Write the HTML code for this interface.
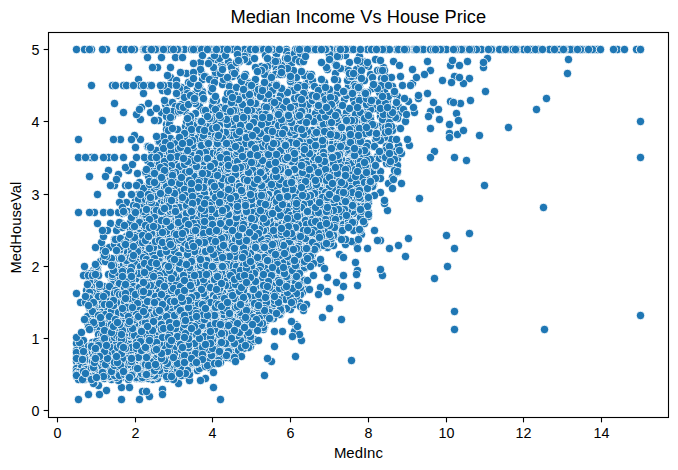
<!DOCTYPE html>
<html><head><meta charset="utf-8"><title>Median Income Vs House Price</title>
<style>
html,body{margin:0;padding:0;background:#fff;}
body{width:678px;height:470px;overflow:hidden;font-family:"Liberation Sans",sans-serif;}
svg{display:block;}
text{font-family:"Liberation Sans",sans-serif;fill:#000;}
.tk text{font-size:14.3px;}
</style></head><body>
<svg width="678" height="470" viewBox="0 0 678 470">
<rect width="678" height="470" fill="#fff"/>
<g class="pts" fill="#1f77b4" stroke="#fff" stroke-width="0.8" transform="translate(0.5 0.5)">
<circle cx="361" cy="95" r="4.17"/><circle cx="282" cy="309" r="4.17"/><circle cx="336" cy="122" r="4.17"/><circle cx="449" cy="124" r="4.17"/><circle cx="591" cy="49" r="4.17"/><circle cx="366" cy="133" r="4.17"/><circle cx="287" cy="56" r="4.17"/><circle cx="213" cy="121" r="4.17"/><circle cx="231" cy="358" r="4.17"/><circle cx="372" cy="49" r="4.17"/><circle cx="158" cy="141" r="4.17"/><circle cx="231" cy="354" r="4.17"/><circle cx="239" cy="109" r="4.17"/><circle cx="345" cy="55" r="4.17"/><circle cx="309" cy="84" r="4.17"/><circle cx="76" cy="369" r="4.17"/><circle cx="370" cy="74" r="4.17"/><circle cx="280" cy="314" r="4.17"/><circle cx="102" cy="376" r="4.17"/><circle cx="324" cy="82" r="4.17"/><circle cx="381" cy="78" r="4.17"/><circle cx="268" cy="75" r="4.17"/><circle cx="335" cy="73" r="4.17"/><circle cx="103" cy="252" r="4.17"/><circle cx="301" cy="138" r="4.17"/><circle cx="314" cy="49" r="4.17"/><circle cx="571" cy="49" r="4.17"/><circle cx="91" cy="157" r="4.17"/><circle cx="408" cy="238" r="4.17"/><circle cx="339" cy="221" r="4.17"/><circle cx="384" cy="91" r="4.17"/><circle cx="215" cy="363" r="4.17"/><circle cx="104" cy="378" r="4.17"/><circle cx="78" cy="366" r="4.17"/><circle cx="250" cy="346" r="4.17"/><circle cx="430" cy="128" r="4.17"/><circle cx="338" cy="177" r="4.17"/><circle cx="456" cy="49" r="4.17"/><circle cx="249" cy="49" r="4.17"/><circle cx="221" cy="65" r="4.17"/><circle cx="402" cy="85" r="4.17"/><circle cx="193" cy="120" r="4.17"/><circle cx="149" cy="85" r="4.17"/><circle cx="394" cy="128" r="4.17"/><circle cx="397" cy="96" r="4.17"/><circle cx="200" cy="62" r="4.17"/><circle cx="97" cy="270" r="4.17"/><circle cx="322" cy="89" r="4.17"/><circle cx="387" cy="210" r="4.17"/><circle cx="267" cy="67" r="4.17"/><circle cx="113" cy="264" r="4.17"/><circle cx="387" cy="104" r="4.17"/><circle cx="272" cy="306" r="4.17"/><circle cx="249" cy="82" r="4.17"/><circle cx="357" cy="123" r="4.17"/><circle cx="384" cy="203" r="4.17"/><circle cx="255" cy="85" r="4.17"/><circle cx="76" cy="357" r="4.17"/><circle cx="228" cy="357" r="4.17"/><circle cx="328" cy="129" r="4.17"/><circle cx="359" cy="119" r="4.17"/><circle cx="386" cy="77" r="4.17"/><circle cx="469" cy="233" r="4.17"/><circle cx="308" cy="100" r="4.17"/><circle cx="274" cy="65" r="4.17"/><circle cx="294" cy="291" r="4.17"/><circle cx="165" cy="104" r="4.17"/><circle cx="331" cy="144" r="4.17"/><circle cx="76" cy="343" r="4.17"/><circle cx="157" cy="67" r="4.17"/><circle cx="373" cy="146" r="4.17"/><circle cx="192" cy="94" r="4.17"/><circle cx="180" cy="131" r="4.17"/><circle cx="255" cy="108" r="4.17"/><circle cx="421" cy="49" r="4.17"/><circle cx="170" cy="138" r="4.17"/><circle cx="418" cy="98" r="4.17"/><circle cx="334" cy="236" r="4.17"/><circle cx="121" cy="238" r="4.17"/><circle cx="199" cy="106" r="4.17"/><circle cx="161" cy="57" r="4.17"/><circle cx="392" cy="86" r="4.17"/><circle cx="303" cy="49" r="4.17"/><circle cx="485" cy="91" r="4.17"/><circle cx="191" cy="364" r="4.17"/><circle cx="380" cy="116" r="4.17"/><circle cx="231" cy="49" r="4.17"/><circle cx="162" cy="184" r="4.17"/><circle cx="326" cy="135" r="4.17"/><circle cx="247" cy="56" r="4.17"/><circle cx="374" cy="230" r="4.17"/><circle cx="214" cy="77" r="4.17"/><circle cx="423" cy="49" r="4.17"/><circle cx="357" cy="270" r="4.17"/><circle cx="302" cy="279" r="4.17"/><circle cx="123" cy="85" r="4.17"/><circle cx="78" cy="399" r="4.17"/><circle cx="562" cy="49" r="4.17"/><circle cx="152" cy="49" r="4.17"/><circle cx="150" cy="180" r="4.17"/><circle cx="235" cy="69" r="4.17"/><circle cx="368" cy="66" r="4.17"/><circle cx="348" cy="86" r="4.17"/><circle cx="257" cy="49" r="4.17"/><circle cx="393" cy="111" r="4.17"/><circle cx="339" cy="138" r="4.17"/><circle cx="209" cy="126" r="4.17"/><circle cx="383" cy="67" r="4.17"/><circle cx="230" cy="111" r="4.17"/><circle cx="359" cy="90" r="4.17"/><circle cx="151" cy="85" r="4.17"/><circle cx="368" cy="212" r="4.17"/><circle cx="172" cy="116" r="4.17"/><circle cx="363" cy="142" r="4.17"/><circle cx="617" cy="49" r="4.17"/><circle cx="108" cy="157" r="4.17"/><circle cx="216" cy="145" r="4.17"/><circle cx="230" cy="348" r="4.17"/><circle cx="318" cy="129" r="4.17"/><circle cx="389" cy="132" r="4.17"/><circle cx="340" cy="223" r="4.17"/><circle cx="248" cy="83" r="4.17"/><circle cx="492" cy="49" r="4.17"/><circle cx="376" cy="140" r="4.17"/><circle cx="141" cy="378" r="4.17"/><circle cx="103" cy="248" r="4.17"/><circle cx="118" cy="257" r="4.17"/><circle cx="379" cy="110" r="4.17"/><circle cx="266" cy="114" r="4.17"/><circle cx="359" cy="65" r="4.17"/><circle cx="332" cy="204" r="4.17"/><circle cx="108" cy="170" r="4.17"/><circle cx="228" cy="61" r="4.17"/><circle cx="123" cy="157" r="4.17"/><circle cx="345" cy="244" r="4.17"/><circle cx="321" cy="94" r="4.17"/><circle cx="175" cy="57" r="4.17"/><circle cx="220" cy="107" r="4.17"/><circle cx="594" cy="49" r="4.17"/><circle cx="302" cy="49" r="4.17"/><circle cx="175" cy="168" r="4.17"/><circle cx="125" cy="185" r="4.17"/><circle cx="118" cy="174" r="4.17"/><circle cx="409" cy="145" r="4.17"/><circle cx="401" cy="183" r="4.17"/><circle cx="294" cy="331" r="4.17"/><circle cx="339" cy="53" r="4.17"/><circle cx="386" cy="163" r="4.17"/><circle cx="286" cy="49" r="4.17"/><circle cx="348" cy="153" r="4.17"/><circle cx="439" cy="119" r="4.17"/><circle cx="388" cy="183" r="4.17"/><circle cx="94" cy="279" r="4.17"/><circle cx="98" cy="311" r="4.17"/><circle cx="378" cy="170" r="4.17"/><circle cx="167" cy="102" r="4.17"/><circle cx="183" cy="89" r="4.17"/><circle cx="201" cy="121" r="4.17"/><circle cx="104" cy="307" r="4.17"/><circle cx="295" cy="49" r="4.17"/><circle cx="368" cy="109" r="4.17"/><circle cx="365" cy="92" r="4.17"/><circle cx="358" cy="114" r="4.17"/><circle cx="169" cy="85" r="4.17"/><circle cx="377" cy="156" r="4.17"/><circle cx="100" cy="261" r="4.17"/><circle cx="199" cy="123" r="4.17"/><circle cx="500" cy="49" r="4.17"/><circle cx="400" cy="76" r="4.17"/><circle cx="268" cy="65" r="4.17"/><circle cx="94" cy="212" r="4.17"/><circle cx="285" cy="58" r="4.17"/><circle cx="340" cy="297" r="4.17"/><circle cx="167" cy="49" r="4.17"/><circle cx="398" cy="106" r="4.17"/><circle cx="285" cy="126" r="4.17"/><circle cx="186" cy="370" r="4.17"/><circle cx="275" cy="310" r="4.17"/><circle cx="394" cy="151" r="4.17"/><circle cx="91" cy="286" r="4.17"/><circle cx="367" cy="107" r="4.17"/><circle cx="277" cy="119" r="4.17"/><circle cx="372" cy="88" r="4.17"/><circle cx="111" cy="279" r="4.17"/><circle cx="142" cy="378" r="4.17"/><circle cx="268" cy="301" r="4.17"/><circle cx="336" cy="282" r="4.17"/><circle cx="197" cy="96" r="4.17"/><circle cx="233" cy="68" r="4.17"/><circle cx="388" cy="119" r="4.17"/><circle cx="105" cy="176" r="4.17"/><circle cx="106" cy="49" r="4.17"/><circle cx="165" cy="152" r="4.17"/><circle cx="303" cy="310" r="4.17"/><circle cx="337" cy="135" r="4.17"/><circle cx="220" cy="49" r="4.17"/><circle cx="365" cy="151" r="4.17"/><circle cx="304" cy="127" r="4.17"/><circle cx="91" cy="345" r="4.17"/><circle cx="196" cy="137" r="4.17"/><circle cx="338" cy="233" r="4.17"/><circle cx="382" cy="275" r="4.17"/><circle cx="375" cy="139" r="4.17"/><circle cx="137" cy="227" r="4.17"/><circle cx="320" cy="103" r="4.17"/><circle cx="384" cy="49" r="4.17"/><circle cx="375" cy="59" r="4.17"/><circle cx="89" cy="308" r="4.17"/><circle cx="187" cy="370" r="4.17"/><circle cx="315" cy="121" r="4.17"/><circle cx="226" cy="348" r="4.17"/><circle cx="386" cy="143" r="4.17"/><circle cx="243" cy="88" r="4.17"/><circle cx="178" cy="112" r="4.17"/><circle cx="220" cy="351" r="4.17"/><circle cx="81" cy="378" r="4.17"/><circle cx="403" cy="49" r="4.17"/><circle cx="216" cy="59" r="4.17"/><circle cx="101" cy="375" r="4.17"/><circle cx="215" cy="127" r="4.17"/><circle cx="202" cy="79" r="4.17"/><circle cx="361" cy="234" r="4.17"/><circle cx="393" cy="61" r="4.17"/><circle cx="536" cy="109" r="4.17"/><circle cx="353" cy="85" r="4.17"/><circle cx="142" cy="224" r="4.17"/><circle cx="260" cy="49" r="4.17"/><circle cx="553" cy="49" r="4.17"/><circle cx="352" cy="94" r="4.17"/><circle cx="236" cy="49" r="4.17"/><circle cx="116" cy="230" r="4.17"/><circle cx="275" cy="66" r="4.17"/><circle cx="102" cy="312" r="4.17"/><circle cx="392" cy="150" r="4.17"/><circle cx="170" cy="77" r="4.17"/><circle cx="300" cy="62" r="4.17"/><circle cx="331" cy="136" r="4.17"/><circle cx="85" cy="273" r="4.17"/><circle cx="298" cy="152" r="4.17"/><circle cx="271" cy="95" r="4.17"/><circle cx="145" cy="172" r="4.17"/><circle cx="98" cy="275" r="4.17"/><circle cx="76" cy="375" r="4.17"/><circle cx="358" cy="147" r="4.17"/><circle cx="317" cy="148" r="4.17"/><circle cx="238" cy="349" r="4.17"/><circle cx="76" cy="361" r="4.17"/><circle cx="147" cy="160" r="4.17"/><circle cx="202" cy="91" r="4.17"/><circle cx="380" cy="269" r="4.17"/><circle cx="370" cy="171" r="4.17"/><circle cx="314" cy="104" r="4.17"/><circle cx="392" cy="177" r="4.17"/><circle cx="363" cy="61" r="4.17"/><circle cx="587" cy="49" r="4.17"/><circle cx="163" cy="374" r="4.17"/><circle cx="203" cy="99" r="4.17"/><circle cx="189" cy="372" r="4.17"/><circle cx="388" cy="111" r="4.17"/><circle cx="162" cy="139" r="4.17"/><circle cx="344" cy="222" r="4.17"/><circle cx="142" cy="391" r="4.17"/><circle cx="265" cy="73" r="4.17"/><circle cx="126" cy="202" r="4.17"/><circle cx="159" cy="141" r="4.17"/><circle cx="333" cy="205" r="4.17"/><circle cx="373" cy="185" r="4.17"/><circle cx="356" cy="69" r="4.17"/><circle cx="309" cy="251" r="4.17"/><circle cx="186" cy="73" r="4.17"/><circle cx="113" cy="378" r="4.17"/><circle cx="356" cy="122" r="4.17"/><circle cx="247" cy="100" r="4.17"/><circle cx="321" cy="133" r="4.17"/><circle cx="356" cy="243" r="4.17"/><circle cx="468" cy="49" r="4.17"/><circle cx="353" cy="99" r="4.17"/><circle cx="275" cy="149" r="4.17"/><circle cx="207" cy="360" r="4.17"/><circle cx="397" cy="158" r="4.17"/><circle cx="301" cy="268" r="4.17"/><circle cx="354" cy="136" r="4.17"/><circle cx="312" cy="49" r="4.17"/><circle cx="264" cy="327" r="4.17"/><circle cx="281" cy="65" r="4.17"/><circle cx="244" cy="340" r="4.17"/><circle cx="449" cy="133" r="4.17"/><circle cx="381" cy="125" r="4.17"/><circle cx="596" cy="49" r="4.17"/><circle cx="181" cy="87" r="4.17"/><circle cx="257" cy="92" r="4.17"/><circle cx="164" cy="144" r="4.17"/><circle cx="327" cy="198" r="4.17"/><circle cx="272" cy="84" r="4.17"/><circle cx="282" cy="89" r="4.17"/><circle cx="387" cy="100" r="4.17"/><circle cx="162" cy="389" r="4.17"/><circle cx="130" cy="229" r="4.17"/><circle cx="304" cy="268" r="4.17"/><circle cx="326" cy="95" r="4.17"/><circle cx="310" cy="49" r="4.17"/><circle cx="98" cy="385" r="4.17"/><circle cx="108" cy="377" r="4.17"/><circle cx="306" cy="83" r="4.17"/><circle cx="280" cy="312" r="4.17"/><circle cx="290" cy="289" r="4.17"/><circle cx="298" cy="264" r="4.17"/><circle cx="349" cy="62" r="4.17"/><circle cx="198" cy="49" r="4.17"/><circle cx="112" cy="280" r="4.17"/><circle cx="349" cy="134" r="4.17"/><circle cx="366" cy="212" r="4.17"/><circle cx="345" cy="227" r="4.17"/><circle cx="98" cy="304" r="4.17"/><circle cx="528" cy="49" r="4.17"/><circle cx="322" cy="200" r="4.17"/><circle cx="219" cy="127" r="4.17"/><circle cx="593" cy="49" r="4.17"/><circle cx="158" cy="49" r="4.17"/><circle cx="326" cy="116" r="4.17"/><circle cx="110" cy="223" r="4.17"/><circle cx="288" cy="73" r="4.17"/><circle cx="340" cy="155" r="4.17"/><circle cx="240" cy="78" r="4.17"/><circle cx="223" cy="123" r="4.17"/><circle cx="398" cy="114" r="4.17"/><circle cx="152" cy="198" r="4.17"/><circle cx="151" cy="150" r="4.17"/><circle cx="335" cy="229" r="4.17"/><circle cx="378" cy="85" r="4.17"/><circle cx="341" cy="177" r="4.17"/><circle cx="328" cy="53" r="4.17"/><circle cx="346" cy="204" r="4.17"/><circle cx="308" cy="81" r="4.17"/><circle cx="94" cy="305" r="4.17"/><circle cx="582" cy="49" r="4.17"/><circle cx="438" cy="49" r="4.17"/><circle cx="278" cy="122" r="4.17"/><circle cx="188" cy="82" r="4.17"/><circle cx="216" cy="150" r="4.17"/><circle cx="320" cy="101" r="4.17"/><circle cx="188" cy="372" r="4.17"/><circle cx="343" cy="152" r="4.17"/><circle cx="253" cy="341" r="4.17"/><circle cx="387" cy="145" r="4.17"/><circle cx="372" cy="186" r="4.17"/><circle cx="360" cy="230" r="4.17"/><circle cx="128" cy="170" r="4.17"/><circle cx="193" cy="127" r="4.17"/><circle cx="170" cy="67" r="4.17"/><circle cx="82" cy="379" r="4.17"/><circle cx="317" cy="134" r="4.17"/><circle cx="419" cy="198" r="4.17"/><circle cx="221" cy="345" r="4.17"/><circle cx="597" cy="49" r="4.17"/><circle cx="387" cy="116" r="4.17"/><circle cx="152" cy="67" r="4.17"/><circle cx="190" cy="117" r="4.17"/><circle cx="355" cy="125" r="4.17"/><circle cx="503" cy="49" r="4.17"/><circle cx="81" cy="358" r="4.17"/><circle cx="318" cy="247" r="4.17"/><circle cx="191" cy="133" r="4.17"/><circle cx="319" cy="129" r="4.17"/><circle cx="232" cy="344" r="4.17"/><circle cx="347" cy="49" r="4.17"/><circle cx="185" cy="126" r="4.17"/><circle cx="102" cy="49" r="4.17"/><circle cx="172" cy="188" r="4.17"/><circle cx="211" cy="90" r="4.17"/><circle cx="288" cy="138" r="4.17"/><circle cx="121" cy="377" r="4.17"/><circle cx="178" cy="95" r="4.17"/><circle cx="226" cy="356" r="4.17"/><circle cx="430" cy="70" r="4.17"/><circle cx="157" cy="164" r="4.17"/><circle cx="529" cy="49" r="4.17"/><circle cx="121" cy="223" r="4.17"/><circle cx="76" cy="49" r="4.17"/><circle cx="271" cy="361" r="4.17"/><circle cx="430" cy="49" r="4.17"/><circle cx="393" cy="154" r="4.17"/><circle cx="184" cy="49" r="4.17"/><circle cx="327" cy="247" r="4.17"/><circle cx="380" cy="171" r="4.17"/><circle cx="88" cy="365" r="4.17"/><circle cx="312" cy="254" r="4.17"/><circle cx="359" cy="140" r="4.17"/><circle cx="143" cy="202" r="4.17"/><circle cx="101" cy="242" r="4.17"/><circle cx="94" cy="382" r="4.17"/><circle cx="157" cy="157" r="4.17"/><circle cx="162" cy="90" r="4.17"/><circle cx="216" cy="107" r="4.17"/><circle cx="76" cy="375" r="4.17"/><circle cx="248" cy="121" r="4.17"/><circle cx="145" cy="186" r="4.17"/><circle cx="624" cy="49" r="4.17"/><circle cx="125" cy="167" r="4.17"/><circle cx="262" cy="107" r="4.17"/><circle cx="224" cy="49" r="4.17"/><circle cx="140" cy="139" r="4.17"/><circle cx="307" cy="110" r="4.17"/><circle cx="195" cy="113" r="4.17"/><circle cx="517" cy="49" r="4.17"/><circle cx="232" cy="71" r="4.17"/><circle cx="300" cy="132" r="4.17"/><circle cx="283" cy="95" r="4.17"/><circle cx="311" cy="260" r="4.17"/><circle cx="318" cy="247" r="4.17"/><circle cx="108" cy="274" r="4.17"/><circle cx="230" cy="65" r="4.17"/><circle cx="403" cy="109" r="4.17"/><circle cx="143" cy="231" r="4.17"/><circle cx="276" cy="69" r="4.17"/><circle cx="408" cy="101" r="4.17"/><circle cx="589" cy="49" r="4.17"/><circle cx="341" cy="116" r="4.17"/><circle cx="380" cy="240" r="4.17"/><circle cx="404" cy="98" r="4.17"/><circle cx="336" cy="235" r="4.17"/><circle cx="205" cy="115" r="4.17"/><circle cx="331" cy="220" r="4.17"/><circle cx="119" cy="258" r="4.17"/><circle cx="367" cy="92" r="4.17"/><circle cx="391" cy="164" r="4.17"/><circle cx="397" cy="165" r="4.17"/><circle cx="306" cy="242" r="4.17"/><circle cx="339" cy="216" r="4.17"/><circle cx="164" cy="158" r="4.17"/><circle cx="144" cy="229" r="4.17"/><circle cx="142" cy="222" r="4.17"/><circle cx="248" cy="113" r="4.17"/><circle cx="88" cy="304" r="4.17"/><circle cx="556" cy="49" r="4.17"/><circle cx="304" cy="91" r="4.17"/><circle cx="266" cy="81" r="4.17"/><circle cx="374" cy="159" r="4.17"/><circle cx="146" cy="49" r="4.17"/><circle cx="401" cy="153" r="4.17"/><circle cx="196" cy="49" r="4.17"/><circle cx="76" cy="376" r="4.17"/><circle cx="386" cy="146" r="4.17"/><circle cx="294" cy="80" r="4.17"/><circle cx="137" cy="185" r="4.17"/><circle cx="288" cy="60" r="4.17"/><circle cx="382" cy="119" r="4.17"/><circle cx="262" cy="325" r="4.17"/><circle cx="186" cy="89" r="4.17"/><circle cx="572" cy="49" r="4.17"/><circle cx="507" cy="49" r="4.17"/><circle cx="228" cy="84" r="4.17"/><circle cx="205" cy="149" r="4.17"/><circle cx="308" cy="243" r="4.17"/><circle cx="185" cy="111" r="4.17"/><circle cx="200" cy="366" r="4.17"/><circle cx="442" cy="49" r="4.17"/><circle cx="79" cy="362" r="4.17"/><circle cx="390" cy="156" r="4.17"/><circle cx="117" cy="267" r="4.17"/><circle cx="299" cy="275" r="4.17"/><circle cx="91" cy="360" r="4.17"/><circle cx="248" cy="61" r="4.17"/><circle cx="150" cy="112" r="4.17"/><circle cx="199" cy="86" r="4.17"/><circle cx="473" cy="49" r="4.17"/><circle cx="146" cy="229" r="4.17"/><circle cx="204" cy="153" r="4.17"/><circle cx="97" cy="267" r="4.17"/><circle cx="299" cy="140" r="4.17"/><circle cx="139" cy="182" r="4.17"/><circle cx="308" cy="243" r="4.17"/><circle cx="329" cy="244" r="4.17"/><circle cx="106" cy="292" r="4.17"/><circle cx="122" cy="227" r="4.17"/><circle cx="351" cy="49" r="4.17"/><circle cx="315" cy="113" r="4.17"/><circle cx="171" cy="145" r="4.17"/><circle cx="320" cy="245" r="4.17"/><circle cx="568" cy="49" r="4.17"/><circle cx="393" cy="179" r="4.17"/><circle cx="320" cy="263" r="4.17"/><circle cx="261" cy="66" r="4.17"/><circle cx="269" cy="99" r="4.17"/><circle cx="322" cy="127" r="4.17"/><circle cx="346" cy="112" r="4.17"/><circle cx="136" cy="233" r="4.17"/><circle cx="351" cy="117" r="4.17"/><circle cx="190" cy="95" r="4.17"/><circle cx="386" cy="49" r="4.17"/><circle cx="277" cy="72" r="4.17"/><circle cx="140" cy="234" r="4.17"/><circle cx="269" cy="125" r="4.17"/><circle cx="103" cy="236" r="4.17"/><circle cx="175" cy="141" r="4.17"/><circle cx="367" cy="154" r="4.17"/><circle cx="276" cy="54" r="4.17"/><circle cx="343" cy="286" r="4.17"/><circle cx="162" cy="146" r="4.17"/><circle cx="320" cy="154" r="4.17"/><circle cx="334" cy="236" r="4.17"/><circle cx="254" cy="49" r="4.17"/><circle cx="262" cy="49" r="4.17"/><circle cx="137" cy="173" r="4.17"/><circle cx="78" cy="157" r="4.17"/><circle cx="137" cy="232" r="4.17"/><circle cx="154" cy="49" r="4.17"/><circle cx="208" cy="49" r="4.17"/><circle cx="329" cy="308" r="4.17"/><circle cx="253" cy="90" r="4.17"/><circle cx="339" cy="254" r="4.17"/><circle cx="544" cy="329" r="4.17"/><circle cx="128" cy="185" r="4.17"/><circle cx="346" cy="220" r="4.17"/><circle cx="98" cy="331" r="4.17"/><circle cx="331" cy="119" r="4.17"/><circle cx="91" cy="49" r="4.17"/><circle cx="357" cy="149" r="4.17"/><circle cx="134" cy="49" r="4.17"/><circle cx="114" cy="185" r="4.17"/><circle cx="320" cy="128" r="4.17"/><circle cx="298" cy="111" r="4.17"/><circle cx="339" cy="120" r="4.17"/><circle cx="138" cy="79" r="4.17"/><circle cx="105" cy="306" r="4.17"/><circle cx="223" cy="49" r="4.17"/><circle cx="250" cy="342" r="4.17"/><circle cx="337" cy="104" r="4.17"/><circle cx="90" cy="349" r="4.17"/><circle cx="152" cy="379" r="4.17"/><circle cx="197" cy="370" r="4.17"/><circle cx="397" cy="118" r="4.17"/><circle cx="164" cy="375" r="4.17"/><circle cx="97" cy="328" r="4.17"/><circle cx="356" cy="205" r="4.17"/><circle cx="320" cy="49" r="4.17"/><circle cx="96" cy="293" r="4.17"/><circle cx="321" cy="96" r="4.17"/><circle cx="211" cy="109" r="4.17"/><circle cx="341" cy="206" r="4.17"/><circle cx="363" cy="170" r="4.17"/><circle cx="190" cy="83" r="4.17"/><circle cx="172" cy="102" r="4.17"/><circle cx="313" cy="103" r="4.17"/><circle cx="377" cy="100" r="4.17"/><circle cx="317" cy="107" r="4.17"/><circle cx="358" cy="107" r="4.17"/><circle cx="148" cy="378" r="4.17"/><circle cx="508" cy="127" r="4.17"/><circle cx="232" cy="342" r="4.17"/><circle cx="220" cy="348" r="4.17"/><circle cx="319" cy="88" r="4.17"/><circle cx="380" cy="192" r="4.17"/><circle cx="93" cy="270" r="4.17"/><circle cx="273" cy="302" r="4.17"/><circle cx="189" cy="115" r="4.17"/><circle cx="101" cy="375" r="4.17"/><circle cx="104" cy="312" r="4.17"/><circle cx="295" cy="104" r="4.17"/><circle cx="294" cy="146" r="4.17"/><circle cx="360" cy="60" r="4.17"/><circle cx="161" cy="189" r="4.17"/><circle cx="173" cy="378" r="4.17"/><circle cx="306" cy="49" r="4.17"/><circle cx="148" cy="176" r="4.17"/><circle cx="186" cy="121" r="4.17"/><circle cx="412" cy="83" r="4.17"/><circle cx="276" cy="84" r="4.17"/><circle cx="335" cy="94" r="4.17"/><circle cx="434" cy="151" r="4.17"/><circle cx="264" cy="375" r="4.17"/><circle cx="320" cy="287" r="4.17"/><circle cx="197" cy="49" r="4.17"/><circle cx="157" cy="49" r="4.17"/><circle cx="304" cy="128" r="4.17"/><circle cx="126" cy="249" r="4.17"/><circle cx="163" cy="136" r="4.17"/><circle cx="98" cy="339" r="4.17"/><circle cx="299" cy="85" r="4.17"/><circle cx="364" cy="80" r="4.17"/><circle cx="153" cy="204" r="4.17"/><circle cx="83" cy="275" r="4.17"/><circle cx="315" cy="249" r="4.17"/><circle cx="111" cy="285" r="4.17"/><circle cx="364" cy="223" r="4.17"/><circle cx="533" cy="49" r="4.17"/><circle cx="341" cy="230" r="4.17"/><circle cx="185" cy="152" r="4.17"/><circle cx="254" cy="85" r="4.17"/><circle cx="243" cy="59" r="4.17"/><circle cx="174" cy="143" r="4.17"/><circle cx="153" cy="155" r="4.17"/><circle cx="192" cy="49" r="4.17"/><circle cx="164" cy="148" r="4.17"/><circle cx="263" cy="329" r="4.17"/><circle cx="413" cy="49" r="4.17"/><circle cx="219" cy="122" r="4.17"/><circle cx="392" cy="109" r="4.17"/><circle cx="103" cy="258" r="4.17"/><circle cx="295" cy="356" r="4.17"/><circle cx="242" cy="95" r="4.17"/><circle cx="236" cy="51" r="4.17"/><circle cx="334" cy="133" r="4.17"/><circle cx="299" cy="128" r="4.17"/><circle cx="195" cy="103" r="4.17"/><circle cx="166" cy="124" r="4.17"/><circle cx="111" cy="379" r="4.17"/><circle cx="140" cy="85" r="4.17"/><circle cx="307" cy="74" r="4.17"/><circle cx="76" cy="352" r="4.17"/><circle cx="333" cy="94" r="4.17"/><circle cx="367" cy="166" r="4.17"/><circle cx="389" cy="155" r="4.17"/><circle cx="212" cy="101" r="4.17"/><circle cx="336" cy="49" r="4.17"/><circle cx="368" cy="216" r="4.17"/><circle cx="355" cy="199" r="4.17"/><circle cx="161" cy="201" r="4.17"/><circle cx="202" cy="94" r="4.17"/><circle cx="354" cy="222" r="4.17"/><circle cx="194" cy="364" r="4.17"/><circle cx="109" cy="247" r="4.17"/><circle cx="460" cy="49" r="4.17"/><circle cx="442" cy="80" r="4.17"/><circle cx="254" cy="58" r="4.17"/><circle cx="475" cy="49" r="4.17"/><circle cx="201" cy="72" r="4.17"/><circle cx="235" cy="94" r="4.17"/><circle cx="418" cy="95" r="4.17"/><circle cx="277" cy="87" r="4.17"/><circle cx="228" cy="115" r="4.17"/><circle cx="306" cy="247" r="4.17"/><circle cx="264" cy="74" r="4.17"/><circle cx="291" cy="88" r="4.17"/><circle cx="205" cy="378" r="4.17"/><circle cx="311" cy="74" r="4.17"/><circle cx="348" cy="161" r="4.17"/><circle cx="394" cy="114" r="4.17"/><circle cx="290" cy="90" r="4.17"/><circle cx="158" cy="120" r="4.17"/><circle cx="300" cy="183" r="4.17"/><circle cx="103" cy="286" r="4.17"/><circle cx="265" cy="128" r="4.17"/><circle cx="327" cy="69" r="4.17"/><circle cx="483" cy="67" r="4.17"/><circle cx="97" cy="194" r="4.17"/><circle cx="346" cy="69" r="4.17"/><circle cx="337" cy="192" r="4.17"/><circle cx="225" cy="343" r="4.17"/><circle cx="288" cy="130" r="4.17"/><circle cx="275" cy="129" r="4.17"/><circle cx="304" cy="267" r="4.17"/><circle cx="338" cy="226" r="4.17"/><circle cx="264" cy="67" r="4.17"/><circle cx="546" cy="98" r="4.17"/><circle cx="347" cy="80" r="4.17"/><circle cx="86" cy="290" r="4.17"/><circle cx="396" cy="49" r="4.17"/><circle cx="236" cy="121" r="4.17"/><circle cx="345" cy="180" r="4.17"/><circle cx="119" cy="252" r="4.17"/><circle cx="84" cy="266" r="4.17"/><circle cx="222" cy="84" r="4.17"/><circle cx="141" cy="107" r="4.17"/><circle cx="304" cy="86" r="4.17"/><circle cx="150" cy="376" r="4.17"/><circle cx="320" cy="182" r="4.17"/><circle cx="490" cy="49" r="4.17"/><circle cx="98" cy="338" r="4.17"/><circle cx="399" cy="65" r="4.17"/><circle cx="346" cy="126" r="4.17"/><circle cx="293" cy="109" r="4.17"/><circle cx="434" cy="278" r="4.17"/><circle cx="271" cy="121" r="4.17"/><circle cx="276" cy="101" r="4.17"/><circle cx="121" cy="399" r="4.17"/><circle cx="131" cy="376" r="4.17"/><circle cx="161" cy="112" r="4.17"/><circle cx="350" cy="225" r="4.17"/><circle cx="89" cy="287" r="4.17"/><circle cx="365" cy="125" r="4.17"/><circle cx="389" cy="122" r="4.17"/><circle cx="375" cy="49" r="4.17"/><circle cx="246" cy="92" r="4.17"/><circle cx="283" cy="309" r="4.17"/><circle cx="112" cy="265" r="4.17"/><circle cx="200" cy="69" r="4.17"/><circle cx="156" cy="150" r="4.17"/><circle cx="427" cy="93" r="4.17"/><circle cx="441" cy="49" r="4.17"/><circle cx="301" cy="253" r="4.17"/><circle cx="336" cy="107" r="4.17"/><circle cx="228" cy="113" r="4.17"/><circle cx="212" cy="106" r="4.17"/><circle cx="353" cy="49" r="4.17"/><circle cx="346" cy="152" r="4.17"/><circle cx="366" cy="195" r="4.17"/><circle cx="216" cy="166" r="4.17"/><circle cx="84" cy="49" r="4.17"/><circle cx="272" cy="49" r="4.17"/><circle cx="176" cy="80" r="4.17"/><circle cx="238" cy="62" r="4.17"/><circle cx="114" cy="103" r="4.17"/><circle cx="102" cy="295" r="4.17"/><circle cx="298" cy="98" r="4.17"/><circle cx="170" cy="172" r="4.17"/><circle cx="261" cy="49" r="4.17"/><circle cx="354" cy="194" r="4.17"/><circle cx="361" cy="188" r="4.17"/><circle cx="272" cy="149" r="4.17"/><circle cx="335" cy="100" r="4.17"/><circle cx="537" cy="49" r="4.17"/><circle cx="272" cy="116" r="4.17"/><circle cx="166" cy="116" r="4.17"/><circle cx="206" cy="147" r="4.17"/><circle cx="357" cy="285" r="4.17"/><circle cx="139" cy="399" r="4.17"/><circle cx="278" cy="311" r="4.17"/><circle cx="344" cy="141" r="4.17"/><circle cx="323" cy="187" r="4.17"/><circle cx="449" cy="137" r="4.17"/><circle cx="76" cy="350" r="4.17"/><circle cx="330" cy="94" r="4.17"/><circle cx="298" cy="259" r="4.17"/><circle cx="273" cy="313" r="4.17"/><circle cx="102" cy="120" r="4.17"/><circle cx="281" cy="297" r="4.17"/><circle cx="350" cy="127" r="4.17"/><circle cx="330" cy="217" r="4.17"/><circle cx="147" cy="186" r="4.17"/><circle cx="138" cy="232" r="4.17"/><circle cx="316" cy="118" r="4.17"/><circle cx="304" cy="126" r="4.17"/><circle cx="335" cy="121" r="4.17"/><circle cx="340" cy="154" r="4.17"/><circle cx="87" cy="316" r="4.17"/><circle cx="282" cy="74" r="4.17"/><circle cx="187" cy="163" r="4.17"/><circle cx="487" cy="58" r="4.17"/><circle cx="391" cy="139" r="4.17"/><circle cx="329" cy="134" r="4.17"/><circle cx="310" cy="95" r="4.17"/><circle cx="389" cy="163" r="4.17"/><circle cx="95" cy="270" r="4.17"/><circle cx="337" cy="152" r="4.17"/><circle cx="316" cy="49" r="4.17"/><circle cx="328" cy="163" r="4.17"/><circle cx="139" cy="233" r="4.17"/><circle cx="397" cy="172" r="4.17"/><circle cx="112" cy="85" r="4.17"/><circle cx="283" cy="136" r="4.17"/><circle cx="166" cy="367" r="4.17"/><circle cx="297" cy="147" r="4.17"/><circle cx="205" cy="76" r="4.17"/><circle cx="414" cy="112" r="4.17"/><circle cx="385" cy="150" r="4.17"/><circle cx="354" cy="108" r="4.17"/><circle cx="640" cy="157" r="4.17"/><circle cx="234" cy="344" r="4.17"/><circle cx="242" cy="104" r="4.17"/><circle cx="166" cy="186" r="4.17"/><circle cx="208" cy="357" r="4.17"/><circle cx="215" cy="72" r="4.17"/><circle cx="331" cy="130" r="4.17"/><circle cx="367" cy="49" r="4.17"/><circle cx="293" cy="182" r="4.17"/><circle cx="221" cy="168" r="4.17"/><circle cx="334" cy="218" r="4.17"/><circle cx="339" cy="154" r="4.17"/><circle cx="332" cy="106" r="4.17"/><circle cx="463" cy="49" r="4.17"/><circle cx="312" cy="130" r="4.17"/><circle cx="215" cy="49" r="4.17"/><circle cx="382" cy="99" r="4.17"/><circle cx="80" cy="302" r="4.17"/><circle cx="147" cy="57" r="4.17"/><circle cx="484" cy="185" r="4.17"/><circle cx="213" cy="387" r="4.17"/><circle cx="318" cy="294" r="4.17"/><circle cx="211" cy="160" r="4.17"/><circle cx="209" cy="151" r="4.17"/><circle cx="308" cy="133" r="4.17"/><circle cx="395" cy="117" r="4.17"/><circle cx="163" cy="158" r="4.17"/><circle cx="76" cy="352" r="4.17"/><circle cx="245" cy="74" r="4.17"/><circle cx="375" cy="162" r="4.17"/><circle cx="282" cy="223" r="4.17"/><circle cx="202" cy="49" r="4.17"/><circle cx="341" cy="126" r="4.17"/><circle cx="348" cy="93" r="4.17"/><circle cx="250" cy="334" r="4.17"/><circle cx="184" cy="366" r="4.17"/><circle cx="483" cy="62" r="4.17"/><circle cx="636" cy="49" r="4.17"/><circle cx="303" cy="248" r="4.17"/><circle cx="284" cy="295" r="4.17"/><circle cx="374" cy="195" r="4.17"/><circle cx="246" cy="130" r="4.17"/><circle cx="337" cy="143" r="4.17"/>
<circle cx="159" cy="155" r="4.17"/><circle cx="167" cy="378" r="4.17"/><circle cx="470" cy="100" r="4.17"/><circle cx="301" cy="293" r="4.17"/><circle cx="346" cy="163" r="4.17"/><circle cx="344" cy="99" r="4.17"/><circle cx="135" cy="235" r="4.17"/><circle cx="92" cy="328" r="4.17"/><circle cx="353" cy="165" r="4.17"/><circle cx="76" cy="374" r="4.17"/><circle cx="210" cy="60" r="4.17"/><circle cx="128" cy="67" r="4.17"/><circle cx="113" cy="279" r="4.17"/><circle cx="358" cy="185" r="4.17"/><circle cx="384" cy="70" r="4.17"/><circle cx="342" cy="135" r="4.17"/><circle cx="226" cy="49" r="4.17"/><circle cx="175" cy="106" r="4.17"/><circle cx="322" cy="124" r="4.17"/><circle cx="359" cy="86" r="4.17"/><circle cx="389" cy="248" r="4.17"/><circle cx="353" cy="213" r="4.17"/><circle cx="108" cy="377" r="4.17"/><circle cx="407" cy="49" r="4.17"/><circle cx="348" cy="135" r="4.17"/><circle cx="195" cy="49" r="4.17"/><circle cx="326" cy="240" r="4.17"/><circle cx="357" cy="130" r="4.17"/><circle cx="125" cy="246" r="4.17"/><circle cx="192" cy="168" r="4.17"/><circle cx="116" cy="240" r="4.17"/><circle cx="204" cy="76" r="4.17"/><circle cx="89" cy="49" r="4.17"/><circle cx="592" cy="49" r="4.17"/><circle cx="205" cy="49" r="4.17"/><circle cx="193" cy="123" r="4.17"/><circle cx="255" cy="67" r="4.17"/><circle cx="367" cy="98" r="4.17"/><circle cx="232" cy="317" r="4.17"/><circle cx="321" cy="141" r="4.17"/><circle cx="381" cy="84" r="4.17"/><circle cx="339" cy="125" r="4.17"/><circle cx="136" cy="378" r="4.17"/><circle cx="379" cy="158" r="4.17"/><circle cx="303" cy="288" r="4.17"/><circle cx="96" cy="266" r="4.17"/><circle cx="163" cy="374" r="4.17"/><circle cx="319" cy="201" r="4.17"/><circle cx="220" cy="113" r="4.17"/><circle cx="232" cy="312" r="4.17"/><circle cx="126" cy="85" r="4.17"/><circle cx="140" cy="207" r="4.17"/><circle cx="241" cy="336" r="4.17"/><circle cx="301" cy="340" r="4.17"/><circle cx="367" cy="143" r="4.17"/><circle cx="94" cy="298" r="4.17"/><circle cx="306" cy="205" r="4.17"/><circle cx="347" cy="201" r="4.17"/><circle cx="151" cy="200" r="4.17"/><circle cx="219" cy="58" r="4.17"/><circle cx="129" cy="377" r="4.17"/><circle cx="332" cy="55" r="4.17"/><circle cx="238" cy="119" r="4.17"/><circle cx="381" cy="85" r="4.17"/><circle cx="286" cy="51" r="4.17"/><circle cx="159" cy="163" r="4.17"/><circle cx="285" cy="113" r="4.17"/><circle cx="293" cy="232" r="4.17"/><circle cx="383" cy="128" r="4.17"/><circle cx="214" cy="139" r="4.17"/><circle cx="555" cy="49" r="4.17"/><circle cx="350" cy="224" r="4.17"/><circle cx="304" cy="228" r="4.17"/><circle cx="233" cy="49" r="4.17"/><circle cx="372" cy="171" r="4.17"/><circle cx="104" cy="376" r="4.17"/><circle cx="121" cy="387" r="4.17"/><circle cx="254" cy="339" r="4.17"/><circle cx="248" cy="85" r="4.17"/><circle cx="414" cy="49" r="4.17"/><circle cx="169" cy="179" r="4.17"/><circle cx="306" cy="141" r="4.17"/><circle cx="159" cy="175" r="4.17"/><circle cx="320" cy="259" r="4.17"/><circle cx="88" cy="283" r="4.17"/><circle cx="193" cy="72" r="4.17"/><circle cx="430" cy="111" r="4.17"/><circle cx="398" cy="49" r="4.17"/><circle cx="374" cy="108" r="4.17"/><circle cx="361" cy="137" r="4.17"/><circle cx="229" cy="118" r="4.17"/><circle cx="221" cy="162" r="4.17"/><circle cx="178" cy="153" r="4.17"/><circle cx="258" cy="340" r="4.17"/><circle cx="481" cy="49" r="4.17"/><circle cx="360" cy="217" r="4.17"/><circle cx="106" cy="376" r="4.17"/><circle cx="328" cy="225" r="4.17"/><circle cx="454" cy="76" r="4.17"/><circle cx="151" cy="211" r="4.17"/><circle cx="466" cy="160" r="4.17"/><circle cx="345" cy="182" r="4.17"/><circle cx="272" cy="301" r="4.17"/><circle cx="294" cy="92" r="4.17"/><circle cx="92" cy="277" r="4.17"/><circle cx="278" cy="114" r="4.17"/><circle cx="394" cy="159" r="4.17"/><circle cx="286" cy="199" r="4.17"/><circle cx="330" cy="217" r="4.17"/><circle cx="127" cy="211" r="4.17"/><circle cx="304" cy="289" r="4.17"/><circle cx="340" cy="185" r="4.17"/><circle cx="210" cy="137" r="4.17"/><circle cx="341" cy="159" r="4.17"/><circle cx="214" cy="357" r="4.17"/><circle cx="290" cy="309" r="4.17"/><circle cx="283" cy="226" r="4.17"/><circle cx="298" cy="275" r="4.17"/><circle cx="181" cy="94" r="4.17"/><circle cx="269" cy="49" r="4.17"/><circle cx="392" cy="130" r="4.17"/><circle cx="363" cy="201" r="4.17"/><circle cx="149" cy="376" r="4.17"/><circle cx="287" cy="283" r="4.17"/><circle cx="308" cy="49" r="4.17"/><circle cx="460" cy="103" r="4.17"/><circle cx="348" cy="197" r="4.17"/><circle cx="391" cy="77" r="4.17"/><circle cx="219" cy="172" r="4.17"/><circle cx="523" cy="49" r="4.17"/><circle cx="388" cy="96" r="4.17"/><circle cx="433" cy="102" r="4.17"/><circle cx="406" cy="49" r="4.17"/><circle cx="218" cy="140" r="4.17"/><circle cx="569" cy="49" r="4.17"/><circle cx="113" cy="265" r="4.17"/><circle cx="338" cy="49" r="4.17"/><circle cx="134" cy="135" r="4.17"/><circle cx="144" cy="157" r="4.17"/><circle cx="230" cy="89" r="4.17"/><circle cx="325" cy="161" r="4.17"/><circle cx="280" cy="145" r="4.17"/><circle cx="334" cy="214" r="4.17"/><circle cx="292" cy="112" r="4.17"/><circle cx="351" cy="360" r="4.17"/><circle cx="203" cy="98" r="4.17"/><circle cx="181" cy="104" r="4.17"/><circle cx="84" cy="354" r="4.17"/><circle cx="391" cy="126" r="4.17"/><circle cx="235" cy="118" r="4.17"/><circle cx="151" cy="157" r="4.17"/><circle cx="150" cy="165" r="4.17"/><circle cx="327" cy="242" r="4.17"/><circle cx="169" cy="122" r="4.17"/><circle cx="356" cy="274" r="4.17"/><circle cx="222" cy="67" r="4.17"/><circle cx="124" cy="376" r="4.17"/><circle cx="312" cy="81" r="4.17"/><circle cx="300" cy="260" r="4.17"/><circle cx="341" cy="49" r="4.17"/><circle cx="346" cy="95" r="4.17"/><circle cx="353" cy="128" r="4.17"/><circle cx="301" cy="124" r="4.17"/><circle cx="232" cy="76" r="4.17"/><circle cx="283" cy="126" r="4.17"/><circle cx="394" cy="93" r="4.17"/><circle cx="244" cy="49" r="4.17"/><circle cx="282" cy="215" r="4.17"/><circle cx="208" cy="357" r="4.17"/><circle cx="211" cy="87" r="4.17"/><circle cx="121" cy="194" r="4.17"/><circle cx="268" cy="96" r="4.17"/><circle cx="178" cy="373" r="4.17"/><circle cx="169" cy="176" r="4.17"/><circle cx="127" cy="252" r="4.17"/><circle cx="258" cy="89" r="4.17"/><circle cx="219" cy="126" r="4.17"/><circle cx="392" cy="188" r="4.17"/><circle cx="294" cy="304" r="4.17"/><circle cx="265" cy="98" r="4.17"/><circle cx="308" cy="104" r="4.17"/><circle cx="570" cy="49" r="4.17"/><circle cx="394" cy="170" r="4.17"/><circle cx="299" cy="253" r="4.17"/><circle cx="377" cy="70" r="4.17"/><circle cx="275" cy="74" r="4.17"/><circle cx="219" cy="349" r="4.17"/><circle cx="469" cy="78" r="4.17"/><circle cx="302" cy="292" r="4.17"/><circle cx="167" cy="91" r="4.17"/><circle cx="153" cy="376" r="4.17"/><circle cx="193" cy="125" r="4.17"/><circle cx="145" cy="171" r="4.17"/><circle cx="145" cy="224" r="4.17"/><circle cx="166" cy="129" r="4.17"/><circle cx="366" cy="146" r="4.17"/><circle cx="327" cy="49" r="4.17"/><circle cx="255" cy="120" r="4.17"/><circle cx="197" cy="88" r="4.17"/><circle cx="532" cy="49" r="4.17"/><circle cx="330" cy="49" r="4.17"/><circle cx="331" cy="168" r="4.17"/><circle cx="275" cy="130" r="4.17"/><circle cx="268" cy="170" r="4.17"/><circle cx="281" cy="226" r="4.17"/><circle cx="261" cy="70" r="4.17"/><circle cx="298" cy="222" r="4.17"/><circle cx="307" cy="135" r="4.17"/><circle cx="269" cy="294" r="4.17"/><circle cx="272" cy="295" r="4.17"/><circle cx="352" cy="163" r="4.17"/><circle cx="175" cy="202" r="4.17"/><circle cx="323" cy="124" r="4.17"/><circle cx="126" cy="236" r="4.17"/><circle cx="269" cy="165" r="4.17"/><circle cx="476" cy="49" r="4.17"/><circle cx="89" cy="356" r="4.17"/><circle cx="463" cy="83" r="4.17"/><circle cx="306" cy="304" r="4.17"/><circle cx="315" cy="137" r="4.17"/><circle cx="281" cy="148" r="4.17"/><circle cx="225" cy="357" r="4.17"/><circle cx="282" cy="331" r="4.17"/><circle cx="89" cy="281" r="4.17"/><circle cx="210" cy="368" r="4.17"/><circle cx="337" cy="149" r="4.17"/><circle cx="106" cy="390" r="4.17"/><circle cx="110" cy="294" r="4.17"/><circle cx="345" cy="118" r="4.17"/><circle cx="337" cy="93" r="4.17"/><circle cx="115" cy="290" r="4.17"/><circle cx="151" cy="202" r="4.17"/><circle cx="320" cy="241" r="4.17"/><circle cx="214" cy="55" r="4.17"/><circle cx="206" cy="126" r="4.17"/><circle cx="287" cy="114" r="4.17"/><circle cx="282" cy="173" r="4.17"/><circle cx="178" cy="49" r="4.17"/><circle cx="329" cy="148" r="4.17"/><circle cx="114" cy="244" r="4.17"/><circle cx="268" cy="291" r="4.17"/><circle cx="349" cy="76" r="4.17"/><circle cx="112" cy="376" r="4.17"/><circle cx="247" cy="52" r="4.17"/><circle cx="307" cy="49" r="4.17"/><circle cx="324" cy="268" r="4.17"/><circle cx="170" cy="216" r="4.17"/><circle cx="329" cy="122" r="4.17"/><circle cx="229" cy="318" r="4.17"/><circle cx="141" cy="378" r="4.17"/><circle cx="384" cy="137" r="4.17"/><circle cx="292" cy="127" r="4.17"/><circle cx="321" cy="226" r="4.17"/><circle cx="142" cy="192" r="4.17"/><circle cx="348" cy="151" r="4.17"/><circle cx="350" cy="172" r="4.17"/><circle cx="279" cy="314" r="4.17"/><circle cx="333" cy="108" r="4.17"/><circle cx="106" cy="297" r="4.17"/><circle cx="340" cy="68" r="4.17"/><circle cx="286" cy="223" r="4.17"/><circle cx="306" cy="256" r="4.17"/><circle cx="538" cy="49" r="4.17"/><circle cx="90" cy="273" r="4.17"/><circle cx="286" cy="308" r="4.17"/><circle cx="293" cy="55" r="4.17"/><circle cx="214" cy="97" r="4.17"/><circle cx="285" cy="299" r="4.17"/><circle cx="209" cy="131" r="4.17"/><circle cx="372" cy="77" r="4.17"/><circle cx="199" cy="368" r="4.17"/><circle cx="355" cy="262" r="4.17"/><circle cx="236" cy="343" r="4.17"/><circle cx="339" cy="155" r="4.17"/><circle cx="135" cy="200" r="4.17"/><circle cx="90" cy="358" r="4.17"/><circle cx="99" cy="286" r="4.17"/><circle cx="314" cy="138" r="4.17"/><circle cx="295" cy="114" r="4.17"/><circle cx="267" cy="309" r="4.17"/><circle cx="348" cy="221" r="4.17"/><circle cx="149" cy="376" r="4.17"/><circle cx="286" cy="222" r="4.17"/><circle cx="253" cy="101" r="4.17"/><circle cx="107" cy="300" r="4.17"/><circle cx="325" cy="135" r="4.17"/><circle cx="260" cy="111" r="4.17"/><circle cx="80" cy="361" r="4.17"/><circle cx="123" cy="112" r="4.17"/><circle cx="116" cy="378" r="4.17"/><circle cx="138" cy="194" r="4.17"/><circle cx="191" cy="154" r="4.17"/><circle cx="211" cy="91" r="4.17"/><circle cx="256" cy="90" r="4.17"/><circle cx="384" cy="157" r="4.17"/><circle cx="197" cy="149" r="4.17"/><circle cx="339" cy="144" r="4.17"/><circle cx="116" cy="377" r="4.17"/><circle cx="182" cy="203" r="4.17"/><circle cx="237" cy="337" r="4.17"/><circle cx="274" cy="303" r="4.17"/><circle cx="215" cy="356" r="4.17"/><circle cx="382" cy="155" r="4.17"/><circle cx="224" cy="169" r="4.17"/><circle cx="178" cy="383" r="4.17"/><circle cx="344" cy="190" r="4.17"/><circle cx="364" cy="129" r="4.17"/><circle cx="319" cy="186" r="4.17"/><circle cx="362" cy="133" r="4.17"/><circle cx="266" cy="320" r="4.17"/><circle cx="380" cy="178" r="4.17"/><circle cx="235" cy="71" r="4.17"/><circle cx="194" cy="191" r="4.17"/><circle cx="133" cy="85" r="4.17"/><circle cx="277" cy="139" r="4.17"/><circle cx="138" cy="199" r="4.17"/><circle cx="295" cy="324" r="4.17"/><circle cx="293" cy="281" r="4.17"/><circle cx="368" cy="180" r="4.17"/><circle cx="317" cy="183" r="4.17"/><circle cx="147" cy="49" r="4.17"/><circle cx="241" cy="113" r="4.17"/><circle cx="321" cy="150" r="4.17"/><circle cx="335" cy="219" r="4.17"/><circle cx="342" cy="173" r="4.17"/><circle cx="305" cy="192" r="4.17"/><circle cx="312" cy="236" r="4.17"/><circle cx="229" cy="91" r="4.17"/><circle cx="300" cy="186" r="4.17"/><circle cx="198" cy="155" r="4.17"/><circle cx="327" cy="134" r="4.17"/><circle cx="291" cy="164" r="4.17"/><circle cx="312" cy="80" r="4.17"/><circle cx="365" cy="94" r="4.17"/><circle cx="230" cy="127" r="4.17"/><circle cx="161" cy="201" r="4.17"/><circle cx="294" cy="177" r="4.17"/><circle cx="114" cy="280" r="4.17"/><circle cx="320" cy="117" r="4.17"/><circle cx="255" cy="79" r="4.17"/><circle cx="357" cy="89" r="4.17"/><circle cx="171" cy="373" r="4.17"/><circle cx="140" cy="216" r="4.17"/><circle cx="164" cy="202" r="4.17"/><circle cx="130" cy="243" r="4.17"/><circle cx="343" cy="224" r="4.17"/><circle cx="264" cy="106" r="4.17"/><circle cx="244" cy="111" r="4.17"/><circle cx="121" cy="268" r="4.17"/><circle cx="385" cy="127" r="4.17"/><circle cx="273" cy="132" r="4.17"/><circle cx="172" cy="49" r="4.17"/><circle cx="287" cy="162" r="4.17"/><circle cx="209" cy="187" r="4.17"/><circle cx="308" cy="141" r="4.17"/><circle cx="306" cy="134" r="4.17"/><circle cx="384" cy="78" r="4.17"/><circle cx="256" cy="49" r="4.17"/><circle cx="188" cy="129" r="4.17"/><circle cx="530" cy="49" r="4.17"/><circle cx="350" cy="213" r="4.17"/><circle cx="264" cy="173" r="4.17"/><circle cx="89" cy="359" r="4.17"/><circle cx="289" cy="143" r="4.17"/><circle cx="367" cy="179" r="4.17"/><circle cx="177" cy="129" r="4.17"/><circle cx="209" cy="367" r="4.17"/><circle cx="302" cy="116" r="4.17"/><circle cx="295" cy="236" r="4.17"/><circle cx="363" cy="174" r="4.17"/><circle cx="349" cy="150" r="4.17"/><circle cx="285" cy="200" r="4.17"/><circle cx="158" cy="374" r="4.17"/><circle cx="256" cy="313" r="4.17"/><circle cx="288" cy="55" r="4.17"/><circle cx="306" cy="247" r="4.17"/><circle cx="193" cy="63" r="4.17"/><circle cx="85" cy="302" r="4.17"/><circle cx="213" cy="67" r="4.17"/><circle cx="360" cy="75" r="4.17"/><circle cx="294" cy="53" r="4.17"/><circle cx="415" cy="49" r="4.17"/><circle cx="372" cy="106" r="4.17"/><circle cx="208" cy="159" r="4.17"/><circle cx="168" cy="215" r="4.17"/><circle cx="360" cy="178" r="4.17"/><circle cx="211" cy="49" r="4.17"/><circle cx="235" cy="103" r="4.17"/><circle cx="165" cy="184" r="4.17"/><circle cx="315" cy="133" r="4.17"/><circle cx="172" cy="182" r="4.17"/><circle cx="389" cy="49" r="4.17"/><circle cx="151" cy="375" r="4.17"/><circle cx="234" cy="321" r="4.17"/><circle cx="324" cy="230" r="4.17"/><circle cx="338" cy="133" r="4.17"/><circle cx="186" cy="375" r="4.17"/><circle cx="261" cy="114" r="4.17"/><circle cx="333" cy="234" r="4.17"/><circle cx="338" cy="188" r="4.17"/><circle cx="302" cy="262" r="4.17"/><circle cx="383" cy="108" r="4.17"/><circle cx="375" cy="166" r="4.17"/><circle cx="457" cy="134" r="4.17"/><circle cx="349" cy="219" r="4.17"/><circle cx="271" cy="101" r="4.17"/><circle cx="159" cy="178" r="4.17"/><circle cx="354" cy="104" r="4.17"/><circle cx="110" cy="185" r="4.17"/><circle cx="148" cy="191" r="4.17"/><circle cx="210" cy="355" r="4.17"/><circle cx="226" cy="343" r="4.17"/><circle cx="364" cy="206" r="4.17"/><circle cx="216" cy="100" r="4.17"/><circle cx="462" cy="49" r="4.17"/><circle cx="237" cy="49" r="4.17"/><circle cx="261" cy="145" r="4.17"/><circle cx="354" cy="84" r="4.17"/><circle cx="91" cy="321" r="4.17"/><circle cx="167" cy="75" r="4.17"/><circle cx="459" cy="65" r="4.17"/><circle cx="143" cy="93" r="4.17"/><circle cx="311" cy="209" r="4.17"/><circle cx="208" cy="141" r="4.17"/><circle cx="275" cy="110" r="4.17"/><circle cx="160" cy="208" r="4.17"/><circle cx="339" cy="56" r="4.17"/><circle cx="152" cy="241" r="4.17"/><circle cx="296" cy="271" r="4.17"/><circle cx="282" cy="129" r="4.17"/><circle cx="274" cy="153" r="4.17"/><circle cx="259" cy="125" r="4.17"/><circle cx="254" cy="114" r="4.17"/><circle cx="97" cy="223" r="4.17"/><circle cx="256" cy="146" r="4.17"/><circle cx="122" cy="213" r="4.17"/><circle cx="334" cy="203" r="4.17"/><circle cx="368" cy="133" r="4.17"/><circle cx="204" cy="364" r="4.17"/><circle cx="304" cy="96" r="4.17"/><circle cx="307" cy="95" r="4.17"/><circle cx="278" cy="125" r="4.17"/><circle cx="456" cy="113" r="4.17"/><circle cx="116" cy="179" r="4.17"/><circle cx="256" cy="162" r="4.17"/><circle cx="335" cy="64" r="4.17"/><circle cx="177" cy="368" r="4.17"/><circle cx="220" cy="362" r="4.17"/><circle cx="296" cy="176" r="4.17"/><circle cx="281" cy="143" r="4.17"/><circle cx="600" cy="49" r="4.17"/><circle cx="185" cy="201" r="4.17"/><circle cx="92" cy="292" r="4.17"/><circle cx="162" cy="208" r="4.17"/><circle cx="281" cy="226" r="4.17"/><circle cx="349" cy="108" r="4.17"/><circle cx="269" cy="129" r="4.17"/><circle cx="84" cy="379" r="4.17"/><circle cx="362" cy="157" r="4.17"/><circle cx="197" cy="194" r="4.17"/><circle cx="280" cy="309" r="4.17"/><circle cx="600" cy="49" r="4.17"/><circle cx="115" cy="85" r="4.17"/><circle cx="274" cy="300" r="4.17"/><circle cx="294" cy="74" r="4.17"/><circle cx="199" cy="156" r="4.17"/><circle cx="200" cy="145" r="4.17"/><circle cx="141" cy="219" r="4.17"/><circle cx="82" cy="347" r="4.17"/><circle cx="371" cy="49" r="4.17"/><circle cx="193" cy="147" r="4.17"/><circle cx="123" cy="264" r="4.17"/><circle cx="304" cy="110" r="4.17"/><circle cx="99" cy="284" r="4.17"/><circle cx="543" cy="207" r="4.17"/><circle cx="284" cy="216" r="4.17"/><circle cx="280" cy="95" r="4.17"/><circle cx="121" cy="377" r="4.17"/><circle cx="147" cy="237" r="4.17"/><circle cx="302" cy="111" r="4.17"/><circle cx="187" cy="93" r="4.17"/><circle cx="132" cy="164" r="4.17"/><circle cx="206" cy="148" r="4.17"/><circle cx="346" cy="165" r="4.17"/><circle cx="189" cy="159" r="4.17"/><circle cx="357" cy="176" r="4.17"/><circle cx="377" cy="49" r="4.17"/><circle cx="348" cy="215" r="4.17"/><circle cx="340" cy="201" r="4.17"/><circle cx="309" cy="142" r="4.17"/><circle cx="290" cy="81" r="4.17"/><circle cx="208" cy="356" r="4.17"/><circle cx="252" cy="138" r="4.17"/><circle cx="374" cy="100" r="4.17"/><circle cx="107" cy="230" r="4.17"/><circle cx="284" cy="162" r="4.17"/><circle cx="276" cy="293" r="4.17"/><circle cx="295" cy="141" r="4.17"/><circle cx="164" cy="100" r="4.17"/><circle cx="263" cy="49" r="4.17"/><circle cx="255" cy="317" r="4.17"/><circle cx="304" cy="233" r="4.17"/><circle cx="176" cy="178" r="4.17"/><circle cx="200" cy="121" r="4.17"/><circle cx="98" cy="275" r="4.17"/><circle cx="114" cy="239" r="4.17"/><circle cx="269" cy="106" r="4.17"/><circle cx="305" cy="214" r="4.17"/><circle cx="152" cy="171" r="4.17"/><circle cx="89" cy="307" r="4.17"/><circle cx="294" cy="98" r="4.17"/><circle cx="266" cy="107" r="4.17"/><circle cx="479" cy="135" r="4.17"/><circle cx="314" cy="133" r="4.17"/><circle cx="190" cy="119" r="4.17"/><circle cx="170" cy="150" r="4.17"/><circle cx="337" cy="122" r="4.17"/><circle cx="297" cy="49" r="4.17"/><circle cx="93" cy="383" r="4.17"/><circle cx="341" cy="319" r="4.17"/><circle cx="355" cy="169" r="4.17"/><circle cx="359" cy="100" r="4.17"/><circle cx="175" cy="156" r="4.17"/><circle cx="308" cy="202" r="4.17"/><circle cx="300" cy="294" r="4.17"/><circle cx="83" cy="340" r="4.17"/><circle cx="189" cy="380" r="4.17"/><circle cx="513" cy="49" r="4.17"/><circle cx="79" cy="342" r="4.17"/><circle cx="366" cy="153" r="4.17"/><circle cx="359" cy="56" r="4.17"/><circle cx="451" cy="82" r="4.17"/><circle cx="247" cy="105" r="4.17"/><circle cx="613" cy="49" r="4.17"/><circle cx="352" cy="211" r="4.17"/><circle cx="287" cy="131" r="4.17"/><circle cx="357" cy="144" r="4.17"/><circle cx="174" cy="207" r="4.17"/><circle cx="163" cy="85" r="4.17"/><circle cx="122" cy="239" r="4.17"/><circle cx="314" cy="86" r="4.17"/><circle cx="154" cy="188" r="4.17"/><circle cx="293" cy="90" r="4.17"/><circle cx="290" cy="170" r="4.17"/><circle cx="227" cy="141" r="4.17"/><circle cx="297" cy="326" r="4.17"/><circle cx="354" cy="124" r="4.17"/><circle cx="383" cy="114" r="4.17"/><circle cx="76" cy="368" r="4.17"/><circle cx="304" cy="75" r="4.17"/><circle cx="302" cy="142" r="4.17"/><circle cx="101" cy="363" r="4.17"/><circle cx="220" cy="180" r="4.17"/><circle cx="100" cy="375" r="4.17"/><circle cx="226" cy="102" r="4.17"/><circle cx="195" cy="162" r="4.17"/><circle cx="189" cy="179" r="4.17"/><circle cx="364" cy="150" r="4.17"/><circle cx="187" cy="361" r="4.17"/><circle cx="275" cy="205" r="4.17"/><circle cx="203" cy="193" r="4.17"/><circle cx="370" cy="109" r="4.17"/><circle cx="191" cy="49" r="4.17"/><circle cx="124" cy="269" r="4.17"/><circle cx="173" cy="191" r="4.17"/><circle cx="307" cy="131" r="4.17"/><circle cx="370" cy="117" r="4.17"/><circle cx="251" cy="303" r="4.17"/><circle cx="329" cy="54" r="4.17"/><circle cx="640" cy="315" r="4.17"/><circle cx="303" cy="93" r="4.17"/><circle cx="261" cy="88" r="4.17"/><circle cx="304" cy="203" r="4.17"/><circle cx="388" cy="126" r="4.17"/><circle cx="227" cy="112" r="4.17"/><circle cx="81" cy="367" r="4.17"/><circle cx="147" cy="146" r="4.17"/><circle cx="99" cy="394" r="4.17"/><circle cx="329" cy="157" r="4.17"/><circle cx="285" cy="168" r="4.17"/><circle cx="209" cy="49" r="4.17"/><circle cx="233" cy="127" r="4.17"/><circle cx="365" cy="133" r="4.17"/><circle cx="92" cy="357" r="4.17"/><circle cx="331" cy="238" r="4.17"/><circle cx="201" cy="362" r="4.17"/><circle cx="313" cy="149" r="4.17"/><circle cx="229" cy="151" r="4.17"/><circle cx="446" cy="235" r="4.17"/><circle cx="346" cy="200" r="4.17"/><circle cx="178" cy="175" r="4.17"/><circle cx="270" cy="165" r="4.17"/><circle cx="225" cy="108" r="4.17"/><circle cx="310" cy="233" r="4.17"/><circle cx="318" cy="90" r="4.17"/><circle cx="365" cy="65" r="4.17"/><circle cx="128" cy="379" r="4.17"/><circle cx="119" cy="250" r="4.17"/><circle cx="343" cy="199" r="4.17"/><circle cx="130" cy="269" r="4.17"/><circle cx="327" cy="212" r="4.17"/><circle cx="293" cy="200" r="4.17"/><circle cx="159" cy="212" r="4.17"/><circle cx="160" cy="219" r="4.17"/><circle cx="315" cy="161" r="4.17"/><circle cx="172" cy="111" r="4.17"/><circle cx="220" cy="151" r="4.17"/><circle cx="234" cy="312" r="4.17"/><circle cx="197" cy="143" r="4.17"/><circle cx="105" cy="261" r="4.17"/><circle cx="111" cy="258" r="4.17"/><circle cx="95" cy="317" r="4.17"/><circle cx="308" cy="148" r="4.17"/><circle cx="269" cy="312" r="4.17"/><circle cx="340" cy="164" r="4.17"/><circle cx="176" cy="188" r="4.17"/><circle cx="327" cy="183" r="4.17"/><circle cx="347" cy="210" r="4.17"/><circle cx="252" cy="103" r="4.17"/><circle cx="270" cy="136" r="4.17"/><circle cx="255" cy="162" r="4.17"/><circle cx="273" cy="318" r="4.17"/><circle cx="279" cy="275" r="4.17"/><circle cx="157" cy="377" r="4.17"/><circle cx="228" cy="351" r="4.17"/><circle cx="171" cy="364" r="4.17"/><circle cx="265" cy="174" r="4.17"/><circle cx="379" cy="137" r="4.17"/><circle cx="176" cy="143" r="4.17"/><circle cx="289" cy="161" r="4.17"/><circle cx="327" cy="235" r="4.17"/><circle cx="271" cy="77" r="4.17"/><circle cx="99" cy="366" r="4.17"/><circle cx="337" cy="80" r="4.17"/><circle cx="146" cy="219" r="4.17"/><circle cx="112" cy="376" r="4.17"/><circle cx="169" cy="152" r="4.17"/><circle cx="350" cy="118" r="4.17"/><circle cx="324" cy="233" r="4.17"/><circle cx="205" cy="366" r="4.17"/><circle cx="127" cy="262" r="4.17"/><circle cx="356" cy="159" r="4.17"/><circle cx="564" cy="49" r="4.17"/><circle cx="298" cy="243" r="4.17"/><circle cx="282" cy="104" r="4.17"/><circle cx="131" cy="139" r="4.17"/><circle cx="244" cy="56" r="4.17"/><circle cx="299" cy="334" r="4.17"/><circle cx="225" cy="147" r="4.17"/><circle cx="203" cy="160" r="4.17"/><circle cx="232" cy="157" r="4.17"/><circle cx="249" cy="311" r="4.17"/><circle cx="353" cy="119" r="4.17"/><circle cx="353" cy="118" r="4.17"/><circle cx="117" cy="307" r="4.17"/><circle cx="267" cy="116" r="4.17"/><circle cx="398" cy="245" r="4.17"/><circle cx="321" cy="236" r="4.17"/><circle cx="550" cy="49" r="4.17"/><circle cx="397" cy="171" r="4.17"/><circle cx="171" cy="151" r="4.17"/><circle cx="201" cy="195" r="4.17"/><circle cx="271" cy="176" r="4.17"/><circle cx="338" cy="159" r="4.17"/><circle cx="335" cy="133" r="4.17"/><circle cx="252" cy="155" r="4.17"/><circle cx="222" cy="49" r="4.17"/><circle cx="358" cy="198" r="4.17"/><circle cx="316" cy="145" r="4.17"/><circle cx="166" cy="373" r="4.17"/><circle cx="208" cy="176" r="4.17"/><circle cx="225" cy="160" r="4.17"/><circle cx="361" cy="198" r="4.17"/><circle cx="157" cy="178" r="4.17"/><circle cx="238" cy="317" r="4.17"/><circle cx="351" cy="184" r="4.17"/><circle cx="333" cy="245" r="4.17"/><circle cx="251" cy="240" r="4.17"/><circle cx="145" cy="199" r="4.17"/><circle cx="151" cy="183" r="4.17"/><circle cx="88" cy="275" r="4.17"/><circle cx="132" cy="227" r="4.17"/><circle cx="308" cy="196" r="4.17"/><circle cx="92" cy="342" r="4.17"/><circle cx="155" cy="171" r="4.17"/><circle cx="353" cy="206" r="4.17"/><circle cx="374" cy="125" r="4.17"/><circle cx="242" cy="340" r="4.17"/><circle cx="459" cy="77" r="4.17"/><circle cx="291" cy="138" r="4.17"/><circle cx="85" cy="367" r="4.17"/><circle cx="326" cy="205" r="4.17"/><circle cx="380" cy="106" r="4.17"/><circle cx="215" cy="155" r="4.17"/><circle cx="334" cy="201" r="4.17"/><circle cx="299" cy="302" r="4.17"/><circle cx="160" cy="85" r="4.17"/><circle cx="148" cy="146" r="4.17"/><circle cx="309" cy="216" r="4.17"/><circle cx="222" cy="177" r="4.17"/><circle cx="143" cy="85" r="4.17"/><circle cx="335" cy="197" r="4.17"/><circle cx="355" cy="114" r="4.17"/><circle cx="282" cy="167" r="4.17"/><circle cx="164" cy="197" r="4.17"/><circle cx="338" cy="136" r="4.17"/><circle cx="200" cy="164" r="4.17"/><circle cx="260" cy="304" r="4.17"/><circle cx="238" cy="350" r="4.17"/><circle cx="353" cy="230" r="4.17"/><circle cx="137" cy="220" r="4.17"/><circle cx="278" cy="108" r="4.17"/><circle cx="274" cy="331" r="4.17"/><circle cx="262" cy="321" r="4.17"/><circle cx="370" cy="159" r="4.17"/><circle cx="277" cy="61" r="4.17"/><circle cx="357" cy="248" r="4.17"/><circle cx="164" cy="188" r="4.17"/><circle cx="258" cy="280" r="4.17"/><circle cx="379" cy="102" r="4.17"/><circle cx="559" cy="49" r="4.17"/><circle cx="193" cy="78" r="4.17"/><circle cx="76" cy="358" r="4.17"/><circle cx="293" cy="124" r="4.17"/><circle cx="305" cy="210" r="4.17"/><circle cx="427" cy="61" r="4.17"/><circle cx="254" cy="236" r="4.17"/><circle cx="352" cy="205" r="4.17"/><circle cx="379" cy="92" r="4.17"/><circle cx="88" cy="346" r="4.17"/><circle cx="96" cy="358" r="4.17"/><circle cx="288" cy="281" r="4.17"/><circle cx="330" cy="171" r="4.17"/><circle cx="115" cy="312" r="4.17"/><circle cx="351" cy="241" r="4.17"/><circle cx="197" cy="195" r="4.17"/><circle cx="148" cy="197" r="4.17"/><circle cx="339" cy="181" r="4.17"/><circle cx="213" cy="100" r="4.17"/><circle cx="334" cy="79" r="4.17"/><circle cx="76" cy="371" r="4.17"/><circle cx="143" cy="213" r="4.17"/><circle cx="358" cy="141" r="4.17"/><circle cx="182" cy="160" r="4.17"/><circle cx="450" cy="101" r="4.17"/><circle cx="252" cy="126" r="4.17"/><circle cx="91" cy="349" r="4.17"/><circle cx="248" cy="347" r="4.17"/><circle cx="350" cy="124" r="4.17"/><circle cx="196" cy="138" r="4.17"/><circle cx="350" cy="178" r="4.17"/><circle cx="300" cy="306" r="4.17"/><circle cx="294" cy="134" r="4.17"/><circle cx="337" cy="49" r="4.17"/><circle cx="282" cy="239" r="4.17"/><circle cx="453" cy="102" r="4.17"/><circle cx="311" cy="189" r="4.17"/><circle cx="311" cy="154" r="4.17"/><circle cx="131" cy="194" r="4.17"/><circle cx="303" cy="134" r="4.17"/><circle cx="366" cy="104" r="4.17"/><circle cx="137" cy="222" r="4.17"/><circle cx="118" cy="380" r="4.17"/><circle cx="266" cy="315" r="4.17"/><circle cx="107" cy="321" r="4.17"/><circle cx="229" cy="155" r="4.17"/><circle cx="193" cy="169" r="4.17"/><circle cx="298" cy="274" r="4.17"/><circle cx="231" cy="109" r="4.17"/><circle cx="227" cy="343" r="4.17"/><circle cx="157" cy="378" r="4.17"/><circle cx="210" cy="154" r="4.17"/><circle cx="264" cy="251" r="4.17"/><circle cx="326" cy="67" r="4.17"/><circle cx="226" cy="98" r="4.17"/><circle cx="174" cy="162" r="4.17"/><circle cx="166" cy="215" r="4.17"/><circle cx="220" cy="351" r="4.17"/><circle cx="296" cy="291" r="4.17"/><circle cx="314" cy="233" r="4.17"/><circle cx="138" cy="236" r="4.17"/><circle cx="368" cy="203" r="4.17"/><circle cx="215" cy="177" r="4.17"/><circle cx="95" cy="365" r="4.17"/><circle cx="287" cy="174" r="4.17"/><circle cx="255" cy="308" r="4.17"/><circle cx="516" cy="49" r="4.17"/><circle cx="215" cy="135" r="4.17"/><circle cx="277" cy="249" r="4.17"/><circle cx="242" cy="107" r="4.17"/><circle cx="335" cy="209" r="4.17"/><circle cx="268" cy="86" r="4.17"/><circle cx="121" cy="257" r="4.17"/><circle cx="358" cy="161" r="4.17"/><circle cx="330" cy="243" r="4.17"/><circle cx="288" cy="152" r="4.17"/><circle cx="361" cy="190" r="4.17"/><circle cx="334" cy="205" r="4.17"/><circle cx="352" cy="155" r="4.17"/><circle cx="149" cy="202" r="4.17"/>
<circle cx="242" cy="186" r="4.17"/><circle cx="202" cy="138" r="4.17"/><circle cx="375" cy="178" r="4.17"/><circle cx="370" cy="119" r="4.17"/><circle cx="271" cy="158" r="4.17"/><circle cx="277" cy="140" r="4.17"/><circle cx="99" cy="329" r="4.17"/><circle cx="98" cy="334" r="4.17"/><circle cx="410" cy="85" r="4.17"/><circle cx="284" cy="200" r="4.17"/><circle cx="390" cy="114" r="4.17"/><circle cx="235" cy="214" r="4.17"/><circle cx="182" cy="174" r="4.17"/><circle cx="303" cy="153" r="4.17"/><circle cx="178" cy="197" r="4.17"/><circle cx="277" cy="223" r="4.17"/><circle cx="269" cy="117" r="4.17"/><circle cx="162" cy="194" r="4.17"/><circle cx="93" cy="273" r="4.17"/><circle cx="173" cy="379" r="4.17"/><circle cx="385" cy="132" r="4.17"/><circle cx="287" cy="141" r="4.17"/><circle cx="353" cy="155" r="4.17"/><circle cx="207" cy="361" r="4.17"/><circle cx="318" cy="239" r="4.17"/><circle cx="389" cy="146" r="4.17"/><circle cx="92" cy="295" r="4.17"/><circle cx="137" cy="376" r="4.17"/><circle cx="329" cy="89" r="4.17"/><circle cx="290" cy="132" r="4.17"/><circle cx="279" cy="49" r="4.17"/><circle cx="360" cy="161" r="4.17"/><circle cx="342" cy="49" r="4.17"/><circle cx="267" cy="122" r="4.17"/><circle cx="296" cy="77" r="4.17"/><circle cx="380" cy="140" r="4.17"/><circle cx="287" cy="148" r="4.17"/><circle cx="156" cy="108" r="4.17"/><circle cx="275" cy="169" r="4.17"/><circle cx="226" cy="341" r="4.17"/><circle cx="299" cy="235" r="4.17"/><circle cx="290" cy="262" r="4.17"/><circle cx="262" cy="130" r="4.17"/><circle cx="339" cy="154" r="4.17"/><circle cx="179" cy="88" r="4.17"/><circle cx="358" cy="151" r="4.17"/><circle cx="251" cy="110" r="4.17"/><circle cx="245" cy="137" r="4.17"/><circle cx="226" cy="158" r="4.17"/><circle cx="354" cy="90" r="4.17"/><circle cx="246" cy="305" r="4.17"/><circle cx="247" cy="191" r="4.17"/><circle cx="126" cy="262" r="4.17"/><circle cx="106" cy="300" r="4.17"/><circle cx="112" cy="284" r="4.17"/><circle cx="239" cy="175" r="4.17"/><circle cx="297" cy="87" r="4.17"/><circle cx="149" cy="396" r="4.17"/><circle cx="416" cy="49" r="4.17"/><circle cx="346" cy="146" r="4.17"/><circle cx="237" cy="96" r="4.17"/><circle cx="294" cy="179" r="4.17"/><circle cx="334" cy="225" r="4.17"/><circle cx="319" cy="49" r="4.17"/><circle cx="299" cy="141" r="4.17"/><circle cx="211" cy="193" r="4.17"/><circle cx="149" cy="213" r="4.17"/><circle cx="140" cy="119" r="4.17"/><circle cx="250" cy="49" r="4.17"/><circle cx="78" cy="372" r="4.17"/><circle cx="89" cy="292" r="4.17"/><circle cx="150" cy="221" r="4.17"/><circle cx="356" cy="183" r="4.17"/><circle cx="179" cy="361" r="4.17"/><circle cx="329" cy="191" r="4.17"/><circle cx="243" cy="136" r="4.17"/><circle cx="113" cy="305" r="4.17"/><circle cx="567" cy="73" r="4.17"/><circle cx="322" cy="153" r="4.17"/><circle cx="350" cy="188" r="4.17"/><circle cx="278" cy="100" r="4.17"/><circle cx="313" cy="121" r="4.17"/><circle cx="300" cy="287" r="4.17"/><circle cx="434" cy="49" r="4.17"/><circle cx="112" cy="276" r="4.17"/><circle cx="191" cy="189" r="4.17"/><circle cx="236" cy="188" r="4.17"/><circle cx="204" cy="185" r="4.17"/><circle cx="271" cy="129" r="4.17"/><circle cx="212" cy="153" r="4.17"/><circle cx="254" cy="117" r="4.17"/><circle cx="226" cy="158" r="4.17"/><circle cx="458" cy="120" r="4.17"/><circle cx="201" cy="49" r="4.17"/><circle cx="277" cy="160" r="4.17"/><circle cx="318" cy="233" r="4.17"/><circle cx="294" cy="244" r="4.17"/><circle cx="326" cy="49" r="4.17"/><circle cx="92" cy="352" r="4.17"/><circle cx="178" cy="149" r="4.17"/><circle cx="146" cy="376" r="4.17"/><circle cx="266" cy="302" r="4.17"/><circle cx="369" cy="132" r="4.17"/><circle cx="231" cy="121" r="4.17"/><circle cx="243" cy="172" r="4.17"/><circle cx="275" cy="276" r="4.17"/><circle cx="304" cy="124" r="4.17"/><circle cx="255" cy="225" r="4.17"/><circle cx="329" cy="152" r="4.17"/><circle cx="165" cy="173" r="4.17"/><circle cx="286" cy="217" r="4.17"/><circle cx="294" cy="168" r="4.17"/><circle cx="255" cy="306" r="4.17"/><circle cx="85" cy="157" r="4.17"/><circle cx="120" cy="49" r="4.17"/><circle cx="181" cy="171" r="4.17"/><circle cx="273" cy="285" r="4.17"/><circle cx="324" cy="142" r="4.17"/><circle cx="126" cy="280" r="4.17"/><circle cx="241" cy="193" r="4.17"/><circle cx="173" cy="366" r="4.17"/><circle cx="348" cy="70" r="4.17"/><circle cx="243" cy="348" r="4.17"/><circle cx="450" cy="65" r="4.17"/><circle cx="245" cy="167" r="4.17"/><circle cx="236" cy="118" r="4.17"/><circle cx="234" cy="94" r="4.17"/><circle cx="143" cy="188" r="4.17"/><circle cx="315" cy="49" r="4.17"/><circle cx="361" cy="198" r="4.17"/><circle cx="348" cy="221" r="4.17"/><circle cx="274" cy="282" r="4.17"/><circle cx="125" cy="49" r="4.17"/><circle cx="274" cy="172" r="4.17"/><circle cx="227" cy="124" r="4.17"/><circle cx="305" cy="120" r="4.17"/><circle cx="377" cy="88" r="4.17"/><circle cx="101" cy="337" r="4.17"/><circle cx="101" cy="358" r="4.17"/><circle cx="174" cy="365" r="4.17"/><circle cx="253" cy="177" r="4.17"/><circle cx="283" cy="125" r="4.17"/><circle cx="154" cy="207" r="4.17"/><circle cx="317" cy="183" r="4.17"/><circle cx="149" cy="184" r="4.17"/><circle cx="242" cy="126" r="4.17"/><circle cx="359" cy="128" r="4.17"/><circle cx="200" cy="132" r="4.17"/><circle cx="324" cy="190" r="4.17"/><circle cx="362" cy="177" r="4.17"/><circle cx="294" cy="121" r="4.17"/><circle cx="267" cy="166" r="4.17"/><circle cx="398" cy="145" r="4.17"/><circle cx="291" cy="194" r="4.17"/><circle cx="304" cy="75" r="4.17"/><circle cx="296" cy="262" r="4.17"/><circle cx="178" cy="248" r="4.17"/><circle cx="189" cy="374" r="4.17"/><circle cx="91" cy="85" r="4.17"/><circle cx="190" cy="135" r="4.17"/><circle cx="192" cy="145" r="4.17"/><circle cx="94" cy="157" r="4.17"/><circle cx="265" cy="55" r="4.17"/><circle cx="259" cy="307" r="4.17"/><circle cx="219" cy="321" r="4.17"/><circle cx="278" cy="299" r="4.17"/><circle cx="274" cy="220" r="4.17"/><circle cx="294" cy="153" r="4.17"/><circle cx="195" cy="195" r="4.17"/><circle cx="279" cy="270" r="4.17"/><circle cx="215" cy="121" r="4.17"/><circle cx="111" cy="303" r="4.17"/><circle cx="189" cy="123" r="4.17"/><circle cx="179" cy="192" r="4.17"/><circle cx="146" cy="214" r="4.17"/><circle cx="226" cy="119" r="4.17"/><circle cx="147" cy="374" r="4.17"/><circle cx="185" cy="172" r="4.17"/><circle cx="146" cy="391" r="4.17"/><circle cx="289" cy="65" r="4.17"/><circle cx="93" cy="313" r="4.17"/><circle cx="287" cy="192" r="4.17"/><circle cx="336" cy="147" r="4.17"/><circle cx="255" cy="118" r="4.17"/><circle cx="101" cy="335" r="4.17"/><circle cx="296" cy="296" r="4.17"/><circle cx="360" cy="112" r="4.17"/><circle cx="245" cy="175" r="4.17"/><circle cx="145" cy="214" r="4.17"/><circle cx="269" cy="186" r="4.17"/><circle cx="112" cy="274" r="4.17"/><circle cx="309" cy="244" r="4.17"/><circle cx="299" cy="210" r="4.17"/><circle cx="287" cy="225" r="4.17"/><circle cx="295" cy="246" r="4.17"/><circle cx="312" cy="175" r="4.17"/><circle cx="168" cy="374" r="4.17"/><circle cx="146" cy="238" r="4.17"/><circle cx="347" cy="168" r="4.17"/><circle cx="182" cy="199" r="4.17"/><circle cx="262" cy="184" r="4.17"/><circle cx="325" cy="49" r="4.17"/><circle cx="231" cy="67" r="4.17"/><circle cx="274" cy="244" r="4.17"/><circle cx="192" cy="363" r="4.17"/><circle cx="289" cy="150" r="4.17"/><circle cx="117" cy="297" r="4.17"/><circle cx="300" cy="181" r="4.17"/><circle cx="83" cy="351" r="4.17"/><circle cx="151" cy="244" r="4.17"/><circle cx="309" cy="157" r="4.17"/><circle cx="281" cy="310" r="4.17"/><circle cx="279" cy="177" r="4.17"/><circle cx="274" cy="251" r="4.17"/><circle cx="217" cy="172" r="4.17"/><circle cx="280" cy="270" r="4.17"/><circle cx="265" cy="174" r="4.17"/><circle cx="314" cy="200" r="4.17"/><circle cx="358" cy="188" r="4.17"/><circle cx="224" cy="147" r="4.17"/><circle cx="273" cy="90" r="4.17"/><circle cx="333" cy="163" r="4.17"/><circle cx="249" cy="188" r="4.17"/><circle cx="327" cy="131" r="4.17"/><circle cx="201" cy="145" r="4.17"/><circle cx="88" cy="368" r="4.17"/><circle cx="316" cy="174" r="4.17"/><circle cx="308" cy="162" r="4.17"/><circle cx="225" cy="55" r="4.17"/><circle cx="268" cy="209" r="4.17"/><circle cx="325" cy="99" r="4.17"/><circle cx="157" cy="357" r="4.17"/><circle cx="203" cy="135" r="4.17"/><circle cx="366" cy="170" r="4.17"/><circle cx="177" cy="369" r="4.17"/><circle cx="330" cy="149" r="4.17"/><circle cx="253" cy="167" r="4.17"/><circle cx="346" cy="121" r="4.17"/><circle cx="277" cy="113" r="4.17"/><circle cx="103" cy="323" r="4.17"/><circle cx="141" cy="237" r="4.17"/><circle cx="360" cy="64" r="4.17"/><circle cx="370" cy="102" r="4.17"/><circle cx="219" cy="315" r="4.17"/><circle cx="118" cy="212" r="4.17"/><circle cx="288" cy="261" r="4.17"/><circle cx="191" cy="129" r="4.17"/><circle cx="277" cy="217" r="4.17"/><circle cx="382" cy="49" r="4.17"/><circle cx="514" cy="49" r="4.17"/><circle cx="454" cy="157" r="4.17"/><circle cx="237" cy="161" r="4.17"/><circle cx="319" cy="198" r="4.17"/><circle cx="236" cy="169" r="4.17"/><circle cx="341" cy="127" r="4.17"/><circle cx="325" cy="116" r="4.17"/><circle cx="258" cy="314" r="4.17"/><circle cx="311" cy="259" r="4.17"/><circle cx="227" cy="355" r="4.17"/><circle cx="291" cy="269" r="4.17"/><circle cx="115" cy="239" r="4.17"/><circle cx="309" cy="242" r="4.17"/><circle cx="296" cy="293" r="4.17"/><circle cx="375" cy="165" r="4.17"/><circle cx="302" cy="104" r="4.17"/><circle cx="169" cy="124" r="4.17"/><circle cx="94" cy="303" r="4.17"/><circle cx="385" cy="157" r="4.17"/><circle cx="265" cy="114" r="4.17"/><circle cx="272" cy="150" r="4.17"/><circle cx="269" cy="227" r="4.17"/><circle cx="322" cy="216" r="4.17"/><circle cx="312" cy="206" r="4.17"/><circle cx="206" cy="353" r="4.17"/><circle cx="307" cy="263" r="4.17"/><circle cx="248" cy="245" r="4.17"/><circle cx="275" cy="292" r="4.17"/><circle cx="101" cy="312" r="4.17"/><circle cx="226" cy="157" r="4.17"/><circle cx="344" cy="209" r="4.17"/><circle cx="446" cy="49" r="4.17"/><circle cx="96" cy="322" r="4.17"/><circle cx="320" cy="190" r="4.17"/><circle cx="314" cy="157" r="4.17"/><circle cx="229" cy="132" r="4.17"/><circle cx="224" cy="219" r="4.17"/><circle cx="298" cy="246" r="4.17"/><circle cx="249" cy="146" r="4.17"/><circle cx="327" cy="291" r="4.17"/><circle cx="535" cy="49" r="4.17"/><circle cx="155" cy="376" r="4.17"/><circle cx="250" cy="134" r="4.17"/><circle cx="320" cy="155" r="4.17"/><circle cx="318" cy="194" r="4.17"/><circle cx="243" cy="121" r="4.17"/><circle cx="258" cy="254" r="4.17"/><circle cx="299" cy="215" r="4.17"/><circle cx="250" cy="178" r="4.17"/><circle cx="316" cy="104" r="4.17"/><circle cx="136" cy="283" r="4.17"/><circle cx="256" cy="171" r="4.17"/><circle cx="245" cy="176" r="4.17"/><circle cx="127" cy="262" r="4.17"/><circle cx="298" cy="112" r="4.17"/><circle cx="296" cy="150" r="4.17"/><circle cx="259" cy="227" r="4.17"/><circle cx="291" cy="178" r="4.17"/><circle cx="256" cy="103" r="4.17"/><circle cx="313" cy="263" r="4.17"/><circle cx="336" cy="146" r="4.17"/><circle cx="175" cy="218" r="4.17"/><circle cx="134" cy="215" r="4.17"/><circle cx="324" cy="131" r="4.17"/><circle cx="202" cy="55" r="4.17"/><circle cx="269" cy="117" r="4.17"/><circle cx="175" cy="250" r="4.17"/><circle cx="374" cy="146" r="4.17"/><circle cx="164" cy="161" r="4.17"/><circle cx="337" cy="112" r="4.17"/><circle cx="260" cy="181" r="4.17"/><circle cx="332" cy="188" r="4.17"/><circle cx="351" cy="223" r="4.17"/><circle cx="299" cy="251" r="4.17"/><circle cx="195" cy="261" r="4.17"/><circle cx="194" cy="194" r="4.17"/><circle cx="549" cy="49" r="4.17"/><circle cx="285" cy="197" r="4.17"/><circle cx="216" cy="316" r="4.17"/><circle cx="248" cy="179" r="4.17"/><circle cx="366" cy="98" r="4.17"/><circle cx="208" cy="349" r="4.17"/><circle cx="304" cy="127" r="4.17"/><circle cx="257" cy="204" r="4.17"/><circle cx="225" cy="175" r="4.17"/><circle cx="175" cy="218" r="4.17"/><circle cx="246" cy="117" r="4.17"/><circle cx="301" cy="71" r="4.17"/><circle cx="286" cy="282" r="4.17"/><circle cx="269" cy="194" r="4.17"/><circle cx="278" cy="174" r="4.17"/><circle cx="149" cy="245" r="4.17"/><circle cx="165" cy="142" r="4.17"/><circle cx="172" cy="176" r="4.17"/><circle cx="260" cy="153" r="4.17"/><circle cx="308" cy="217" r="4.17"/><circle cx="317" cy="179" r="4.17"/><circle cx="339" cy="49" r="4.17"/><circle cx="295" cy="188" r="4.17"/><circle cx="364" cy="92" r="4.17"/><circle cx="255" cy="306" r="4.17"/><circle cx="216" cy="184" r="4.17"/><circle cx="297" cy="211" r="4.17"/><circle cx="119" cy="202" r="4.17"/><circle cx="304" cy="195" r="4.17"/><circle cx="176" cy="93" r="4.17"/><circle cx="270" cy="318" r="4.17"/><circle cx="241" cy="321" r="4.17"/><circle cx="331" cy="180" r="4.17"/><circle cx="106" cy="293" r="4.17"/><circle cx="173" cy="181" r="4.17"/><circle cx="291" cy="150" r="4.17"/><circle cx="368" cy="199" r="4.17"/><circle cx="281" cy="112" r="4.17"/><circle cx="250" cy="138" r="4.17"/><circle cx="164" cy="370" r="4.17"/><circle cx="198" cy="85" r="4.17"/><circle cx="308" cy="229" r="4.17"/><circle cx="212" cy="128" r="4.17"/><circle cx="251" cy="298" r="4.17"/><circle cx="312" cy="100" r="4.17"/><circle cx="218" cy="223" r="4.17"/><circle cx="319" cy="166" r="4.17"/><circle cx="390" cy="161" r="4.17"/><circle cx="311" cy="177" r="4.17"/><circle cx="131" cy="281" r="4.17"/><circle cx="178" cy="111" r="4.17"/><circle cx="183" cy="212" r="4.17"/><circle cx="318" cy="105" r="4.17"/><circle cx="239" cy="181" r="4.17"/><circle cx="237" cy="314" r="4.17"/><circle cx="198" cy="170" r="4.17"/><circle cx="133" cy="205" r="4.17"/><circle cx="207" cy="329" r="4.17"/><circle cx="291" cy="63" r="4.17"/><circle cx="216" cy="113" r="4.17"/><circle cx="270" cy="195" r="4.17"/><circle cx="257" cy="93" r="4.17"/><circle cx="252" cy="299" r="4.17"/><circle cx="241" cy="81" r="4.17"/><circle cx="209" cy="195" r="4.17"/><circle cx="201" cy="235" r="4.17"/><circle cx="259" cy="139" r="4.17"/><circle cx="300" cy="174" r="4.17"/><circle cx="235" cy="110" r="4.17"/><circle cx="232" cy="188" r="4.17"/><circle cx="157" cy="195" r="4.17"/><circle cx="396" cy="139" r="4.17"/><circle cx="244" cy="137" r="4.17"/><circle cx="166" cy="193" r="4.17"/><circle cx="388" cy="85" r="4.17"/><circle cx="275" cy="216" r="4.17"/><circle cx="272" cy="202" r="4.17"/><circle cx="300" cy="146" r="4.17"/><circle cx="376" cy="49" r="4.17"/><circle cx="136" cy="185" r="4.17"/><circle cx="216" cy="346" r="4.17"/><circle cx="179" cy="207" r="4.17"/><circle cx="276" cy="278" r="4.17"/><circle cx="92" cy="361" r="4.17"/><circle cx="244" cy="59" r="4.17"/><circle cx="320" cy="198" r="4.17"/><circle cx="251" cy="327" r="4.17"/><circle cx="218" cy="144" r="4.17"/><circle cx="260" cy="282" r="4.17"/><circle cx="247" cy="295" r="4.17"/><circle cx="340" cy="197" r="4.17"/><circle cx="187" cy="186" r="4.17"/><circle cx="106" cy="326" r="4.17"/><circle cx="309" cy="289" r="4.17"/><circle cx="108" cy="376" r="4.17"/><circle cx="354" cy="191" r="4.17"/><circle cx="93" cy="356" r="4.17"/><circle cx="271" cy="255" r="4.17"/><circle cx="314" cy="227" r="4.17"/><circle cx="118" cy="224" r="4.17"/><circle cx="282" cy="240" r="4.17"/><circle cx="331" cy="238" r="4.17"/><circle cx="160" cy="373" r="4.17"/><circle cx="262" cy="166" r="4.17"/><circle cx="131" cy="265" r="4.17"/><circle cx="155" cy="205" r="4.17"/><circle cx="106" cy="256" r="4.17"/><circle cx="239" cy="61" r="4.17"/><circle cx="81" cy="378" r="4.17"/><circle cx="160" cy="373" r="4.17"/><circle cx="169" cy="193" r="4.17"/><circle cx="385" cy="103" r="4.17"/><circle cx="263" cy="153" r="4.17"/><circle cx="273" cy="145" r="4.17"/><circle cx="278" cy="105" r="4.17"/><circle cx="232" cy="73" r="4.17"/><circle cx="506" cy="49" r="4.17"/><circle cx="300" cy="55" r="4.17"/><circle cx="324" cy="207" r="4.17"/><circle cx="143" cy="49" r="4.17"/><circle cx="301" cy="281" r="4.17"/><circle cx="357" cy="197" r="4.17"/><circle cx="325" cy="219" r="4.17"/><circle cx="367" cy="206" r="4.17"/><circle cx="300" cy="159" r="4.17"/><circle cx="184" cy="183" r="4.17"/><circle cx="275" cy="226" r="4.17"/><circle cx="542" cy="49" r="4.17"/><circle cx="294" cy="118" r="4.17"/><circle cx="199" cy="167" r="4.17"/><circle cx="358" cy="141" r="4.17"/><circle cx="78" cy="212" r="4.17"/><circle cx="265" cy="192" r="4.17"/><circle cx="213" cy="185" r="4.17"/><circle cx="217" cy="153" r="4.17"/><circle cx="103" cy="212" r="4.17"/><circle cx="341" cy="211" r="4.17"/><circle cx="225" cy="337" r="4.17"/><circle cx="196" cy="363" r="4.17"/><circle cx="207" cy="49" r="4.17"/><circle cx="192" cy="183" r="4.17"/><circle cx="224" cy="212" r="4.17"/><circle cx="204" cy="162" r="4.17"/><circle cx="222" cy="355" r="4.17"/><circle cx="231" cy="132" r="4.17"/><circle cx="136" cy="377" r="4.17"/><circle cx="140" cy="282" r="4.17"/><circle cx="295" cy="265" r="4.17"/><circle cx="251" cy="288" r="4.17"/><circle cx="177" cy="214" r="4.17"/><circle cx="319" cy="162" r="4.17"/><circle cx="277" cy="141" r="4.17"/><circle cx="205" cy="323" r="4.17"/><circle cx="218" cy="219" r="4.17"/><circle cx="316" cy="222" r="4.17"/><circle cx="263" cy="192" r="4.17"/><circle cx="325" cy="165" r="4.17"/><circle cx="282" cy="189" r="4.17"/><circle cx="138" cy="241" r="4.17"/><circle cx="92" cy="327" r="4.17"/><circle cx="202" cy="241" r="4.17"/><circle cx="195" cy="217" r="4.17"/><circle cx="295" cy="59" r="4.17"/><circle cx="282" cy="199" r="4.17"/><circle cx="281" cy="281" r="4.17"/><circle cx="440" cy="49" r="4.17"/><circle cx="226" cy="319" r="4.17"/><circle cx="192" cy="349" r="4.17"/><circle cx="384" cy="200" r="4.17"/><circle cx="372" cy="124" r="4.17"/><circle cx="239" cy="183" r="4.17"/><circle cx="174" cy="209" r="4.17"/><circle cx="309" cy="213" r="4.17"/><circle cx="267" cy="358" r="4.17"/><circle cx="202" cy="123" r="4.17"/><circle cx="454" cy="329" r="4.17"/><circle cx="311" cy="184" r="4.17"/><circle cx="206" cy="197" r="4.17"/><circle cx="213" cy="352" r="4.17"/><circle cx="380" cy="70" r="4.17"/><circle cx="554" cy="49" r="4.17"/><circle cx="259" cy="312" r="4.17"/><circle cx="289" cy="275" r="4.17"/><circle cx="251" cy="318" r="4.17"/><circle cx="199" cy="232" r="4.17"/><circle cx="119" cy="286" r="4.17"/><circle cx="168" cy="130" r="4.17"/><circle cx="300" cy="249" r="4.17"/><circle cx="255" cy="103" r="4.17"/><circle cx="262" cy="297" r="4.17"/><circle cx="166" cy="237" r="4.17"/><circle cx="343" cy="142" r="4.17"/><circle cx="143" cy="211" r="4.17"/><circle cx="190" cy="116" r="4.17"/><circle cx="249" cy="126" r="4.17"/><circle cx="309" cy="219" r="4.17"/><circle cx="359" cy="166" r="4.17"/><circle cx="211" cy="355" r="4.17"/><circle cx="344" cy="91" r="4.17"/><circle cx="273" cy="250" r="4.17"/><circle cx="156" cy="210" r="4.17"/><circle cx="238" cy="183" r="4.17"/><circle cx="223" cy="189" r="4.17"/><circle cx="263" cy="327" r="4.17"/><circle cx="76" cy="337" r="4.17"/><circle cx="168" cy="237" r="4.17"/><circle cx="205" cy="332" r="4.17"/><circle cx="270" cy="218" r="4.17"/><circle cx="336" cy="118" r="4.17"/><circle cx="283" cy="116" r="4.17"/><circle cx="101" cy="323" r="4.17"/><circle cx="345" cy="239" r="4.17"/><circle cx="341" cy="168" r="4.17"/><circle cx="433" cy="49" r="4.17"/><circle cx="171" cy="165" r="4.17"/><circle cx="89" cy="297" r="4.17"/><circle cx="120" cy="246" r="4.17"/><circle cx="304" cy="238" r="4.17"/><circle cx="261" cy="221" r="4.17"/><circle cx="330" cy="149" r="4.17"/><circle cx="310" cy="220" r="4.17"/><circle cx="281" cy="289" r="4.17"/><circle cx="512" cy="49" r="4.17"/><circle cx="289" cy="190" r="4.17"/><circle cx="290" cy="297" r="4.17"/><circle cx="640" cy="121" r="4.17"/><circle cx="158" cy="219" r="4.17"/><circle cx="239" cy="139" r="4.17"/><circle cx="229" cy="315" r="4.17"/><circle cx="174" cy="209" r="4.17"/><circle cx="233" cy="163" r="4.17"/><circle cx="326" cy="191" r="4.17"/><circle cx="405" cy="121" r="4.17"/><circle cx="227" cy="175" r="4.17"/><circle cx="304" cy="221" r="4.17"/><circle cx="230" cy="239" r="4.17"/><circle cx="258" cy="252" r="4.17"/><circle cx="222" cy="179" r="4.17"/><circle cx="203" cy="169" r="4.17"/><circle cx="382" cy="70" r="4.17"/><circle cx="293" cy="70" r="4.17"/><circle cx="105" cy="331" r="4.17"/><circle cx="127" cy="238" r="4.17"/><circle cx="127" cy="271" r="4.17"/><circle cx="297" cy="163" r="4.17"/><circle cx="399" cy="150" r="4.17"/><circle cx="297" cy="227" r="4.17"/><circle cx="406" cy="114" r="4.17"/><circle cx="329" cy="171" r="4.17"/><circle cx="304" cy="280" r="4.17"/><circle cx="249" cy="184" r="4.17"/><circle cx="134" cy="287" r="4.17"/><circle cx="130" cy="284" r="4.17"/><circle cx="266" cy="290" r="4.17"/><circle cx="173" cy="157" r="4.17"/><circle cx="136" cy="114" r="4.17"/><circle cx="360" cy="49" r="4.17"/><circle cx="226" cy="355" r="4.17"/><circle cx="238" cy="314" r="4.17"/><circle cx="321" cy="79" r="4.17"/><circle cx="268" cy="281" r="4.17"/><circle cx="193" cy="49" r="4.17"/><circle cx="202" cy="223" r="4.17"/><circle cx="247" cy="335" r="4.17"/><circle cx="354" cy="76" r="4.17"/><circle cx="154" cy="237" r="4.17"/><circle cx="335" cy="134" r="4.17"/><circle cx="138" cy="210" r="4.17"/><circle cx="154" cy="196" r="4.17"/><circle cx="213" cy="196" r="4.17"/><circle cx="233" cy="110" r="4.17"/><circle cx="240" cy="315" r="4.17"/><circle cx="259" cy="251" r="4.17"/><circle cx="580" cy="49" r="4.17"/><circle cx="148" cy="103" r="4.17"/><circle cx="355" cy="86" r="4.17"/><circle cx="345" cy="201" r="4.17"/><circle cx="286" cy="266" r="4.17"/><circle cx="361" cy="211" r="4.17"/><circle cx="199" cy="330" r="4.17"/><circle cx="342" cy="228" r="4.17"/><circle cx="286" cy="104" r="4.17"/><circle cx="295" cy="277" r="4.17"/><circle cx="247" cy="195" r="4.17"/><circle cx="89" cy="298" r="4.17"/><circle cx="312" cy="95" r="4.17"/><circle cx="272" cy="60" r="4.17"/><circle cx="272" cy="275" r="4.17"/><circle cx="286" cy="221" r="4.17"/><circle cx="273" cy="182" r="4.17"/><circle cx="303" cy="307" r="4.17"/><circle cx="146" cy="169" r="4.17"/><circle cx="297" cy="223" r="4.17"/><circle cx="276" cy="204" r="4.17"/><circle cx="163" cy="148" r="4.17"/><circle cx="194" cy="174" r="4.17"/><circle cx="287" cy="182" r="4.17"/><circle cx="308" cy="201" r="4.17"/><circle cx="181" cy="215" r="4.17"/><circle cx="300" cy="120" r="4.17"/><circle cx="95" cy="264" r="4.17"/><circle cx="186" cy="137" r="4.17"/><circle cx="296" cy="266" r="4.17"/><circle cx="275" cy="188" r="4.17"/><circle cx="461" cy="49" r="4.17"/><circle cx="331" cy="210" r="4.17"/><circle cx="236" cy="187" r="4.17"/><circle cx="298" cy="224" r="4.17"/><circle cx="132" cy="286" r="4.17"/><circle cx="333" cy="235" r="4.17"/><circle cx="239" cy="260" r="4.17"/><circle cx="130" cy="277" r="4.17"/><circle cx="99" cy="340" r="4.17"/><circle cx="352" cy="192" r="4.17"/><circle cx="317" cy="210" r="4.17"/><circle cx="283" cy="236" r="4.17"/><circle cx="199" cy="331" r="4.17"/><circle cx="265" cy="168" r="4.17"/><circle cx="140" cy="282" r="4.17"/><circle cx="227" cy="166" r="4.17"/><circle cx="240" cy="340" r="4.17"/><circle cx="209" cy="79" r="4.17"/><circle cx="288" cy="261" r="4.17"/><circle cx="310" cy="266" r="4.17"/><circle cx="342" cy="137" r="4.17"/><circle cx="169" cy="239" r="4.17"/><circle cx="272" cy="90" r="4.17"/><circle cx="195" cy="206" r="4.17"/><circle cx="271" cy="142" r="4.17"/><circle cx="267" cy="58" r="4.17"/><circle cx="259" cy="154" r="4.17"/><circle cx="267" cy="179" r="4.17"/><circle cx="150" cy="195" r="4.17"/><circle cx="287" cy="197" r="4.17"/><circle cx="150" cy="258" r="4.17"/><circle cx="455" cy="49" r="4.17"/><circle cx="102" cy="301" r="4.17"/><circle cx="234" cy="236" r="4.17"/><circle cx="376" cy="137" r="4.17"/><circle cx="196" cy="241" r="4.17"/><circle cx="211" cy="344" r="4.17"/><circle cx="274" cy="170" r="4.17"/><circle cx="213" cy="182" r="4.17"/><circle cx="314" cy="188" r="4.17"/><circle cx="243" cy="178" r="4.17"/><circle cx="180" cy="195" r="4.17"/><circle cx="184" cy="136" r="4.17"/><circle cx="199" cy="243" r="4.17"/><circle cx="280" cy="307" r="4.17"/><circle cx="232" cy="178" r="4.17"/><circle cx="183" cy="215" r="4.17"/><circle cx="164" cy="231" r="4.17"/><circle cx="355" cy="75" r="4.17"/><circle cx="122" cy="297" r="4.17"/><circle cx="161" cy="256" r="4.17"/><circle cx="322" cy="145" r="4.17"/><circle cx="122" cy="207" r="4.17"/><circle cx="235" cy="139" r="4.17"/><circle cx="267" cy="250" r="4.17"/><circle cx="266" cy="140" r="4.17"/><circle cx="234" cy="134" r="4.17"/><circle cx="563" cy="49" r="4.17"/><circle cx="416" cy="77" r="4.17"/><circle cx="269" cy="217" r="4.17"/><circle cx="177" cy="223" r="4.17"/><circle cx="182" cy="194" r="4.17"/><circle cx="192" cy="217" r="4.17"/><circle cx="115" cy="317" r="4.17"/><circle cx="293" cy="223" r="4.17"/><circle cx="125" cy="239" r="4.17"/><circle cx="221" cy="225" r="4.17"/><circle cx="243" cy="177" r="4.17"/><circle cx="104" cy="304" r="4.17"/><circle cx="267" cy="199" r="4.17"/><circle cx="252" cy="151" r="4.17"/><circle cx="295" cy="236" r="4.17"/><circle cx="340" cy="188" r="4.17"/><circle cx="306" cy="224" r="4.17"/><circle cx="170" cy="203" r="4.17"/><circle cx="250" cy="336" r="4.17"/><circle cx="156" cy="374" r="4.17"/><circle cx="209" cy="349" r="4.17"/><circle cx="231" cy="147" r="4.17"/><circle cx="249" cy="220" r="4.17"/><circle cx="282" cy="159" r="4.17"/><circle cx="170" cy="214" r="4.17"/><circle cx="230" cy="288" r="4.17"/><circle cx="228" cy="283" r="4.17"/><circle cx="230" cy="175" r="4.17"/><circle cx="288" cy="121" r="4.17"/><circle cx="323" cy="245" r="4.17"/><circle cx="288" cy="114" r="4.17"/><circle cx="254" cy="305" r="4.17"/><circle cx="156" cy="222" r="4.17"/><circle cx="98" cy="367" r="4.17"/><circle cx="180" cy="165" r="4.17"/><circle cx="270" cy="223" r="4.17"/><circle cx="233" cy="132" r="4.17"/><circle cx="360" cy="194" r="4.17"/><circle cx="288" cy="119" r="4.17"/><circle cx="168" cy="170" r="4.17"/><circle cx="237" cy="54" r="4.17"/><circle cx="640" cy="49" r="4.17"/><circle cx="284" cy="285" r="4.17"/><circle cx="305" cy="159" r="4.17"/><circle cx="198" cy="196" r="4.17"/><circle cx="308" cy="186" r="4.17"/><circle cx="170" cy="235" r="4.17"/><circle cx="156" cy="186" r="4.17"/><circle cx="207" cy="199" r="4.17"/><circle cx="185" cy="251" r="4.17"/><circle cx="175" cy="248" r="4.17"/><circle cx="87" cy="322" r="4.17"/><circle cx="194" cy="238" r="4.17"/><circle cx="83" cy="375" r="4.17"/><circle cx="254" cy="196" r="4.17"/><circle cx="99" cy="314" r="4.17"/><circle cx="193" cy="175" r="4.17"/><circle cx="281" cy="119" r="4.17"/><circle cx="199" cy="258" r="4.17"/><circle cx="231" cy="168" r="4.17"/><circle cx="234" cy="284" r="4.17"/><circle cx="227" cy="319" r="4.17"/><circle cx="303" cy="175" r="4.17"/><circle cx="424" cy="74" r="4.17"/><circle cx="174" cy="360" r="4.17"/><circle cx="227" cy="169" r="4.17"/><circle cx="220" cy="151" r="4.17"/><circle cx="225" cy="99" r="4.17"/><circle cx="223" cy="179" r="4.17"/><circle cx="167" cy="196" r="4.17"/><circle cx="194" cy="336" r="4.17"/><circle cx="178" cy="218" r="4.17"/><circle cx="139" cy="109" r="4.17"/><circle cx="351" cy="76" r="4.17"/><circle cx="230" cy="275" r="4.17"/><circle cx="296" cy="192" r="4.17"/><circle cx="244" cy="303" r="4.17"/><circle cx="123" cy="374" r="4.17"/><circle cx="275" cy="240" r="4.17"/><circle cx="254" cy="144" r="4.17"/><circle cx="204" cy="180" r="4.17"/><circle cx="220" cy="399" r="4.17"/><circle cx="139" cy="260" r="4.17"/><circle cx="256" cy="178" r="4.17"/><circle cx="122" cy="276" r="4.17"/><circle cx="334" cy="197" r="4.17"/><circle cx="212" cy="189" r="4.17"/><circle cx="268" cy="94" r="4.17"/><circle cx="131" cy="249" r="4.17"/><circle cx="322" cy="176" r="4.17"/><circle cx="396" cy="102" r="4.17"/><circle cx="245" cy="328" r="4.17"/><circle cx="253" cy="122" r="4.17"/><circle cx="246" cy="316" r="4.17"/><circle cx="118" cy="317" r="4.17"/><circle cx="241" cy="195" r="4.17"/><circle cx="283" cy="107" r="4.17"/><circle cx="83" cy="379" r="4.17"/><circle cx="265" cy="237" r="4.17"/><circle cx="182" cy="366" r="4.17"/><circle cx="192" cy="140" r="4.17"/><circle cx="97" cy="348" r="4.17"/><circle cx="137" cy="278" r="4.17"/><circle cx="265" cy="261" r="4.17"/><circle cx="290" cy="185" r="4.17"/><circle cx="349" cy="142" r="4.17"/><circle cx="241" cy="103" r="4.17"/><circle cx="180" cy="110" r="4.17"/><circle cx="199" cy="129" r="4.17"/><circle cx="268" cy="279" r="4.17"/><circle cx="165" cy="207" r="4.17"/><circle cx="140" cy="249" r="4.17"/><circle cx="212" cy="348" r="4.17"/><circle cx="204" cy="193" r="4.17"/>
<circle cx="180" cy="191" r="4.17"/><circle cx="244" cy="293" r="4.17"/><circle cx="260" cy="273" r="4.17"/><circle cx="205" cy="152" r="4.17"/><circle cx="360" cy="209" r="4.17"/><circle cx="139" cy="242" r="4.17"/><circle cx="268" cy="236" r="4.17"/><circle cx="266" cy="238" r="4.17"/><circle cx="471" cy="49" r="4.17"/><circle cx="286" cy="101" r="4.17"/><circle cx="142" cy="283" r="4.17"/><circle cx="355" cy="176" r="4.17"/><circle cx="241" cy="193" r="4.17"/><circle cx="299" cy="61" r="4.17"/><circle cx="340" cy="167" r="4.17"/><circle cx="217" cy="158" r="4.17"/><circle cx="250" cy="252" r="4.17"/><circle cx="218" cy="360" r="4.17"/><circle cx="209" cy="333" r="4.17"/><circle cx="321" cy="62" r="4.17"/><circle cx="278" cy="280" r="4.17"/><circle cx="76" cy="293" r="4.17"/><circle cx="334" cy="98" r="4.17"/><circle cx="154" cy="375" r="4.17"/><circle cx="237" cy="285" r="4.17"/><circle cx="118" cy="284" r="4.17"/><circle cx="209" cy="335" r="4.17"/><circle cx="140" cy="375" r="4.17"/><circle cx="171" cy="230" r="4.17"/><circle cx="85" cy="369" r="4.17"/><circle cx="255" cy="244" r="4.17"/><circle cx="178" cy="242" r="4.17"/><circle cx="153" cy="49" r="4.17"/><circle cx="151" cy="202" r="4.17"/><circle cx="209" cy="161" r="4.17"/><circle cx="76" cy="374" r="4.17"/><circle cx="262" cy="289" r="4.17"/><circle cx="211" cy="118" r="4.17"/><circle cx="184" cy="373" r="4.17"/><circle cx="273" cy="270" r="4.17"/><circle cx="349" cy="129" r="4.17"/><circle cx="350" cy="142" r="4.17"/><circle cx="120" cy="238" r="4.17"/><circle cx="338" cy="209" r="4.17"/><circle cx="167" cy="200" r="4.17"/><circle cx="128" cy="257" r="4.17"/><circle cx="242" cy="316" r="4.17"/><circle cx="305" cy="220" r="4.17"/><circle cx="242" cy="104" r="4.17"/><circle cx="346" cy="215" r="4.17"/><circle cx="307" cy="280" r="4.17"/><circle cx="156" cy="49" r="4.17"/><circle cx="306" cy="224" r="4.17"/><circle cx="109" cy="331" r="4.17"/><circle cx="179" cy="243" r="4.17"/><circle cx="89" cy="176" r="4.17"/><circle cx="269" cy="219" r="4.17"/><circle cx="157" cy="246" r="4.17"/><circle cx="322" cy="110" r="4.17"/><circle cx="277" cy="216" r="4.17"/><circle cx="321" cy="163" r="4.17"/><circle cx="125" cy="374" r="4.17"/><circle cx="240" cy="312" r="4.17"/><circle cx="299" cy="49" r="4.17"/><circle cx="294" cy="130" r="4.17"/><circle cx="267" cy="130" r="4.17"/><circle cx="365" cy="165" r="4.17"/><circle cx="243" cy="120" r="4.17"/><circle cx="176" cy="85" r="4.17"/><circle cx="249" cy="162" r="4.17"/><circle cx="190" cy="219" r="4.17"/><circle cx="168" cy="205" r="4.17"/><circle cx="179" cy="183" r="4.17"/><circle cx="404" cy="49" r="4.17"/><circle cx="223" cy="152" r="4.17"/><circle cx="203" cy="187" r="4.17"/><circle cx="196" cy="335" r="4.17"/><circle cx="109" cy="306" r="4.17"/><circle cx="206" cy="158" r="4.17"/><circle cx="268" cy="210" r="4.17"/><circle cx="130" cy="222" r="4.17"/><circle cx="330" cy="103" r="4.17"/><circle cx="231" cy="182" r="4.17"/><circle cx="198" cy="217" r="4.17"/><circle cx="287" cy="58" r="4.17"/><circle cx="213" cy="221" r="4.17"/><circle cx="219" cy="155" r="4.17"/><circle cx="141" cy="253" r="4.17"/><circle cx="181" cy="375" r="4.17"/><circle cx="245" cy="95" r="4.17"/><circle cx="179" cy="106" r="4.17"/><circle cx="166" cy="217" r="4.17"/><circle cx="166" cy="359" r="4.17"/><circle cx="400" cy="128" r="4.17"/><circle cx="312" cy="219" r="4.17"/><circle cx="264" cy="269" r="4.17"/><circle cx="146" cy="238" r="4.17"/><circle cx="188" cy="191" r="4.17"/><circle cx="173" cy="252" r="4.17"/><circle cx="274" cy="197" r="4.17"/><circle cx="136" cy="257" r="4.17"/><circle cx="185" cy="256" r="4.17"/><circle cx="255" cy="262" r="4.17"/><circle cx="176" cy="227" r="4.17"/><circle cx="89" cy="212" r="4.17"/><circle cx="104" cy="255" r="4.17"/><circle cx="289" cy="159" r="4.17"/><circle cx="234" cy="218" r="4.17"/><circle cx="244" cy="217" r="4.17"/><circle cx="325" cy="169" r="4.17"/><circle cx="320" cy="222" r="4.17"/><circle cx="286" cy="227" r="4.17"/><circle cx="302" cy="162" r="4.17"/><circle cx="303" cy="200" r="4.17"/><circle cx="360" cy="141" r="4.17"/><circle cx="184" cy="97" r="4.17"/><circle cx="292" cy="270" r="4.17"/><circle cx="274" cy="212" r="4.17"/><circle cx="92" cy="275" r="4.17"/><circle cx="226" cy="167" r="4.17"/><circle cx="259" cy="283" r="4.17"/><circle cx="143" cy="281" r="4.17"/><circle cx="215" cy="96" r="4.17"/><circle cx="214" cy="341" r="4.17"/><circle cx="245" cy="307" r="4.17"/><circle cx="232" cy="321" r="4.17"/><circle cx="135" cy="147" r="4.17"/><circle cx="281" cy="153" r="4.17"/><circle cx="333" cy="175" r="4.17"/><circle cx="435" cy="49" r="4.17"/><circle cx="186" cy="206" r="4.17"/><circle cx="273" cy="245" r="4.17"/><circle cx="336" cy="65" r="4.17"/><circle cx="254" cy="188" r="4.17"/><circle cx="251" cy="85" r="4.17"/><circle cx="222" cy="182" r="4.17"/><circle cx="120" cy="319" r="4.17"/><circle cx="413" cy="107" r="4.17"/><circle cx="273" cy="176" r="4.17"/><circle cx="179" cy="166" r="4.17"/><circle cx="94" cy="324" r="4.17"/><circle cx="287" cy="160" r="4.17"/><circle cx="271" cy="197" r="4.17"/><circle cx="174" cy="195" r="4.17"/><circle cx="394" cy="91" r="4.17"/><circle cx="93" cy="322" r="4.17"/><circle cx="296" cy="172" r="4.17"/><circle cx="259" cy="257" r="4.17"/><circle cx="204" cy="130" r="4.17"/><circle cx="109" cy="286" r="4.17"/><circle cx="281" cy="283" r="4.17"/><circle cx="92" cy="311" r="4.17"/><circle cx="323" cy="152" r="4.17"/><circle cx="238" cy="138" r="4.17"/><circle cx="337" cy="155" r="4.17"/><circle cx="254" cy="276" r="4.17"/><circle cx="303" cy="195" r="4.17"/><circle cx="239" cy="186" r="4.17"/><circle cx="250" cy="253" r="4.17"/><circle cx="282" cy="180" r="4.17"/><circle cx="101" cy="342" r="4.17"/><circle cx="160" cy="193" r="4.17"/><circle cx="229" cy="86" r="4.17"/><circle cx="96" cy="341" r="4.17"/><circle cx="170" cy="223" r="4.17"/><circle cx="329" cy="186" r="4.17"/><circle cx="279" cy="194" r="4.17"/><circle cx="183" cy="357" r="4.17"/><circle cx="78" cy="379" r="4.17"/><circle cx="266" cy="296" r="4.17"/><circle cx="253" cy="169" r="4.17"/><circle cx="295" cy="282" r="4.17"/><circle cx="147" cy="277" r="4.17"/><circle cx="231" cy="102" r="4.17"/><circle cx="243" cy="216" r="4.17"/><circle cx="242" cy="322" r="4.17"/><circle cx="220" cy="322" r="4.17"/><circle cx="258" cy="136" r="4.17"/><circle cx="120" cy="277" r="4.17"/><circle cx="259" cy="298" r="4.17"/><circle cx="296" cy="217" r="4.17"/><circle cx="259" cy="318" r="4.17"/><circle cx="303" cy="192" r="4.17"/><circle cx="364" cy="182" r="4.17"/><circle cx="309" cy="202" r="4.17"/><circle cx="217" cy="143" r="4.17"/><circle cx="227" cy="93" r="4.17"/><circle cx="272" cy="187" r="4.17"/><circle cx="146" cy="229" r="4.17"/><circle cx="211" cy="182" r="4.17"/><circle cx="234" cy="73" r="4.17"/><circle cx="380" cy="108" r="4.17"/><circle cx="325" cy="192" r="4.17"/><circle cx="187" cy="370" r="4.17"/><circle cx="240" cy="125" r="4.17"/><circle cx="193" cy="264" r="4.17"/><circle cx="349" cy="73" r="4.17"/><circle cx="268" cy="194" r="4.17"/><circle cx="132" cy="239" r="4.17"/><circle cx="252" cy="186" r="4.17"/><circle cx="195" cy="266" r="4.17"/><circle cx="211" cy="174" r="4.17"/><circle cx="140" cy="324" r="4.17"/><circle cx="231" cy="135" r="4.17"/><circle cx="240" cy="331" r="4.17"/><circle cx="249" cy="126" r="4.17"/><circle cx="289" cy="206" r="4.17"/><circle cx="174" cy="174" r="4.17"/><circle cx="291" cy="321" r="4.17"/><circle cx="267" cy="208" r="4.17"/><circle cx="294" cy="210" r="4.17"/><circle cx="248" cy="182" r="4.17"/><circle cx="339" cy="192" r="4.17"/><circle cx="136" cy="206" r="4.17"/><circle cx="256" cy="285" r="4.17"/><circle cx="116" cy="377" r="4.17"/><circle cx="179" cy="364" r="4.17"/><circle cx="241" cy="263" r="4.17"/><circle cx="164" cy="166" r="4.17"/><circle cx="293" cy="151" r="4.17"/><circle cx="244" cy="246" r="4.17"/><circle cx="307" cy="184" r="4.17"/><circle cx="235" cy="174" r="4.17"/><circle cx="220" cy="330" r="4.17"/><circle cx="287" cy="68" r="4.17"/><circle cx="173" cy="244" r="4.17"/><circle cx="245" cy="143" r="4.17"/><circle cx="219" cy="125" r="4.17"/><circle cx="166" cy="376" r="4.17"/><circle cx="332" cy="106" r="4.17"/><circle cx="295" cy="227" r="4.17"/><circle cx="175" cy="172" r="4.17"/><circle cx="169" cy="257" r="4.17"/><circle cx="322" cy="317" r="4.17"/><circle cx="265" cy="225" r="4.17"/><circle cx="287" cy="92" r="4.17"/><circle cx="280" cy="167" r="4.17"/><circle cx="170" cy="258" r="4.17"/><circle cx="271" cy="251" r="4.17"/><circle cx="180" cy="242" r="4.17"/><circle cx="103" cy="363" r="4.17"/><circle cx="87" cy="284" r="4.17"/><circle cx="256" cy="286" r="4.17"/><circle cx="215" cy="338" r="4.17"/><circle cx="170" cy="49" r="4.17"/><circle cx="81" cy="332" r="4.17"/><circle cx="220" cy="235" r="4.17"/><circle cx="299" cy="273" r="4.17"/><circle cx="234" cy="343" r="4.17"/><circle cx="239" cy="215" r="4.17"/><circle cx="191" cy="335" r="4.17"/><circle cx="223" cy="325" r="4.17"/><circle cx="244" cy="179" r="4.17"/><circle cx="268" cy="194" r="4.17"/><circle cx="96" cy="354" r="4.17"/><circle cx="250" cy="187" r="4.17"/><circle cx="241" cy="356" r="4.17"/><circle cx="252" cy="203" r="4.17"/><circle cx="136" cy="369" r="4.17"/><circle cx="232" cy="186" r="4.17"/><circle cx="267" cy="266" r="4.17"/><circle cx="303" cy="204" r="4.17"/><circle cx="184" cy="189" r="4.17"/><circle cx="253" cy="222" r="4.17"/><circle cx="294" cy="258" r="4.17"/><circle cx="124" cy="243" r="4.17"/><circle cx="226" cy="134" r="4.17"/><circle cx="154" cy="245" r="4.17"/><circle cx="182" cy="57" r="4.17"/><circle cx="236" cy="153" r="4.17"/><circle cx="89" cy="368" r="4.17"/><circle cx="257" cy="71" r="4.17"/><circle cx="366" cy="160" r="4.17"/><circle cx="203" cy="110" r="4.17"/><circle cx="197" cy="335" r="4.17"/><circle cx="230" cy="93" r="4.17"/><circle cx="280" cy="309" r="4.17"/><circle cx="146" cy="209" r="4.17"/><circle cx="245" cy="151" r="4.17"/><circle cx="131" cy="253" r="4.17"/><circle cx="328" cy="194" r="4.17"/><circle cx="207" cy="256" r="4.17"/><circle cx="274" cy="102" r="4.17"/><circle cx="392" cy="112" r="4.17"/><circle cx="301" cy="182" r="4.17"/><circle cx="237" cy="196" r="4.17"/><circle cx="246" cy="310" r="4.17"/><circle cx="233" cy="260" r="4.17"/><circle cx="120" cy="321" r="4.17"/><circle cx="201" cy="205" r="4.17"/><circle cx="103" cy="335" r="4.17"/><circle cx="247" cy="322" r="4.17"/><circle cx="198" cy="210" r="4.17"/><circle cx="127" cy="240" r="4.17"/><circle cx="179" cy="242" r="4.17"/><circle cx="282" cy="262" r="4.17"/><circle cx="370" cy="183" r="4.17"/><circle cx="220" cy="303" r="4.17"/><circle cx="279" cy="288" r="4.17"/><circle cx="231" cy="284" r="4.17"/><circle cx="121" cy="307" r="4.17"/><circle cx="145" cy="246" r="4.17"/><circle cx="170" cy="213" r="4.17"/><circle cx="257" cy="248" r="4.17"/><circle cx="183" cy="248" r="4.17"/><circle cx="155" cy="49" r="4.17"/><circle cx="208" cy="313" r="4.17"/><circle cx="306" cy="175" r="4.17"/><circle cx="245" cy="248" r="4.17"/><circle cx="260" cy="167" r="4.17"/><circle cx="185" cy="148" r="4.17"/><circle cx="318" cy="105" r="4.17"/><circle cx="330" cy="97" r="4.17"/><circle cx="192" cy="263" r="4.17"/><circle cx="312" cy="251" r="4.17"/><circle cx="260" cy="249" r="4.17"/><circle cx="279" cy="112" r="4.17"/><circle cx="172" cy="128" r="4.17"/><circle cx="216" cy="319" r="4.17"/><circle cx="163" cy="49" r="4.17"/><circle cx="261" cy="124" r="4.17"/><circle cx="94" cy="350" r="4.17"/><circle cx="117" cy="272" r="4.17"/><circle cx="88" cy="327" r="4.17"/><circle cx="199" cy="158" r="4.17"/><circle cx="183" cy="248" r="4.17"/><circle cx="213" cy="313" r="4.17"/><circle cx="86" cy="369" r="4.17"/><circle cx="305" cy="238" r="4.17"/><circle cx="268" cy="49" r="4.17"/><circle cx="284" cy="273" r="4.17"/><circle cx="241" cy="263" r="4.17"/><circle cx="203" cy="235" r="4.17"/><circle cx="179" cy="230" r="4.17"/><circle cx="88" cy="374" r="4.17"/><circle cx="121" cy="293" r="4.17"/><circle cx="185" cy="243" r="4.17"/><circle cx="200" cy="216" r="4.17"/><circle cx="169" cy="206" r="4.17"/><circle cx="261" cy="236" r="4.17"/><circle cx="228" cy="267" r="4.17"/><circle cx="106" cy="367" r="4.17"/><circle cx="256" cy="147" r="4.17"/><circle cx="144" cy="330" r="4.17"/><circle cx="177" cy="49" r="4.17"/><circle cx="301" cy="111" r="4.17"/><circle cx="228" cy="242" r="4.17"/><circle cx="304" cy="153" r="4.17"/><circle cx="136" cy="257" r="4.17"/><circle cx="163" cy="219" r="4.17"/><circle cx="217" cy="190" r="4.17"/><circle cx="295" cy="265" r="4.17"/><circle cx="183" cy="107" r="4.17"/><circle cx="284" cy="244" r="4.17"/><circle cx="156" cy="184" r="4.17"/><circle cx="165" cy="259" r="4.17"/><circle cx="216" cy="265" r="4.17"/><circle cx="214" cy="338" r="4.17"/><circle cx="213" cy="168" r="4.17"/><circle cx="178" cy="255" r="4.17"/><circle cx="261" cy="232" r="4.17"/><circle cx="327" cy="176" r="4.17"/><circle cx="227" cy="215" r="4.17"/><circle cx="241" cy="256" r="4.17"/><circle cx="303" cy="61" r="4.17"/><circle cx="352" cy="93" r="4.17"/><circle cx="257" cy="163" r="4.17"/><circle cx="127" cy="282" r="4.17"/><circle cx="244" cy="262" r="4.17"/><circle cx="380" cy="60" r="4.17"/><circle cx="292" cy="211" r="4.17"/><circle cx="160" cy="251" r="4.17"/><circle cx="196" cy="349" r="4.17"/><circle cx="308" cy="117" r="4.17"/><circle cx="291" cy="161" r="4.17"/><circle cx="263" cy="247" r="4.17"/><circle cx="145" cy="254" r="4.17"/><circle cx="333" cy="210" r="4.17"/><circle cx="248" cy="172" r="4.17"/><circle cx="264" cy="88" r="4.17"/><circle cx="257" cy="248" r="4.17"/><circle cx="274" cy="346" r="4.17"/><circle cx="240" cy="247" r="4.17"/><circle cx="278" cy="230" r="4.17"/><circle cx="311" cy="222" r="4.17"/><circle cx="128" cy="237" r="4.17"/><circle cx="166" cy="260" r="4.17"/><circle cx="91" cy="368" r="4.17"/><circle cx="314" cy="193" r="4.17"/><circle cx="94" cy="358" r="4.17"/><circle cx="169" cy="229" r="4.17"/><circle cx="187" cy="118" r="4.17"/><circle cx="159" cy="239" r="4.17"/><circle cx="189" cy="142" r="4.17"/><circle cx="237" cy="254" r="4.17"/><circle cx="179" cy="219" r="4.17"/><circle cx="151" cy="230" r="4.17"/><circle cx="136" cy="252" r="4.17"/><circle cx="359" cy="229" r="4.17"/><circle cx="190" cy="193" r="4.17"/><circle cx="251" cy="200" r="4.17"/><circle cx="286" cy="276" r="4.17"/><circle cx="292" cy="214" r="4.17"/><circle cx="253" cy="317" r="4.17"/><circle cx="188" cy="104" r="4.17"/><circle cx="371" cy="100" r="4.17"/><circle cx="194" cy="176" r="4.17"/><circle cx="247" cy="319" r="4.17"/><circle cx="269" cy="162" r="4.17"/><circle cx="242" cy="253" r="4.17"/><circle cx="298" cy="254" r="4.17"/><circle cx="240" cy="265" r="4.17"/><circle cx="212" cy="319" r="4.17"/><circle cx="301" cy="207" r="4.17"/><circle cx="317" cy="219" r="4.17"/><circle cx="124" cy="302" r="4.17"/><circle cx="217" cy="210" r="4.17"/><circle cx="228" cy="168" r="4.17"/><circle cx="224" cy="279" r="4.17"/><circle cx="220" cy="185" r="4.17"/><circle cx="204" cy="340" r="4.17"/><circle cx="217" cy="302" r="4.17"/><circle cx="292" cy="259" r="4.17"/><circle cx="258" cy="195" r="4.17"/><circle cx="201" cy="173" r="4.17"/><circle cx="172" cy="191" r="4.17"/><circle cx="215" cy="262" r="4.17"/><circle cx="107" cy="311" r="4.17"/><circle cx="303" cy="230" r="4.17"/><circle cx="281" cy="187" r="4.17"/><circle cx="230" cy="292" r="4.17"/><circle cx="294" cy="197" r="4.17"/><circle cx="240" cy="230" r="4.17"/><circle cx="247" cy="154" r="4.17"/><circle cx="186" cy="218" r="4.17"/><circle cx="251" cy="180" r="4.17"/><circle cx="273" cy="260" r="4.17"/><circle cx="189" cy="211" r="4.17"/><circle cx="207" cy="320" r="4.17"/><circle cx="270" cy="235" r="4.17"/><circle cx="247" cy="110" r="4.17"/><circle cx="172" cy="173" r="4.17"/><circle cx="184" cy="133" r="4.17"/><circle cx="224" cy="198" r="4.17"/><circle cx="207" cy="158" r="4.17"/><circle cx="360" cy="61" r="4.17"/><circle cx="326" cy="180" r="4.17"/><circle cx="264" cy="308" r="4.17"/><circle cx="250" cy="153" r="4.17"/><circle cx="321" cy="49" r="4.17"/><circle cx="238" cy="198" r="4.17"/><circle cx="213" cy="339" r="4.17"/><circle cx="168" cy="256" r="4.17"/><circle cx="253" cy="279" r="4.17"/><circle cx="283" cy="246" r="4.17"/><circle cx="189" cy="211" r="4.17"/><circle cx="235" cy="236" r="4.17"/><circle cx="124" cy="212" r="4.17"/><circle cx="276" cy="268" r="4.17"/><circle cx="341" cy="230" r="4.17"/><circle cx="126" cy="260" r="4.17"/><circle cx="268" cy="252" r="4.17"/><circle cx="337" cy="173" r="4.17"/><circle cx="168" cy="222" r="4.17"/><circle cx="327" cy="277" r="4.17"/><circle cx="313" cy="167" r="4.17"/><circle cx="272" cy="252" r="4.17"/><circle cx="262" cy="146" r="4.17"/><circle cx="261" cy="189" r="4.17"/><circle cx="207" cy="250" r="4.17"/><circle cx="266" cy="198" r="4.17"/><circle cx="271" cy="250" r="4.17"/><circle cx="176" cy="232" r="4.17"/><circle cx="348" cy="225" r="4.17"/><circle cx="169" cy="265" r="4.17"/><circle cx="214" cy="332" r="4.17"/><circle cx="345" cy="193" r="4.17"/><circle cx="292" cy="336" r="4.17"/><circle cx="280" cy="142" r="4.17"/><circle cx="262" cy="323" r="4.17"/><circle cx="120" cy="139" r="4.17"/><circle cx="241" cy="221" r="4.17"/><circle cx="102" cy="230" r="4.17"/><circle cx="224" cy="153" r="4.17"/><circle cx="144" cy="49" r="4.17"/><circle cx="232" cy="229" r="4.17"/><circle cx="217" cy="128" r="4.17"/><circle cx="200" cy="380" r="4.17"/><circle cx="215" cy="318" r="4.17"/><circle cx="171" cy="359" r="4.17"/><circle cx="198" cy="342" r="4.17"/><circle cx="109" cy="376" r="4.17"/><circle cx="160" cy="260" r="4.17"/><circle cx="224" cy="241" r="4.17"/><circle cx="315" cy="221" r="4.17"/><circle cx="276" cy="234" r="4.17"/><circle cx="199" cy="266" r="4.17"/><circle cx="282" cy="158" r="4.17"/><circle cx="122" cy="271" r="4.17"/><circle cx="228" cy="291" r="4.17"/><circle cx="238" cy="99" r="4.17"/><circle cx="207" cy="365" r="4.17"/><circle cx="263" cy="286" r="4.17"/><circle cx="368" cy="214" r="4.17"/><circle cx="214" cy="266" r="4.17"/><circle cx="225" cy="132" r="4.17"/><circle cx="227" cy="329" r="4.17"/><circle cx="106" cy="370" r="4.17"/><circle cx="501" cy="49" r="4.17"/><circle cx="216" cy="329" r="4.17"/><circle cx="111" cy="373" r="4.17"/><circle cx="276" cy="313" r="4.17"/><circle cx="105" cy="314" r="4.17"/><circle cx="284" cy="215" r="4.17"/><circle cx="197" cy="242" r="4.17"/><circle cx="223" cy="79" r="4.17"/><circle cx="139" cy="322" r="4.17"/><circle cx="241" cy="237" r="4.17"/><circle cx="255" cy="49" r="4.17"/><circle cx="124" cy="301" r="4.17"/><circle cx="200" cy="308" r="4.17"/><circle cx="162" cy="357" r="4.17"/><circle cx="234" cy="168" r="4.17"/><circle cx="76" cy="375" r="4.17"/><circle cx="174" cy="193" r="4.17"/><circle cx="277" cy="187" r="4.17"/><circle cx="257" cy="174" r="4.17"/><circle cx="265" cy="279" r="4.17"/><circle cx="214" cy="194" r="4.17"/><circle cx="297" cy="200" r="4.17"/><circle cx="145" cy="49" r="4.17"/><circle cx="157" cy="233" r="4.17"/><circle cx="154" cy="217" r="4.17"/><circle cx="377" cy="240" r="4.17"/><circle cx="263" cy="176" r="4.17"/><circle cx="199" cy="180" r="4.17"/><circle cx="280" cy="169" r="4.17"/><circle cx="343" cy="192" r="4.17"/><circle cx="224" cy="270" r="4.17"/><circle cx="199" cy="334" r="4.17"/><circle cx="310" cy="195" r="4.17"/><circle cx="200" cy="202" r="4.17"/><circle cx="293" cy="301" r="4.17"/><circle cx="111" cy="311" r="4.17"/><circle cx="114" cy="375" r="4.17"/><circle cx="223" cy="229" r="4.17"/><circle cx="102" cy="359" r="4.17"/><circle cx="185" cy="195" r="4.17"/><circle cx="227" cy="177" r="4.17"/><circle cx="230" cy="283" r="4.17"/><circle cx="250" cy="99" r="4.17"/><circle cx="181" cy="177" r="4.17"/><circle cx="264" cy="310" r="4.17"/><circle cx="290" cy="243" r="4.17"/><circle cx="226" cy="316" r="4.17"/><circle cx="189" cy="353" r="4.17"/><circle cx="86" cy="376" r="4.17"/><circle cx="199" cy="334" r="4.17"/><circle cx="245" cy="243" r="4.17"/><circle cx="197" cy="268" r="4.17"/><circle cx="252" cy="289" r="4.17"/><circle cx="106" cy="375" r="4.17"/><circle cx="331" cy="104" r="4.17"/><circle cx="238" cy="290" r="4.17"/><circle cx="224" cy="242" r="4.17"/><circle cx="200" cy="198" r="4.17"/><circle cx="165" cy="172" r="4.17"/><circle cx="230" cy="324" r="4.17"/><circle cx="216" cy="205" r="4.17"/><circle cx="170" cy="211" r="4.17"/><circle cx="369" cy="182" r="4.17"/><circle cx="110" cy="332" r="4.17"/><circle cx="178" cy="240" r="4.17"/><circle cx="197" cy="201" r="4.17"/><circle cx="110" cy="333" r="4.17"/><circle cx="312" cy="242" r="4.17"/><circle cx="192" cy="334" r="4.17"/><circle cx="281" cy="252" r="4.17"/><circle cx="150" cy="49" r="4.17"/><circle cx="213" cy="308" r="4.17"/><circle cx="304" cy="146" r="4.17"/><circle cx="234" cy="248" r="4.17"/><circle cx="319" cy="237" r="4.17"/><circle cx="107" cy="365" r="4.17"/><circle cx="84" cy="373" r="4.17"/><circle cx="189" cy="162" r="4.17"/><circle cx="108" cy="342" r="4.17"/><circle cx="250" cy="208" r="4.17"/><circle cx="265" cy="143" r="4.17"/><circle cx="301" cy="185" r="4.17"/><circle cx="107" cy="363" r="4.17"/><circle cx="267" cy="239" r="4.17"/><circle cx="152" cy="259" r="4.17"/><circle cx="196" cy="166" r="4.17"/><circle cx="223" cy="274" r="4.17"/><circle cx="123" cy="318" r="4.17"/><circle cx="274" cy="210" r="4.17"/><circle cx="280" cy="74" r="4.17"/><circle cx="453" cy="49" r="4.17"/><circle cx="252" cy="155" r="4.17"/><circle cx="128" cy="353" r="4.17"/><circle cx="265" cy="292" r="4.17"/><circle cx="338" cy="136" r="4.17"/><circle cx="212" cy="221" r="4.17"/><circle cx="260" cy="231" r="4.17"/><circle cx="294" cy="203" r="4.17"/><circle cx="310" cy="76" r="4.17"/><circle cx="382" cy="96" r="4.17"/><circle cx="293" cy="127" r="4.17"/><circle cx="151" cy="373" r="4.17"/><circle cx="244" cy="179" r="4.17"/><circle cx="187" cy="150" r="4.17"/><circle cx="149" cy="219" r="4.17"/><circle cx="160" cy="262" r="4.17"/><circle cx="152" cy="357" r="4.17"/><circle cx="452" cy="60" r="4.17"/><circle cx="119" cy="283" r="4.17"/><circle cx="222" cy="290" r="4.17"/><circle cx="228" cy="314" r="4.17"/><circle cx="199" cy="357" r="4.17"/><circle cx="222" cy="233" r="4.17"/><circle cx="290" cy="78" r="4.17"/><circle cx="91" cy="345" r="4.17"/><circle cx="331" cy="122" r="4.17"/><circle cx="112" cy="353" r="4.17"/><circle cx="365" cy="93" r="4.17"/><circle cx="290" cy="107" r="4.17"/><circle cx="232" cy="221" r="4.17"/><circle cx="152" cy="234" r="4.17"/><circle cx="236" cy="330" r="4.17"/><circle cx="259" cy="264" r="4.17"/><circle cx="185" cy="373" r="4.17"/><circle cx="294" cy="170" r="4.17"/><circle cx="141" cy="358" r="4.17"/><circle cx="266" cy="267" r="4.17"/><circle cx="113" cy="352" r="4.17"/><circle cx="214" cy="307" r="4.17"/><circle cx="159" cy="256" r="4.17"/><circle cx="193" cy="362" r="4.17"/><circle cx="113" cy="270" r="4.17"/><circle cx="163" cy="354" r="4.17"/><circle cx="200" cy="312" r="4.17"/><circle cx="180" cy="227" r="4.17"/><circle cx="163" cy="224" r="4.17"/><circle cx="139" cy="254" r="4.17"/><circle cx="318" cy="180" r="4.17"/><circle cx="229" cy="185" r="4.17"/><circle cx="222" cy="138" r="4.17"/><circle cx="286" cy="227" r="4.17"/><circle cx="223" cy="286" r="4.17"/><circle cx="228" cy="334" r="4.17"/><circle cx="341" cy="239" r="4.17"/><circle cx="125" cy="244" r="4.17"/><circle cx="291" cy="252" r="4.17"/><circle cx="222" cy="289" r="4.17"/><circle cx="281" cy="158" r="4.17"/><circle cx="241" cy="228" r="4.17"/><circle cx="180" cy="367" r="4.17"/><circle cx="275" cy="61" r="4.17"/><circle cx="98" cy="315" r="4.17"/><circle cx="214" cy="207" r="4.17"/><circle cx="279" cy="184" r="4.17"/><circle cx="119" cy="222" r="4.17"/><circle cx="207" cy="291" r="4.17"/><circle cx="172" cy="210" r="4.17"/><circle cx="238" cy="222" r="4.17"/><circle cx="265" cy="229" r="4.17"/><circle cx="210" cy="324" r="4.17"/><circle cx="294" cy="158" r="4.17"/><circle cx="252" cy="187" r="4.17"/><circle cx="138" cy="328" r="4.17"/><circle cx="201" cy="327" r="4.17"/><circle cx="300" cy="167" r="4.17"/><circle cx="367" cy="62" r="4.17"/><circle cx="119" cy="370" r="4.17"/><circle cx="103" cy="347" r="4.17"/><circle cx="140" cy="194" r="4.17"/><circle cx="348" cy="225" r="4.17"/><circle cx="131" cy="217" r="4.17"/><circle cx="245" cy="317" r="4.17"/><circle cx="125" cy="362" r="4.17"/><circle cx="220" cy="117" r="4.17"/><circle cx="358" cy="239" r="4.17"/><circle cx="185" cy="294" r="4.17"/><circle cx="237" cy="335" r="4.17"/><circle cx="249" cy="285" r="4.17"/><circle cx="232" cy="97" r="4.17"/><circle cx="197" cy="332" r="4.17"/><circle cx="407" cy="139" r="4.17"/><circle cx="111" cy="310" r="4.17"/><circle cx="180" cy="72" r="4.17"/><circle cx="115" cy="290" r="4.17"/><circle cx="328" cy="230" r="4.17"/><circle cx="98" cy="296" r="4.17"/><circle cx="316" cy="246" r="4.17"/><circle cx="288" cy="173" r="4.17"/><circle cx="154" cy="227" r="4.17"/><circle cx="222" cy="178" r="4.17"/><circle cx="292" cy="250" r="4.17"/><circle cx="195" cy="288" r="4.17"/><circle cx="165" cy="351" r="4.17"/><circle cx="172" cy="175" r="4.17"/><circle cx="95" cy="376" r="4.17"/><circle cx="286" cy="159" r="4.17"/><circle cx="343" cy="257" r="4.17"/><circle cx="287" cy="211" r="4.17"/><circle cx="235" cy="219" r="4.17"/><circle cx="128" cy="305" r="4.17"/><circle cx="234" cy="357" r="4.17"/><circle cx="134" cy="345" r="4.17"/><circle cx="278" cy="140" r="4.17"/><circle cx="214" cy="82" r="4.17"/><circle cx="389" cy="153" r="4.17"/><circle cx="130" cy="257" r="4.17"/><circle cx="298" cy="97" r="4.17"/><circle cx="213" cy="260" r="4.17"/><circle cx="249" cy="225" r="4.17"/><circle cx="210" cy="261" r="4.17"/><circle cx="201" cy="290" r="4.17"/><circle cx="144" cy="262" r="4.17"/><circle cx="263" cy="157" r="4.17"/><circle cx="238" cy="305" r="4.17"/><circle cx="213" cy="193" r="4.17"/><circle cx="223" cy="277" r="4.17"/><circle cx="271" cy="184" r="4.17"/><circle cx="228" cy="228" r="4.17"/><circle cx="220" cy="73" r="4.17"/><circle cx="219" cy="132" r="4.17"/><circle cx="168" cy="227" r="4.17"/><circle cx="253" cy="295" r="4.17"/><circle cx="287" cy="256" r="4.17"/><circle cx="179" cy="137" r="4.17"/><circle cx="186" cy="359" r="4.17"/><circle cx="296" cy="248" r="4.17"/><circle cx="239" cy="210" r="4.17"/><circle cx="280" cy="255" r="4.17"/><circle cx="231" cy="292" r="4.17"/><circle cx="367" cy="114" r="4.17"/><circle cx="179" cy="224" r="4.17"/><circle cx="230" cy="299" r="4.17"/><circle cx="295" cy="219" r="4.17"/><circle cx="133" cy="338" r="4.17"/><circle cx="153" cy="250" r="4.17"/><circle cx="129" cy="339" r="4.17"/><circle cx="236" cy="134" r="4.17"/><circle cx="199" cy="153" r="4.17"/><circle cx="210" cy="165" r="4.17"/><circle cx="196" cy="256" r="4.17"/><circle cx="228" cy="205" r="4.17"/><circle cx="281" cy="88" r="4.17"/><circle cx="166" cy="365" r="4.17"/><circle cx="230" cy="263" r="4.17"/><circle cx="251" cy="144" r="4.17"/><circle cx="447" cy="266" r="4.17"/><circle cx="142" cy="242" r="4.17"/><circle cx="197" cy="349" r="4.17"/><circle cx="247" cy="296" r="4.17"/><circle cx="230" cy="265" r="4.17"/><circle cx="285" cy="159" r="4.17"/><circle cx="108" cy="335" r="4.17"/><circle cx="281" cy="208" r="4.17"/><circle cx="322" cy="140" r="4.17"/><circle cx="110" cy="367" r="4.17"/><circle cx="179" cy="373" r="4.17"/><circle cx="286" cy="252" r="4.17"/><circle cx="206" cy="259" r="4.17"/><circle cx="224" cy="306" r="4.17"/><circle cx="329" cy="177" r="4.17"/><circle cx="249" cy="331" r="4.17"/><circle cx="344" cy="184" r="4.17"/><circle cx="229" cy="143" r="4.17"/><circle cx="252" cy="286" r="4.17"/><circle cx="363" cy="221" r="4.17"/><circle cx="290" cy="244" r="4.17"/><circle cx="278" cy="133" r="4.17"/><circle cx="103" cy="157" r="4.17"/><circle cx="262" cy="190" r="4.17"/><circle cx="197" cy="272" r="4.17"/><circle cx="231" cy="199" r="4.17"/><circle cx="310" cy="256" r="4.17"/><circle cx="284" cy="129" r="4.17"/><circle cx="190" cy="95" r="4.17"/><circle cx="121" cy="313" r="4.17"/><circle cx="357" cy="60" r="4.17"/><circle cx="93" cy="302" r="4.17"/><circle cx="206" cy="290" r="4.17"/><circle cx="357" cy="171" r="4.17"/><circle cx="364" cy="118" r="4.17"/><circle cx="184" cy="163" r="4.17"/><circle cx="320" cy="225" r="4.17"/><circle cx="236" cy="223" r="4.17"/><circle cx="159" cy="261" r="4.17"/><circle cx="206" cy="296" r="4.17"/><circle cx="242" cy="192" r="4.17"/><circle cx="207" cy="226" r="4.17"/><circle cx="283" cy="197" r="4.17"/><circle cx="294" cy="153" r="4.17"/><circle cx="212" cy="256" r="4.17"/><circle cx="108" cy="352" r="4.17"/><circle cx="281" cy="68" r="4.17"/>
<circle cx="98" cy="343" r="4.17"/><circle cx="193" cy="218" r="4.17"/><circle cx="140" cy="357" r="4.17"/><circle cx="236" cy="244" r="4.17"/><circle cx="280" cy="179" r="4.17"/><circle cx="261" cy="185" r="4.17"/><circle cx="197" cy="232" r="4.17"/><circle cx="247" cy="180" r="4.17"/><circle cx="282" cy="133" r="4.17"/><circle cx="186" cy="213" r="4.17"/><circle cx="243" cy="163" r="4.17"/><circle cx="279" cy="208" r="4.17"/><circle cx="153" cy="371" r="4.17"/><circle cx="317" cy="205" r="4.17"/><circle cx="263" cy="230" r="4.17"/><circle cx="244" cy="286" r="4.17"/><circle cx="213" cy="257" r="4.17"/><circle cx="103" cy="355" r="4.17"/><circle cx="191" cy="256" r="4.17"/><circle cx="113" cy="364" r="4.17"/><circle cx="112" cy="339" r="4.17"/><circle cx="345" cy="169" r="4.17"/><circle cx="207" cy="142" r="4.17"/><circle cx="252" cy="266" r="4.17"/><circle cx="229" cy="285" r="4.17"/><circle cx="337" cy="56" r="4.17"/><circle cx="202" cy="255" r="4.17"/><circle cx="159" cy="364" r="4.17"/><circle cx="294" cy="169" r="4.17"/><circle cx="136" cy="329" r="4.17"/><circle cx="268" cy="245" r="4.17"/><circle cx="214" cy="363" r="4.17"/><circle cx="266" cy="217" r="4.17"/><circle cx="171" cy="355" r="4.17"/><circle cx="169" cy="200" r="4.17"/><circle cx="174" cy="344" r="4.17"/><circle cx="171" cy="347" r="4.17"/><circle cx="212" cy="340" r="4.17"/><circle cx="310" cy="195" r="4.17"/><circle cx="94" cy="370" r="4.17"/><circle cx="276" cy="201" r="4.17"/><circle cx="176" cy="359" r="4.17"/><circle cx="305" cy="184" r="4.17"/><circle cx="220" cy="343" r="4.17"/><circle cx="290" cy="215" r="4.17"/><circle cx="140" cy="274" r="4.17"/><circle cx="133" cy="304" r="4.17"/><circle cx="205" cy="293" r="4.17"/><circle cx="258" cy="293" r="4.17"/><circle cx="265" cy="211" r="4.17"/><circle cx="206" cy="199" r="4.17"/><circle cx="123" cy="351" r="4.17"/><circle cx="202" cy="326" r="4.17"/><circle cx="296" cy="211" r="4.17"/><circle cx="147" cy="275" r="4.17"/><circle cx="253" cy="259" r="4.17"/><circle cx="139" cy="221" r="4.17"/><circle cx="216" cy="259" r="4.17"/><circle cx="132" cy="301" r="4.17"/><circle cx="235" cy="239" r="4.17"/><circle cx="174" cy="251" r="4.17"/><circle cx="296" cy="276" r="4.17"/><circle cx="258" cy="239" r="4.17"/><circle cx="194" cy="160" r="4.17"/><circle cx="320" cy="204" r="4.17"/><circle cx="294" cy="237" r="4.17"/><circle cx="145" cy="366" r="4.17"/><circle cx="258" cy="89" r="4.17"/><circle cx="214" cy="315" r="4.17"/><circle cx="139" cy="222" r="4.17"/><circle cx="155" cy="268" r="4.17"/><circle cx="260" cy="266" r="4.17"/><circle cx="588" cy="49" r="4.17"/><circle cx="246" cy="212" r="4.17"/><circle cx="116" cy="302" r="4.17"/><circle cx="201" cy="338" r="4.17"/><circle cx="122" cy="309" r="4.17"/><circle cx="135" cy="271" r="4.17"/><circle cx="226" cy="254" r="4.17"/><circle cx="164" cy="264" r="4.17"/><circle cx="207" cy="263" r="4.17"/><circle cx="239" cy="332" r="4.17"/><circle cx="205" cy="290" r="4.17"/><circle cx="267" cy="238" r="4.17"/><circle cx="191" cy="290" r="4.17"/><circle cx="340" cy="146" r="4.17"/><circle cx="231" cy="335" r="4.17"/><circle cx="231" cy="333" r="4.17"/><circle cx="257" cy="307" r="4.17"/><circle cx="248" cy="241" r="4.17"/><circle cx="205" cy="306" r="4.17"/><circle cx="359" cy="197" r="4.17"/><circle cx="200" cy="249" r="4.17"/><circle cx="218" cy="363" r="4.17"/><circle cx="276" cy="85" r="4.17"/><circle cx="130" cy="336" r="4.17"/><circle cx="113" cy="343" r="4.17"/><circle cx="201" cy="268" r="4.17"/><circle cx="198" cy="299" r="4.17"/><circle cx="215" cy="290" r="4.17"/><circle cx="281" cy="234" r="4.17"/><circle cx="207" cy="298" r="4.17"/><circle cx="367" cy="188" r="4.17"/><circle cx="95" cy="371" r="4.17"/><circle cx="366" cy="172" r="4.17"/><circle cx="350" cy="134" r="4.17"/><circle cx="279" cy="255" r="4.17"/><circle cx="231" cy="205" r="4.17"/><circle cx="376" cy="133" r="4.17"/><circle cx="296" cy="206" r="4.17"/><circle cx="204" cy="289" r="4.17"/><circle cx="123" cy="357" r="4.17"/><circle cx="164" cy="265" r="4.17"/><circle cx="196" cy="297" r="4.17"/><circle cx="244" cy="262" r="4.17"/><circle cx="265" cy="258" r="4.17"/><circle cx="223" cy="314" r="4.17"/><circle cx="102" cy="342" r="4.17"/><circle cx="136" cy="335" r="4.17"/><circle cx="333" cy="199" r="4.17"/><circle cx="280" cy="215" r="4.17"/><circle cx="124" cy="317" r="4.17"/><circle cx="229" cy="213" r="4.17"/><circle cx="149" cy="356" r="4.17"/><circle cx="278" cy="114" r="4.17"/><circle cx="88" cy="394" r="4.17"/><circle cx="114" cy="157" r="4.17"/><circle cx="230" cy="111" r="4.17"/><circle cx="197" cy="284" r="4.17"/><circle cx="149" cy="181" r="4.17"/><circle cx="210" cy="300" r="4.17"/><circle cx="226" cy="211" r="4.17"/><circle cx="123" cy="370" r="4.17"/><circle cx="148" cy="194" r="4.17"/><circle cx="110" cy="347" r="4.17"/><circle cx="151" cy="49" r="4.17"/><circle cx="281" cy="72" r="4.17"/><circle cx="176" cy="364" r="4.17"/><circle cx="99" cy="374" r="4.17"/><circle cx="136" cy="321" r="4.17"/><circle cx="253" cy="206" r="4.17"/><circle cx="184" cy="257" r="4.17"/><circle cx="255" cy="196" r="4.17"/><circle cx="325" cy="87" r="4.17"/><circle cx="205" cy="110" r="4.17"/><circle cx="368" cy="197" r="4.17"/><circle cx="262" cy="88" r="4.17"/><circle cx="137" cy="360" r="4.17"/><circle cx="191" cy="355" r="4.17"/><circle cx="316" cy="97" r="4.17"/><circle cx="334" cy="227" r="4.17"/><circle cx="185" cy="309" r="4.17"/><circle cx="454" cy="311" r="4.17"/><circle cx="291" cy="302" r="4.17"/><circle cx="322" cy="197" r="4.17"/><circle cx="191" cy="323" r="4.17"/><circle cx="158" cy="269" r="4.17"/><circle cx="263" cy="223" r="4.17"/><circle cx="124" cy="337" r="4.17"/><circle cx="192" cy="224" r="4.17"/><circle cx="133" cy="356" r="4.17"/><circle cx="224" cy="333" r="4.17"/><circle cx="222" cy="292" r="4.17"/><circle cx="211" cy="283" r="4.17"/><circle cx="182" cy="352" r="4.17"/><circle cx="149" cy="356" r="4.17"/><circle cx="205" cy="246" r="4.17"/><circle cx="241" cy="347" r="4.17"/><circle cx="264" cy="196" r="4.17"/><circle cx="166" cy="186" r="4.17"/><circle cx="454" cy="248" r="4.17"/><circle cx="148" cy="248" r="4.17"/><circle cx="367" cy="248" r="4.17"/><circle cx="160" cy="167" r="4.17"/><circle cx="357" cy="107" r="4.17"/><circle cx="161" cy="228" r="4.17"/><circle cx="280" cy="150" r="4.17"/><circle cx="273" cy="230" r="4.17"/><circle cx="204" cy="336" r="4.17"/><circle cx="160" cy="253" r="4.17"/><circle cx="577" cy="49" r="4.17"/><circle cx="292" cy="189" r="4.17"/><circle cx="259" cy="204" r="4.17"/><circle cx="330" cy="236" r="4.17"/><circle cx="118" cy="312" r="4.17"/><circle cx="238" cy="281" r="4.17"/><circle cx="138" cy="358" r="4.17"/><circle cx="151" cy="245" r="4.17"/><circle cx="259" cy="270" r="4.17"/><circle cx="152" cy="368" r="4.17"/><circle cx="267" cy="153" r="4.17"/><circle cx="134" cy="211" r="4.17"/><circle cx="152" cy="260" r="4.17"/><circle cx="218" cy="202" r="4.17"/><circle cx="272" cy="264" r="4.17"/><circle cx="166" cy="110" r="4.17"/><circle cx="214" cy="313" r="4.17"/><circle cx="245" cy="200" r="4.17"/><circle cx="243" cy="301" r="4.17"/><circle cx="176" cy="349" r="4.17"/><circle cx="137" cy="357" r="4.17"/><circle cx="133" cy="238" r="4.17"/><circle cx="91" cy="379" r="4.17"/><circle cx="354" cy="155" r="4.17"/><circle cx="206" cy="281" r="4.17"/><circle cx="361" cy="70" r="4.17"/><circle cx="198" cy="182" r="4.17"/><circle cx="269" cy="214" r="4.17"/><circle cx="134" cy="354" r="4.17"/><circle cx="342" cy="230" r="4.17"/><circle cx="210" cy="337" r="4.17"/><circle cx="242" cy="203" r="4.17"/><circle cx="182" cy="355" r="4.17"/><circle cx="254" cy="228" r="4.17"/><circle cx="134" cy="363" r="4.17"/><circle cx="130" cy="369" r="4.17"/><circle cx="203" cy="325" r="4.17"/><circle cx="139" cy="287" r="4.17"/><circle cx="194" cy="343" r="4.17"/><circle cx="223" cy="260" r="4.17"/><circle cx="149" cy="294" r="4.17"/><circle cx="128" cy="358" r="4.17"/><circle cx="130" cy="347" r="4.17"/><circle cx="166" cy="231" r="4.17"/><circle cx="156" cy="356" r="4.17"/><circle cx="118" cy="374" r="4.17"/><circle cx="185" cy="258" r="4.17"/><circle cx="318" cy="172" r="4.17"/><circle cx="266" cy="279" r="4.17"/><circle cx="305" cy="56" r="4.17"/><circle cx="278" cy="208" r="4.17"/><circle cx="309" cy="153" r="4.17"/><circle cx="216" cy="200" r="4.17"/><circle cx="254" cy="211" r="4.17"/><circle cx="197" cy="158" r="4.17"/><circle cx="110" cy="212" r="4.17"/><circle cx="315" cy="145" r="4.17"/><circle cx="115" cy="293" r="4.17"/><circle cx="204" cy="289" r="4.17"/><circle cx="255" cy="281" r="4.17"/><circle cx="260" cy="96" r="4.17"/><circle cx="114" cy="293" r="4.17"/><circle cx="214" cy="323" r="4.17"/><circle cx="216" cy="257" r="4.17"/><circle cx="252" cy="212" r="4.17"/><circle cx="125" cy="336" r="4.17"/><circle cx="274" cy="164" r="4.17"/><circle cx="262" cy="277" r="4.17"/><circle cx="184" cy="164" r="4.17"/><circle cx="306" cy="196" r="4.17"/><circle cx="157" cy="223" r="4.17"/><circle cx="91" cy="346" r="4.17"/><circle cx="182" cy="340" r="4.17"/><circle cx="188" cy="347" r="4.17"/><circle cx="235" cy="219" r="4.17"/><circle cx="388" cy="131" r="4.17"/><circle cx="276" cy="154" r="4.17"/><circle cx="327" cy="197" r="4.17"/><circle cx="188" cy="344" r="4.17"/><circle cx="297" cy="116" r="4.17"/><circle cx="264" cy="82" r="4.17"/><circle cx="206" cy="169" r="4.17"/><circle cx="174" cy="274" r="4.17"/><circle cx="206" cy="232" r="4.17"/><circle cx="142" cy="377" r="4.17"/><circle cx="195" cy="272" r="4.17"/><circle cx="234" cy="278" r="4.17"/><circle cx="293" cy="218" r="4.17"/><circle cx="255" cy="271" r="4.17"/><circle cx="282" cy="204" r="4.17"/><circle cx="150" cy="350" r="4.17"/><circle cx="204" cy="348" r="4.17"/><circle cx="150" cy="235" r="4.17"/><circle cx="105" cy="364" r="4.17"/><circle cx="161" cy="277" r="4.17"/><circle cx="102" cy="372" r="4.17"/><circle cx="246" cy="161" r="4.17"/><circle cx="233" cy="306" r="4.17"/><circle cx="275" cy="243" r="4.17"/><circle cx="219" cy="351" r="4.17"/><circle cx="130" cy="334" r="4.17"/><circle cx="236" cy="266" r="4.17"/><circle cx="180" cy="147" r="4.17"/><circle cx="515" cy="49" r="4.17"/><circle cx="224" cy="297" r="4.17"/><circle cx="261" cy="239" r="4.17"/><circle cx="78" cy="139" r="4.17"/><circle cx="183" cy="286" r="4.17"/><circle cx="159" cy="370" r="4.17"/><circle cx="287" cy="292" r="4.17"/><circle cx="125" cy="345" r="4.17"/><circle cx="267" cy="241" r="4.17"/><circle cx="228" cy="325" r="4.17"/><circle cx="261" cy="171" r="4.17"/><circle cx="100" cy="317" r="4.17"/><circle cx="184" cy="242" r="4.17"/><circle cx="211" cy="266" r="4.17"/><circle cx="166" cy="271" r="4.17"/><circle cx="276" cy="261" r="4.17"/><circle cx="291" cy="122" r="4.17"/><circle cx="201" cy="290" r="4.17"/><circle cx="175" cy="267" r="4.17"/><circle cx="224" cy="154" r="4.17"/><circle cx="213" cy="295" r="4.17"/><circle cx="180" cy="341" r="4.17"/><circle cx="119" cy="375" r="4.17"/><circle cx="216" cy="190" r="4.17"/><circle cx="198" cy="219" r="4.17"/><circle cx="229" cy="315" r="4.17"/><circle cx="209" cy="118" r="4.17"/><circle cx="180" cy="349" r="4.17"/><circle cx="211" cy="202" r="4.17"/><circle cx="192" cy="210" r="4.17"/><circle cx="185" cy="262" r="4.17"/><circle cx="304" cy="261" r="4.17"/><circle cx="221" cy="337" r="4.17"/><circle cx="110" cy="360" r="4.17"/><circle cx="195" cy="284" r="4.17"/><circle cx="95" cy="351" r="4.17"/><circle cx="319" cy="213" r="4.17"/><circle cx="133" cy="346" r="4.17"/><circle cx="124" cy="287" r="4.17"/><circle cx="290" cy="142" r="4.17"/><circle cx="205" cy="298" r="4.17"/><circle cx="238" cy="145" r="4.17"/><circle cx="204" cy="278" r="4.17"/><circle cx="191" cy="190" r="4.17"/><circle cx="342" cy="105" r="4.17"/><circle cx="156" cy="291" r="4.17"/><circle cx="292" cy="288" r="4.17"/><circle cx="154" cy="182" r="4.17"/><circle cx="117" cy="292" r="4.17"/><circle cx="151" cy="233" r="4.17"/><circle cx="145" cy="225" r="4.17"/><circle cx="329" cy="194" r="4.17"/><circle cx="85" cy="296" r="4.17"/><circle cx="158" cy="366" r="4.17"/><circle cx="354" cy="120" r="4.17"/><circle cx="194" cy="240" r="4.17"/><circle cx="136" cy="341" r="4.17"/><circle cx="249" cy="100" r="4.17"/><circle cx="246" cy="241" r="4.17"/><circle cx="113" cy="328" r="4.17"/><circle cx="277" cy="264" r="4.17"/><circle cx="226" cy="261" r="4.17"/><circle cx="175" cy="338" r="4.17"/><circle cx="219" cy="334" r="4.17"/><circle cx="231" cy="190" r="4.17"/><circle cx="251" cy="199" r="4.17"/><circle cx="329" cy="59" r="4.17"/><circle cx="211" cy="220" r="4.17"/><circle cx="129" cy="365" r="4.17"/><circle cx="215" cy="298" r="4.17"/><circle cx="147" cy="361" r="4.17"/><circle cx="220" cy="233" r="4.17"/><circle cx="181" cy="344" r="4.17"/><circle cx="245" cy="166" r="4.17"/><circle cx="104" cy="330" r="4.17"/><circle cx="211" cy="326" r="4.17"/><circle cx="197" cy="223" r="4.17"/><circle cx="188" cy="306" r="4.17"/><circle cx="156" cy="157" r="4.17"/><circle cx="292" cy="249" r="4.17"/><circle cx="248" cy="238" r="4.17"/><circle cx="164" cy="338" r="4.17"/><circle cx="289" cy="241" r="4.17"/><circle cx="157" cy="294" r="4.17"/><circle cx="186" cy="205" r="4.17"/><circle cx="237" cy="151" r="4.17"/><circle cx="262" cy="135" r="4.17"/><circle cx="141" cy="373" r="4.17"/><circle cx="254" cy="227" r="4.17"/><circle cx="216" cy="190" r="4.17"/><circle cx="259" cy="323" r="4.17"/><circle cx="209" cy="223" r="4.17"/><circle cx="95" cy="247" r="4.17"/><circle cx="527" cy="49" r="4.17"/><circle cx="275" cy="167" r="4.17"/><circle cx="161" cy="211" r="4.17"/><circle cx="314" cy="249" r="4.17"/><circle cx="231" cy="338" r="4.17"/><circle cx="236" cy="147" r="4.17"/><circle cx="192" cy="271" r="4.17"/><circle cx="172" cy="240" r="4.17"/><circle cx="152" cy="252" r="4.17"/><circle cx="173" cy="241" r="4.17"/><circle cx="156" cy="280" r="4.17"/><circle cx="307" cy="248" r="4.17"/><circle cx="183" cy="299" r="4.17"/><circle cx="166" cy="231" r="4.17"/><circle cx="286" cy="250" r="4.17"/><circle cx="188" cy="200" r="4.17"/><circle cx="226" cy="143" r="4.17"/><circle cx="145" cy="374" r="4.17"/><circle cx="260" cy="133" r="4.17"/><circle cx="258" cy="294" r="4.17"/><circle cx="315" cy="212" r="4.17"/><circle cx="178" cy="266" r="4.17"/><circle cx="193" cy="305" r="4.17"/><circle cx="242" cy="266" r="4.17"/><circle cx="238" cy="207" r="4.17"/><circle cx="255" cy="247" r="4.17"/><circle cx="128" cy="374" r="4.17"/><circle cx="244" cy="299" r="4.17"/><circle cx="201" cy="121" r="4.17"/><circle cx="191" cy="251" r="4.17"/><circle cx="154" cy="120" r="4.17"/><circle cx="129" cy="335" r="4.17"/><circle cx="216" cy="314" r="4.17"/><circle cx="170" cy="145" r="4.17"/><circle cx="219" cy="131" r="4.17"/><circle cx="208" cy="223" r="4.17"/><circle cx="206" cy="250" r="4.17"/><circle cx="182" cy="227" r="4.17"/><circle cx="109" cy="318" r="4.17"/><circle cx="104" cy="338" r="4.17"/><circle cx="260" cy="202" r="4.17"/><circle cx="233" cy="272" r="4.17"/><circle cx="262" cy="160" r="4.17"/><circle cx="157" cy="227" r="4.17"/><circle cx="253" cy="162" r="4.17"/><circle cx="222" cy="249" r="4.17"/><circle cx="352" cy="222" r="4.17"/><circle cx="140" cy="270" r="4.17"/><circle cx="160" cy="356" r="4.17"/><circle cx="294" cy="260" r="4.17"/><circle cx="263" cy="195" r="4.17"/><circle cx="170" cy="258" r="4.17"/><circle cx="235" cy="299" r="4.17"/><circle cx="131" cy="279" r="4.17"/><circle cx="202" cy="256" r="4.17"/><circle cx="143" cy="365" r="4.17"/><circle cx="175" cy="310" r="4.17"/><circle cx="248" cy="332" r="4.17"/><circle cx="266" cy="243" r="4.17"/><circle cx="147" cy="348" r="4.17"/><circle cx="162" cy="394" r="4.17"/><circle cx="203" cy="228" r="4.17"/><circle cx="246" cy="225" r="4.17"/><circle cx="143" cy="355" r="4.17"/><circle cx="203" cy="293" r="4.17"/><circle cx="321" cy="157" r="4.17"/><circle cx="162" cy="179" r="4.17"/><circle cx="145" cy="349" r="4.17"/><circle cx="152" cy="273" r="4.17"/><circle cx="293" cy="249" r="4.17"/><circle cx="268" cy="146" r="4.17"/><circle cx="136" cy="339" r="4.17"/><circle cx="154" cy="258" r="4.17"/><circle cx="149" cy="227" r="4.17"/><circle cx="245" cy="345" r="4.17"/><circle cx="227" cy="49" r="4.17"/><circle cx="568" cy="59" r="4.17"/><circle cx="279" cy="270" r="4.17"/><circle cx="134" cy="263" r="4.17"/><circle cx="329" cy="111" r="4.17"/><circle cx="150" cy="301" r="4.17"/><circle cx="284" cy="273" r="4.17"/><circle cx="196" cy="334" r="4.17"/><circle cx="279" cy="196" r="4.17"/><circle cx="252" cy="289" r="4.17"/><circle cx="264" cy="257" r="4.17"/><circle cx="95" cy="274" r="4.17"/><circle cx="195" cy="353" r="4.17"/><circle cx="214" cy="307" r="4.17"/><circle cx="341" cy="182" r="4.17"/><circle cx="158" cy="331" r="4.17"/><circle cx="105" cy="251" r="4.17"/><circle cx="119" cy="294" r="4.17"/><circle cx="268" cy="154" r="4.17"/><circle cx="157" cy="266" r="4.17"/><circle cx="329" cy="225" r="4.17"/><circle cx="285" cy="189" r="4.17"/><circle cx="112" cy="320" r="4.17"/><circle cx="161" cy="280" r="4.17"/><circle cx="124" cy="335" r="4.17"/><circle cx="224" cy="281" r="4.17"/><circle cx="202" cy="242" r="4.17"/><circle cx="150" cy="147" r="4.17"/><circle cx="198" cy="330" r="4.17"/><circle cx="123" cy="313" r="4.17"/><circle cx="191" cy="259" r="4.17"/><circle cx="187" cy="229" r="4.17"/><circle cx="351" cy="120" r="4.17"/><circle cx="269" cy="164" r="4.17"/><circle cx="202" cy="253" r="4.17"/><circle cx="116" cy="341" r="4.17"/><circle cx="237" cy="161" r="4.17"/><circle cx="302" cy="195" r="4.17"/><circle cx="267" cy="260" r="4.17"/><circle cx="128" cy="332" r="4.17"/><circle cx="160" cy="245" r="4.17"/><circle cx="159" cy="291" r="4.17"/><circle cx="168" cy="278" r="4.17"/><circle cx="184" cy="265" r="4.17"/><circle cx="140" cy="266" r="4.17"/><circle cx="182" cy="296" r="4.17"/><circle cx="246" cy="211" r="4.17"/><circle cx="213" cy="372" r="4.17"/><circle cx="149" cy="270" r="4.17"/><circle cx="236" cy="294" r="4.17"/><circle cx="201" cy="325" r="4.17"/><circle cx="214" cy="269" r="4.17"/><circle cx="225" cy="266" r="4.17"/><circle cx="133" cy="286" r="4.17"/><circle cx="147" cy="303" r="4.17"/><circle cx="284" cy="287" r="4.17"/><circle cx="379" cy="151" r="4.17"/><circle cx="206" cy="239" r="4.17"/><circle cx="178" cy="324" r="4.17"/><circle cx="153" cy="247" r="4.17"/><circle cx="240" cy="149" r="4.17"/><circle cx="171" cy="267" r="4.17"/><circle cx="226" cy="220" r="4.17"/><circle cx="192" cy="234" r="4.17"/><circle cx="301" cy="99" r="4.17"/><circle cx="283" cy="143" r="4.17"/><circle cx="215" cy="109" r="4.17"/><circle cx="129" cy="289" r="4.17"/><circle cx="223" cy="267" r="4.17"/><circle cx="132" cy="350" r="4.17"/><circle cx="183" cy="281" r="4.17"/><circle cx="250" cy="154" r="4.17"/><circle cx="164" cy="350" r="4.17"/><circle cx="283" cy="245" r="4.17"/><circle cx="216" cy="297" r="4.17"/><circle cx="199" cy="257" r="4.17"/><circle cx="212" cy="234" r="4.17"/><circle cx="113" cy="305" r="4.17"/><circle cx="198" cy="282" r="4.17"/><circle cx="166" cy="251" r="4.17"/><circle cx="227" cy="77" r="4.17"/><circle cx="213" cy="217" r="4.17"/><circle cx="277" cy="193" r="4.17"/><circle cx="190" cy="265" r="4.17"/><circle cx="204" cy="304" r="4.17"/><circle cx="335" cy="167" r="4.17"/><circle cx="103" cy="353" r="4.17"/><circle cx="176" cy="306" r="4.17"/><circle cx="145" cy="294" r="4.17"/><circle cx="228" cy="234" r="4.17"/><circle cx="204" cy="284" r="4.17"/><circle cx="143" cy="257" r="4.17"/><circle cx="187" cy="161" r="4.17"/><circle cx="240" cy="238" r="4.17"/><circle cx="257" cy="330" r="4.17"/><circle cx="157" cy="354" r="4.17"/><circle cx="149" cy="367" r="4.17"/><circle cx="204" cy="243" r="4.17"/><circle cx="173" cy="348" r="4.17"/><circle cx="217" cy="175" r="4.17"/><circle cx="131" cy="313" r="4.17"/><circle cx="178" cy="216" r="4.17"/><circle cx="243" cy="297" r="4.17"/><circle cx="111" cy="371" r="4.17"/><circle cx="296" cy="143" r="4.17"/><circle cx="221" cy="333" r="4.17"/><circle cx="335" cy="115" r="4.17"/><circle cx="171" cy="284" r="4.17"/><circle cx="182" cy="273" r="4.17"/><circle cx="191" cy="300" r="4.17"/><circle cx="111" cy="324" r="4.17"/><circle cx="255" cy="218" r="4.17"/><circle cx="211" cy="217" r="4.17"/><circle cx="336" cy="198" r="4.17"/><circle cx="278" cy="302" r="4.17"/><circle cx="207" cy="239" r="4.17"/><circle cx="172" cy="277" r="4.17"/><circle cx="343" cy="275" r="4.17"/><circle cx="154" cy="273" r="4.17"/><circle cx="269" cy="261" r="4.17"/><circle cx="218" cy="213" r="4.17"/><circle cx="164" cy="299" r="4.17"/><circle cx="150" cy="291" r="4.17"/><circle cx="359" cy="190" r="4.17"/><circle cx="133" cy="328" r="4.17"/><circle cx="118" cy="326" r="4.17"/><circle cx="221" cy="272" r="4.17"/><circle cx="289" cy="229" r="4.17"/><circle cx="243" cy="117" r="4.17"/><circle cx="176" cy="283" r="4.17"/><circle cx="358" cy="194" r="4.17"/><circle cx="132" cy="333" r="4.17"/><circle cx="171" cy="182" r="4.17"/><circle cx="82" cy="379" r="4.17"/><circle cx="225" cy="343" r="4.17"/><circle cx="183" cy="336" r="4.17"/><circle cx="272" cy="131" r="4.17"/><circle cx="209" cy="275" r="4.17"/><circle cx="267" cy="205" r="4.17"/><circle cx="228" cy="180" r="4.17"/><circle cx="184" cy="315" r="4.17"/><circle cx="370" cy="181" r="4.17"/><circle cx="136" cy="343" r="4.17"/><circle cx="133" cy="357" r="4.17"/><circle cx="119" cy="332" r="4.17"/><circle cx="149" cy="248" r="4.17"/><circle cx="165" cy="272" r="4.17"/><circle cx="250" cy="194" r="4.17"/><circle cx="190" cy="237" r="4.17"/><circle cx="229" cy="296" r="4.17"/><circle cx="144" cy="304" r="4.17"/><circle cx="274" cy="296" r="4.17"/><circle cx="176" cy="277" r="4.17"/><circle cx="218" cy="256" r="4.17"/><circle cx="348" cy="227" r="4.17"/><circle cx="131" cy="360" r="4.17"/><circle cx="165" cy="265" r="4.17"/><circle cx="293" cy="236" r="4.17"/><circle cx="276" cy="176" r="4.17"/><circle cx="173" cy="330" r="4.17"/><circle cx="345" cy="49" r="4.17"/><circle cx="113" cy="300" r="4.17"/><circle cx="229" cy="252" r="4.17"/><circle cx="243" cy="247" r="4.17"/><circle cx="138" cy="273" r="4.17"/><circle cx="177" cy="156" r="4.17"/><circle cx="133" cy="370" r="4.17"/><circle cx="216" cy="127" r="4.17"/><circle cx="257" cy="257" r="4.17"/><circle cx="128" cy="375" r="4.17"/><circle cx="156" cy="136" r="4.17"/><circle cx="178" cy="313" r="4.17"/><circle cx="193" cy="294" r="4.17"/><circle cx="196" cy="282" r="4.17"/><circle cx="183" cy="274" r="4.17"/><circle cx="263" cy="244" r="4.17"/><circle cx="170" cy="226" r="4.17"/><circle cx="258" cy="180" r="4.17"/><circle cx="129" cy="363" r="4.17"/><circle cx="128" cy="329" r="4.17"/><circle cx="220" cy="252" r="4.17"/><circle cx="151" cy="309" r="4.17"/><circle cx="193" cy="223" r="4.17"/><circle cx="164" cy="280" r="4.17"/><circle cx="251" cy="266" r="4.17"/><circle cx="172" cy="246" r="4.17"/><circle cx="194" cy="100" r="4.17"/><circle cx="318" cy="212" r="4.17"/><circle cx="150" cy="361" r="4.17"/><circle cx="428" cy="116" r="4.17"/><circle cx="154" cy="173" r="4.17"/><circle cx="162" cy="320" r="4.17"/><circle cx="170" cy="359" r="4.17"/><circle cx="122" cy="294" r="4.17"/><circle cx="94" cy="368" r="4.17"/><circle cx="137" cy="288" r="4.17"/><circle cx="236" cy="309" r="4.17"/><circle cx="133" cy="272" r="4.17"/><circle cx="114" cy="353" r="4.17"/><circle cx="336" cy="135" r="4.17"/><circle cx="128" cy="364" r="4.17"/><circle cx="279" cy="282" r="4.17"/><circle cx="96" cy="356" r="4.17"/><circle cx="192" cy="196" r="4.17"/><circle cx="135" cy="367" r="4.17"/><circle cx="156" cy="338" r="4.17"/><circle cx="147" cy="318" r="4.17"/><circle cx="114" cy="337" r="4.17"/><circle cx="174" cy="354" r="4.17"/><circle cx="127" cy="278" r="4.17"/><circle cx="141" cy="332" r="4.17"/><circle cx="499" cy="49" r="4.17"/><circle cx="211" cy="211" r="4.17"/><circle cx="258" cy="214" r="4.17"/><circle cx="164" cy="170" r="4.17"/><circle cx="238" cy="324" r="4.17"/><circle cx="326" cy="243" r="4.17"/><circle cx="131" cy="347" r="4.17"/><circle cx="221" cy="295" r="4.17"/><circle cx="138" cy="356" r="4.17"/><circle cx="241" cy="202" r="4.17"/><circle cx="197" cy="249" r="4.17"/><circle cx="149" cy="344" r="4.17"/><circle cx="254" cy="273" r="4.17"/><circle cx="238" cy="167" r="4.17"/><circle cx="199" cy="338" r="4.17"/><circle cx="239" cy="241" r="4.17"/><circle cx="268" cy="272" r="4.17"/><circle cx="225" cy="195" r="4.17"/><circle cx="315" cy="207" r="4.17"/><circle cx="109" cy="304" r="4.17"/><circle cx="156" cy="321" r="4.17"/><circle cx="142" cy="235" r="4.17"/><circle cx="151" cy="322" r="4.17"/><circle cx="122" cy="276" r="4.17"/><circle cx="332" cy="183" r="4.17"/><circle cx="162" cy="232" r="4.17"/><circle cx="195" cy="310" r="4.17"/><circle cx="176" cy="93" r="4.17"/><circle cx="159" cy="275" r="4.17"/><circle cx="226" cy="154" r="4.17"/><circle cx="165" cy="246" r="4.17"/><circle cx="202" cy="311" r="4.17"/><circle cx="133" cy="305" r="4.17"/><circle cx="255" cy="148" r="4.17"/><circle cx="129" cy="298" r="4.17"/><circle cx="364" cy="162" r="4.17"/><circle cx="253" cy="289" r="4.17"/><circle cx="145" cy="240" r="4.17"/><circle cx="124" cy="374" r="4.17"/><circle cx="211" cy="329" r="4.17"/><circle cx="174" cy="233" r="4.17"/><circle cx="170" cy="268" r="4.17"/><circle cx="128" cy="376" r="4.17"/><circle cx="261" cy="195" r="4.17"/><circle cx="257" cy="155" r="4.17"/><circle cx="226" cy="237" r="4.17"/><circle cx="107" cy="354" r="4.17"/><circle cx="138" cy="368" r="4.17"/><circle cx="247" cy="235" r="4.17"/><circle cx="197" cy="250" r="4.17"/><circle cx="246" cy="227" r="4.17"/><circle cx="131" cy="291" r="4.17"/><circle cx="305" cy="181" r="4.17"/><circle cx="254" cy="183" r="4.17"/><circle cx="234" cy="308" r="4.17"/><circle cx="140" cy="297" r="4.17"/><circle cx="132" cy="374" r="4.17"/><circle cx="236" cy="224" r="4.17"/><circle cx="235" cy="256" r="4.17"/><circle cx="309" cy="232" r="4.17"/><circle cx="174" cy="208" r="4.17"/><circle cx="208" cy="244" r="4.17"/><circle cx="171" cy="376" r="4.17"/><circle cx="271" cy="147" r="4.17"/><circle cx="132" cy="258" r="4.17"/><circle cx="179" cy="239" r="4.17"/><circle cx="373" cy="84" r="4.17"/><circle cx="252" cy="224" r="4.17"/><circle cx="306" cy="122" r="4.17"/><circle cx="247" cy="255" r="4.17"/><circle cx="148" cy="310" r="4.17"/><circle cx="230" cy="253" r="4.17"/><circle cx="142" cy="345" r="4.17"/><circle cx="275" cy="254" r="4.17"/><circle cx="237" cy="323" r="4.17"/><circle cx="337" cy="87" r="4.17"/><circle cx="103" cy="376" r="4.17"/><circle cx="197" cy="331" r="4.17"/><circle cx="160" cy="352" r="4.17"/><circle cx="194" cy="317" r="4.17"/><circle cx="146" cy="292" r="4.17"/><circle cx="192" cy="282" r="4.17"/><circle cx="217" cy="307" r="4.17"/><circle cx="167" cy="295" r="4.17"/><circle cx="215" cy="239" r="4.17"/><circle cx="242" cy="166" r="4.17"/><circle cx="193" cy="231" r="4.17"/><circle cx="178" cy="222" r="4.17"/><circle cx="135" cy="298" r="4.17"/><circle cx="212" cy="287" r="4.17"/><circle cx="124" cy="347" r="4.17"/><circle cx="211" cy="252" r="4.17"/><circle cx="259" cy="229" r="4.17"/><circle cx="135" cy="294" r="4.17"/><circle cx="198" cy="320" r="4.17"/><circle cx="191" cy="317" r="4.17"/><circle cx="116" cy="250" r="4.17"/><circle cx="169" cy="351" r="4.17"/><circle cx="277" cy="168" r="4.17"/><circle cx="189" cy="311" r="4.17"/><circle cx="193" cy="296" r="4.17"/><circle cx="210" cy="343" r="4.17"/><circle cx="227" cy="223" r="4.17"/><circle cx="209" cy="205" r="4.17"/><circle cx="361" cy="78" r="4.17"/><circle cx="168" cy="310" r="4.17"/><circle cx="148" cy="313" r="4.17"/><circle cx="134" cy="324" r="4.17"/><circle cx="167" cy="267" r="4.17"/><circle cx="131" cy="375" r="4.17"/><circle cx="281" cy="231" r="4.17"/><circle cx="153" cy="309" r="4.17"/><circle cx="330" cy="134" r="4.17"/><circle cx="210" cy="302" r="4.17"/><circle cx="287" cy="218" r="4.17"/><circle cx="243" cy="290" r="4.17"/><circle cx="235" cy="284" r="4.17"/><circle cx="218" cy="291" r="4.17"/><circle cx="114" cy="365" r="4.17"/><circle cx="297" cy="128" r="4.17"/><circle cx="201" cy="260" r="4.17"/><circle cx="125" cy="293" r="4.17"/><circle cx="134" cy="237" r="4.17"/><circle cx="260" cy="210" r="4.17"/><circle cx="185" cy="220" r="4.17"/><circle cx="155" cy="241" r="4.17"/><circle cx="302" cy="172" r="4.17"/><circle cx="235" cy="209" r="4.17"/><circle cx="155" cy="332" r="4.17"/><circle cx="178" cy="333" r="4.17"/><circle cx="226" cy="226" r="4.17"/><circle cx="205" cy="211" r="4.17"/><circle cx="170" cy="313" r="4.17"/><circle cx="188" cy="224" r="4.17"/><circle cx="107" cy="358" r="4.17"/><circle cx="144" cy="293" r="4.17"/><circle cx="151" cy="335" r="4.17"/><circle cx="208" cy="63" r="4.17"/>
<circle cx="146" cy="322" r="4.17"/><circle cx="144" cy="338" r="4.17"/><circle cx="146" cy="339" r="4.17"/><circle cx="167" cy="363" r="4.17"/><circle cx="284" cy="253" r="4.17"/><circle cx="316" cy="96" r="4.17"/><circle cx="178" cy="329" r="4.17"/><circle cx="151" cy="264" r="4.17"/><circle cx="131" cy="322" r="4.17"/><circle cx="220" cy="223" r="4.17"/><circle cx="192" cy="273" r="4.17"/><circle cx="130" cy="329" r="4.17"/><circle cx="173" cy="274" r="4.17"/><circle cx="137" cy="251" r="4.17"/><circle cx="88" cy="305" r="4.17"/><circle cx="353" cy="73" r="4.17"/><circle cx="145" cy="364" r="4.17"/><circle cx="228" cy="247" r="4.17"/><circle cx="169" cy="270" r="4.17"/><circle cx="198" cy="303" r="4.17"/><circle cx="202" cy="347" r="4.17"/><circle cx="272" cy="213" r="4.17"/><circle cx="154" cy="370" r="4.17"/><circle cx="430" cy="157" r="4.17"/><circle cx="203" cy="303" r="4.17"/><circle cx="263" cy="246" r="4.17"/><circle cx="254" cy="231" r="4.17"/><circle cx="182" cy="197" r="4.17"/><circle cx="254" cy="219" r="4.17"/><circle cx="221" cy="236" r="4.17"/><circle cx="111" cy="265" r="4.17"/><circle cx="236" cy="217" r="4.17"/><circle cx="203" cy="233" r="4.17"/><circle cx="244" cy="253" r="4.17"/><circle cx="323" cy="156" r="4.17"/><circle cx="201" cy="289" r="4.17"/><circle cx="187" cy="271" r="4.17"/><circle cx="163" cy="335" r="4.17"/><circle cx="149" cy="279" r="4.17"/><circle cx="177" cy="363" r="4.17"/><circle cx="144" cy="270" r="4.17"/><circle cx="263" cy="274" r="4.17"/><circle cx="202" cy="354" r="4.17"/><circle cx="161" cy="220" r="4.17"/><circle cx="132" cy="334" r="4.17"/><circle cx="254" cy="227" r="4.17"/><circle cx="122" cy="321" r="4.17"/><circle cx="223" cy="310" r="4.17"/><circle cx="194" cy="326" r="4.17"/><circle cx="328" cy="211" r="4.17"/><circle cx="306" cy="164" r="4.17"/><circle cx="164" cy="316" r="4.17"/><circle cx="329" cy="234" r="4.17"/><circle cx="96" cy="377" r="4.17"/><circle cx="121" cy="258" r="4.17"/><circle cx="139" cy="356" r="4.17"/><circle cx="134" cy="226" r="4.17"/><circle cx="168" cy="320" r="4.17"/><circle cx="124" cy="321" r="4.17"/><circle cx="188" cy="275" r="4.17"/><circle cx="195" cy="248" r="4.17"/><circle cx="137" cy="313" r="4.17"/><circle cx="262" cy="117" r="4.17"/><circle cx="159" cy="240" r="4.17"/><circle cx="171" cy="307" r="4.17"/><circle cx="178" cy="334" r="4.17"/><circle cx="155" cy="304" r="4.17"/><circle cx="234" cy="298" r="4.17"/><circle cx="104" cy="351" r="4.17"/><circle cx="124" cy="370" r="4.17"/><circle cx="170" cy="341" r="4.17"/><circle cx="269" cy="287" r="4.17"/><circle cx="202" cy="304" r="4.17"/><circle cx="209" cy="275" r="4.17"/><circle cx="208" cy="143" r="4.17"/><circle cx="167" cy="351" r="4.17"/><circle cx="192" cy="290" r="4.17"/><circle cx="324" cy="161" r="4.17"/><circle cx="234" cy="251" r="4.17"/><circle cx="257" cy="305" r="4.17"/><circle cx="229" cy="222" r="4.17"/><circle cx="216" cy="49" r="4.17"/><circle cx="185" cy="231" r="4.17"/><circle cx="99" cy="356" r="4.17"/><circle cx="125" cy="298" r="4.17"/><circle cx="265" cy="204" r="4.17"/><circle cx="146" cy="374" r="4.17"/><circle cx="286" cy="286" r="4.17"/><circle cx="387" cy="107" r="4.17"/><circle cx="438" cy="109" r="4.17"/><circle cx="225" cy="285" r="4.17"/><circle cx="214" cy="186" r="4.17"/><circle cx="218" cy="274" r="4.17"/><circle cx="221" cy="266" r="4.17"/><circle cx="220" cy="287" r="4.17"/><circle cx="217" cy="284" r="4.17"/><circle cx="246" cy="240" r="4.17"/><circle cx="201" cy="214" r="4.17"/><circle cx="332" cy="157" r="4.17"/><circle cx="354" cy="148" r="4.17"/><circle cx="188" cy="307" r="4.17"/><circle cx="264" cy="247" r="4.17"/><circle cx="168" cy="206" r="4.17"/><circle cx="123" cy="211" r="4.17"/><circle cx="154" cy="324" r="4.17"/><circle cx="220" cy="157" r="4.17"/><circle cx="180" cy="303" r="4.17"/><circle cx="240" cy="278" r="4.17"/><circle cx="123" cy="368" r="4.17"/><circle cx="304" cy="149" r="4.17"/><circle cx="171" cy="337" r="4.17"/><circle cx="146" cy="259" r="4.17"/><circle cx="166" cy="299" r="4.17"/><circle cx="153" cy="226" r="4.17"/><circle cx="189" cy="171" r="4.17"/><circle cx="163" cy="287" r="4.17"/><circle cx="640" cy="49" r="4.17"/><circle cx="192" cy="203" r="4.17"/><circle cx="266" cy="138" r="4.17"/><circle cx="230" cy="275" r="4.17"/><circle cx="236" cy="62" r="4.17"/><circle cx="131" cy="270" r="4.17"/><circle cx="213" cy="275" r="4.17"/><circle cx="179" cy="268" r="4.17"/><circle cx="214" cy="279" r="4.17"/><circle cx="216" cy="213" r="4.17"/><circle cx="240" cy="167" r="4.17"/><circle cx="188" cy="338" r="4.17"/><circle cx="236" cy="231" r="4.17"/><circle cx="177" cy="307" r="4.17"/><circle cx="123" cy="323" r="4.17"/><circle cx="131" cy="49" r="4.17"/><circle cx="208" cy="209" r="4.17"/><circle cx="171" cy="200" r="4.17"/><circle cx="163" cy="282" r="4.17"/><circle cx="163" cy="345" r="4.17"/><circle cx="311" cy="232" r="4.17"/><circle cx="116" cy="335" r="4.17"/><circle cx="221" cy="204" r="4.17"/><circle cx="155" cy="296" r="4.17"/><circle cx="131" cy="267" r="4.17"/><circle cx="251" cy="162" r="4.17"/><circle cx="133" cy="246" r="4.17"/><circle cx="242" cy="156" r="4.17"/><circle cx="255" cy="281" r="4.17"/><circle cx="152" cy="343" r="4.17"/><circle cx="226" cy="308" r="4.17"/><circle cx="155" cy="346" r="4.17"/><circle cx="195" cy="297" r="4.17"/><circle cx="167" cy="332" r="4.17"/><circle cx="146" cy="313" r="4.17"/><circle cx="129" cy="234" r="4.17"/><circle cx="227" cy="256" r="4.17"/><circle cx="163" cy="308" r="4.17"/><circle cx="412" cy="69" r="4.17"/><circle cx="227" cy="159" r="4.17"/><circle cx="222" cy="69" r="4.17"/><circle cx="147" cy="274" r="4.17"/><circle cx="279" cy="197" r="4.17"/><circle cx="505" cy="49" r="4.17"/><circle cx="164" cy="360" r="4.17"/><circle cx="307" cy="258" r="4.17"/><circle cx="184" cy="355" r="4.17"/><circle cx="216" cy="303" r="4.17"/><circle cx="149" cy="301" r="4.17"/><circle cx="137" cy="368" r="4.17"/><circle cx="177" cy="336" r="4.17"/><circle cx="214" cy="163" r="4.17"/><circle cx="243" cy="265" r="4.17"/><circle cx="115" cy="323" r="4.17"/><circle cx="213" cy="251" r="4.17"/><circle cx="194" cy="251" r="4.17"/><circle cx="135" cy="212" r="4.17"/><circle cx="173" cy="298" r="4.17"/><circle cx="266" cy="222" r="4.17"/><circle cx="194" cy="98" r="4.17"/><circle cx="190" cy="210" r="4.17"/><circle cx="180" cy="258" r="4.17"/><circle cx="202" cy="243" r="4.17"/><circle cx="238" cy="235" r="4.17"/><circle cx="162" cy="242" r="4.17"/><circle cx="150" cy="199" r="4.17"/><circle cx="200" cy="318" r="4.17"/><circle cx="212" cy="88" r="4.17"/><circle cx="192" cy="278" r="4.17"/><circle cx="299" cy="284" r="4.17"/><circle cx="287" cy="196" r="4.17"/><circle cx="149" cy="312" r="4.17"/><circle cx="125" cy="310" r="4.17"/><circle cx="177" cy="316" r="4.17"/><circle cx="141" cy="304" r="4.17"/><circle cx="211" cy="209" r="4.17"/><circle cx="188" cy="276" r="4.17"/><circle cx="158" cy="278" r="4.17"/><circle cx="190" cy="270" r="4.17"/><circle cx="214" cy="329" r="4.17"/><circle cx="169" cy="241" r="4.17"/><circle cx="144" cy="307" r="4.17"/><circle cx="217" cy="137" r="4.17"/><circle cx="271" cy="275" r="4.17"/><circle cx="158" cy="351" r="4.17"/><circle cx="164" cy="317" r="4.17"/><circle cx="174" cy="318" r="4.17"/><circle cx="228" cy="189" r="4.17"/><circle cx="168" cy="320" r="4.17"/><circle cx="287" cy="157" r="4.17"/><circle cx="168" cy="337" r="4.17"/><circle cx="249" cy="94" r="4.17"/><circle cx="170" cy="244" r="4.17"/><circle cx="181" cy="263" r="4.17"/><circle cx="228" cy="165" r="4.17"/><circle cx="260" cy="172" r="4.17"/><circle cx="303" cy="166" r="4.17"/><circle cx="146" cy="334" r="4.17"/><circle cx="122" cy="346" r="4.17"/><circle cx="307" cy="211" r="4.17"/><circle cx="246" cy="137" r="4.17"/><circle cx="157" cy="339" r="4.17"/><circle cx="137" cy="303" r="4.17"/><circle cx="214" cy="269" r="4.17"/><circle cx="204" cy="215" r="4.17"/><circle cx="147" cy="325" r="4.17"/><circle cx="98" cy="345" r="4.17"/><circle cx="207" cy="173" r="4.17"/><circle cx="143" cy="295" r="4.17"/><circle cx="133" cy="358" r="4.17"/><circle cx="223" cy="243" r="4.17"/><circle cx="170" cy="157" r="4.17"/><circle cx="138" cy="352" r="4.17"/><circle cx="122" cy="330" r="4.17"/><circle cx="196" cy="313" r="4.17"/><circle cx="204" cy="240" r="4.17"/><circle cx="204" cy="210" r="4.17"/><circle cx="148" cy="292" r="4.17"/><circle cx="196" cy="295" r="4.17"/><circle cx="240" cy="228" r="4.17"/><circle cx="93" cy="367" r="4.17"/><circle cx="180" cy="344" r="4.17"/><circle cx="139" cy="287" r="4.17"/><circle cx="182" cy="347" r="4.17"/><circle cx="134" cy="335" r="4.17"/><circle cx="183" cy="328" r="4.17"/><circle cx="202" cy="359" r="4.17"/><circle cx="217" cy="251" r="4.17"/><circle cx="171" cy="262" r="4.17"/><circle cx="114" cy="362" r="4.17"/><circle cx="196" cy="227" r="4.17"/><circle cx="297" cy="216" r="4.17"/><circle cx="254" cy="303" r="4.17"/><circle cx="469" cy="49" r="4.17"/><circle cx="210" cy="242" r="4.17"/><circle cx="300" cy="236" r="4.17"/><circle cx="136" cy="157" r="4.17"/><circle cx="128" cy="316" r="4.17"/><circle cx="183" cy="301" r="4.17"/><circle cx="210" cy="325" r="4.17"/><circle cx="139" cy="338" r="4.17"/><circle cx="147" cy="356" r="4.17"/><circle cx="286" cy="183" r="4.17"/><circle cx="213" cy="268" r="4.17"/><circle cx="144" cy="263" r="4.17"/><circle cx="178" cy="255" r="4.17"/><circle cx="169" cy="334" r="4.17"/><circle cx="219" cy="277" r="4.17"/><circle cx="191" cy="297" r="4.17"/><circle cx="467" cy="61" r="4.17"/><circle cx="139" cy="310" r="4.17"/><circle cx="215" cy="307" r="4.17"/><circle cx="136" cy="314" r="4.17"/><circle cx="182" cy="236" r="4.17"/><circle cx="94" cy="362" r="4.17"/><circle cx="218" cy="304" r="4.17"/><circle cx="174" cy="315" r="4.17"/><circle cx="123" cy="340" r="4.17"/><circle cx="164" cy="208" r="4.17"/><circle cx="160" cy="280" r="4.17"/><circle cx="146" cy="357" r="4.17"/><circle cx="258" cy="305" r="4.17"/><circle cx="174" cy="296" r="4.17"/><circle cx="142" cy="321" r="4.17"/><circle cx="235" cy="200" r="4.17"/><circle cx="154" cy="285" r="4.17"/><circle cx="215" cy="315" r="4.17"/><circle cx="232" cy="246" r="4.17"/><circle cx="119" cy="338" r="4.17"/><circle cx="89" cy="329" r="4.17"/><circle cx="289" cy="118" r="4.17"/><circle cx="220" cy="243" r="4.17"/><circle cx="405" cy="256" r="4.17"/><circle cx="186" cy="263" r="4.17"/><circle cx="111" cy="332" r="4.17"/><circle cx="207" cy="274" r="4.17"/><circle cx="228" cy="214" r="4.17"/><circle cx="164" cy="292" r="4.17"/><circle cx="130" cy="271" r="4.17"/><circle cx="184" cy="324" r="4.17"/><circle cx="125" cy="284" r="4.17"/><circle cx="256" cy="319" r="4.17"/><circle cx="250" cy="102" r="4.17"/><circle cx="276" cy="143" r="4.17"/><circle cx="167" cy="288" r="4.17"/><circle cx="212" cy="224" r="4.17"/><circle cx="201" cy="208" r="4.17"/><circle cx="189" cy="267" r="4.17"/><circle cx="243" cy="224" r="4.17"/><circle cx="262" cy="90" r="4.17"/><circle cx="156" cy="325" r="4.17"/><circle cx="208" cy="271" r="4.17"/><circle cx="151" cy="274" r="4.17"/><circle cx="248" cy="272" r="4.17"/><circle cx="169" cy="304" r="4.17"/><circle cx="190" cy="238" r="4.17"/><circle cx="187" cy="254" r="4.17"/><circle cx="134" cy="319" r="4.17"/><circle cx="145" cy="322" r="4.17"/><circle cx="156" cy="310" r="4.17"/><circle cx="145" cy="282" r="4.17"/><circle cx="209" cy="231" r="4.17"/><circle cx="166" cy="302" r="4.17"/><circle cx="234" cy="330" r="4.17"/><circle cx="173" cy="49" r="4.17"/><circle cx="167" cy="298" r="4.17"/><circle cx="215" cy="323" r="4.17"/><circle cx="210" cy="240" r="4.17"/><circle cx="208" cy="273" r="4.17"/><circle cx="159" cy="343" r="4.17"/><circle cx="168" cy="190" r="4.17"/><circle cx="183" cy="320" r="4.17"/><circle cx="161" cy="330" r="4.17"/><circle cx="239" cy="186" r="4.17"/><circle cx="221" cy="342" r="4.17"/><circle cx="229" cy="256" r="4.17"/><circle cx="463" cy="130" r="4.17"/><circle cx="203" cy="279" r="4.17"/><circle cx="258" cy="233" r="4.17"/><circle cx="272" cy="267" r="4.17"/><circle cx="166" cy="316" r="4.17"/><circle cx="150" cy="285" r="4.17"/><circle cx="166" cy="325" r="4.17"/><circle cx="129" cy="361" r="4.17"/><circle cx="161" cy="177" r="4.17"/><circle cx="204" cy="203" r="4.17"/><circle cx="269" cy="318" r="4.17"/><circle cx="183" cy="236" r="4.17"/><circle cx="183" cy="275" r="4.17"/><circle cx="326" cy="211" r="4.17"/><circle cx="200" cy="271" r="4.17"/><circle cx="161" cy="358" r="4.17"/><circle cx="288" cy="235" r="4.17"/><circle cx="132" cy="328" r="4.17"/><circle cx="132" cy="359" r="4.17"/><circle cx="224" cy="237" r="4.17"/><circle cx="141" cy="291" r="4.17"/><circle cx="189" cy="180" r="4.17"/><circle cx="140" cy="345" r="4.17"/><circle cx="301" cy="129" r="4.17"/><circle cx="257" cy="179" r="4.17"/><circle cx="213" cy="246" r="4.17"/><circle cx="126" cy="307" r="4.17"/><circle cx="235" cy="307" r="4.17"/><circle cx="150" cy="197" r="4.17"/><circle cx="358" cy="135" r="4.17"/><circle cx="136" cy="342" r="4.17"/><circle cx="204" cy="319" r="4.17"/><circle cx="318" cy="159" r="4.17"/><circle cx="238" cy="305" r="4.17"/><circle cx="203" cy="314" r="4.17"/><circle cx="256" cy="130" r="4.17"/><circle cx="220" cy="205" r="4.17"/><circle cx="152" cy="315" r="4.17"/><circle cx="267" cy="260" r="4.17"/><circle cx="236" cy="87" r="4.17"/><circle cx="216" cy="257" r="4.17"/><circle cx="316" cy="184" r="4.17"/><circle cx="122" cy="358" r="4.17"/><circle cx="149" cy="267" r="4.17"/><circle cx="171" cy="290" r="4.17"/><circle cx="183" cy="317" r="4.17"/><circle cx="198" cy="187" r="4.17"/><circle cx="158" cy="316" r="4.17"/><circle cx="106" cy="345" r="4.17"/><circle cx="218" cy="252" r="4.17"/><circle cx="185" cy="333" r="4.17"/><circle cx="161" cy="294" r="4.17"/><circle cx="309" cy="169" r="4.17"/><circle cx="120" cy="365" r="4.17"/><circle cx="204" cy="221" r="4.17"/><circle cx="340" cy="49" r="4.17"/><circle cx="326" cy="107" r="4.17"/><circle cx="285" cy="144" r="4.17"/><circle cx="234" cy="279" r="4.17"/><circle cx="224" cy="298" r="4.17"/><circle cx="138" cy="357" r="4.17"/><circle cx="203" cy="271" r="4.17"/><circle cx="213" cy="254" r="4.17"/><circle cx="207" cy="116" r="4.17"/><circle cx="237" cy="201" r="4.17"/><circle cx="245" cy="203" r="4.17"/><circle cx="179" cy="294" r="4.17"/><circle cx="244" cy="327" r="4.17"/><circle cx="313" cy="275" r="4.17"/><circle cx="188" cy="248" r="4.17"/><circle cx="268" cy="281" r="4.17"/><circle cx="288" cy="172" r="4.17"/><circle cx="179" cy="311" r="4.17"/><circle cx="151" cy="262" r="4.17"/><circle cx="190" cy="240" r="4.17"/><circle cx="265" cy="297" r="4.17"/><circle cx="366" cy="127" r="4.17"/><circle cx="199" cy="274" r="4.17"/><circle cx="296" cy="203" r="4.17"/><circle cx="121" cy="339" r="4.17"/><circle cx="119" cy="324" r="4.17"/><circle cx="173" cy="357" r="4.17"/><circle cx="146" cy="285" r="4.17"/><circle cx="238" cy="60" r="4.17"/><circle cx="232" cy="295" r="4.17"/><circle cx="291" cy="233" r="4.17"/><circle cx="109" cy="316" r="4.17"/><circle cx="214" cy="315" r="4.17"/><circle cx="162" cy="337" r="4.17"/><circle cx="170" cy="117" r="4.17"/><circle cx="154" cy="315" r="4.17"/><circle cx="173" cy="288" r="4.17"/><circle cx="156" cy="342" r="4.17"/><circle cx="240" cy="270" r="4.17"/><circle cx="368" cy="115" r="4.17"/><circle cx="184" cy="362" r="4.17"/><circle cx="156" cy="366" r="4.17"/><circle cx="190" cy="286" r="4.17"/><circle cx="180" cy="310" r="4.17"/><circle cx="136" cy="348" r="4.17"/><circle cx="276" cy="243" r="4.17"/><circle cx="205" cy="344" r="4.17"/><circle cx="232" cy="230" r="4.17"/><circle cx="236" cy="211" r="4.17"/><circle cx="201" cy="264" r="4.17"/><circle cx="210" cy="331" r="4.17"/><circle cx="206" cy="274" r="4.17"/><circle cx="239" cy="291" r="4.17"/><circle cx="326" cy="223" r="4.17"/><circle cx="288" cy="226" r="4.17"/><circle cx="148" cy="365" r="4.17"/><circle cx="222" cy="257" r="4.17"/><circle cx="188" cy="300" r="4.17"/><circle cx="183" cy="158" r="4.17"/><circle cx="119" cy="351" r="4.17"/><circle cx="345" cy="175" r="4.17"/><circle cx="120" cy="348" r="4.17"/><circle cx="237" cy="210" r="4.17"/><circle cx="173" cy="300" r="4.17"/><circle cx="154" cy="350" r="4.17"/><circle cx="491" cy="49" r="4.17"/><circle cx="275" cy="162" r="4.17"/><circle cx="175" cy="211" r="4.17"/><circle cx="168" cy="337" r="4.17"/><circle cx="131" cy="361" r="4.17"/><circle cx="191" cy="261" r="4.17"/><circle cx="285" cy="145" r="4.17"/><circle cx="131" cy="276" r="4.17"/><circle cx="273" cy="143" r="4.17"/><circle cx="239" cy="276" r="4.17"/><circle cx="184" cy="292" r="4.17"/><circle cx="159" cy="326" r="4.17"/><circle cx="301" cy="187" r="4.17"/><circle cx="252" cy="135" r="4.17"/><circle cx="254" cy="236" r="4.17"/><circle cx="215" cy="197" r="4.17"/><circle cx="274" cy="243" r="4.17"/><circle cx="245" cy="205" r="4.17"/><circle cx="252" cy="324" r="4.17"/><circle cx="169" cy="344" r="4.17"/><circle cx="217" cy="276" r="4.17"/><circle cx="144" cy="315" r="4.17"/><circle cx="166" cy="221" r="4.17"/><circle cx="200" cy="265" r="4.17"/><circle cx="95" cy="348" r="4.17"/><circle cx="117" cy="347" r="4.17"/><circle cx="149" cy="337" r="4.17"/><circle cx="145" cy="314" r="4.17"/><circle cx="206" cy="260" r="4.17"/><circle cx="202" cy="263" r="4.17"/><circle cx="241" cy="287" r="4.17"/><circle cx="210" cy="287" r="4.17"/><circle cx="184" cy="315" r="4.17"/><circle cx="141" cy="350" r="4.17"/><circle cx="219" cy="115" r="4.17"/><circle cx="241" cy="300" r="4.17"/><circle cx="231" cy="179" r="4.17"/><circle cx="263" cy="285" r="4.17"/><circle cx="144" cy="272" r="4.17"/><circle cx="235" cy="196" r="4.17"/><circle cx="128" cy="323" r="4.17"/><circle cx="83" cy="371" r="4.17"/><circle cx="180" cy="286" r="4.17"/><circle cx="263" cy="218" r="4.17"/><circle cx="140" cy="341" r="4.17"/><circle cx="217" cy="286" r="4.17"/><circle cx="307" cy="230" r="4.17"/><circle cx="141" cy="330" r="4.17"/><circle cx="171" cy="340" r="4.17"/><circle cx="182" cy="143" r="4.17"/><circle cx="157" cy="301" r="4.17"/><circle cx="181" cy="237" r="4.17"/><circle cx="206" cy="265" r="4.17"/><circle cx="133" cy="255" r="4.17"/><circle cx="315" cy="180" r="4.17"/><circle cx="123" cy="371" r="4.17"/><circle cx="103" cy="296" r="4.17"/><circle cx="205" cy="251" r="4.17"/><circle cx="175" cy="328" r="4.17"/><circle cx="358" cy="87" r="4.17"/><circle cx="230" cy="198" r="4.17"/><circle cx="235" cy="361" r="4.17"/><circle cx="129" cy="377" r="4.17"/><circle cx="145" cy="347" r="4.17"/><circle cx="191" cy="288" r="4.17"/><circle cx="191" cy="183" r="4.17"/><circle cx="246" cy="268" r="4.17"/><circle cx="136" cy="345" r="4.17"/><circle cx="156" cy="312" r="4.17"/><circle cx="327" cy="207" r="4.17"/><circle cx="137" cy="317" r="4.17"/><circle cx="291" cy="182" r="4.17"/><circle cx="221" cy="238" r="4.17"/><circle cx="219" cy="288" r="4.17"/><circle cx="212" cy="266" r="4.17"/><circle cx="157" cy="348" r="4.17"/><circle cx="188" cy="245" r="4.17"/><circle cx="346" cy="120" r="4.17"/><circle cx="246" cy="263" r="4.17"/><circle cx="194" cy="275" r="4.17"/><circle cx="244" cy="76" r="4.17"/><circle cx="213" cy="245" r="4.17"/><circle cx="250" cy="261" r="4.17"/><circle cx="121" cy="353" r="4.17"/><circle cx="161" cy="324" r="4.17"/><circle cx="129" cy="387" r="4.17"/><circle cx="251" cy="218" r="4.17"/><circle cx="204" cy="242" r="4.17"/><circle cx="299" cy="115" r="4.17"/><circle cx="288" cy="115" r="4.17"/><circle cx="185" cy="320" r="4.17"/><circle cx="222" cy="212" r="4.17"/><circle cx="218" cy="231" r="4.17"/><circle cx="191" cy="211" r="4.17"/><circle cx="170" cy="301" r="4.17"/><circle cx="182" cy="301" r="4.17"/><circle cx="250" cy="277" r="4.17"/><circle cx="237" cy="306" r="4.17"/><circle cx="283" cy="267" r="4.17"/><circle cx="221" cy="283" r="4.17"/><circle cx="220" cy="247" r="4.17"/><circle cx="124" cy="225" r="4.17"/><circle cx="179" cy="260" r="4.17"/><circle cx="243" cy="297" r="4.17"/><circle cx="120" cy="345" r="4.17"/><circle cx="84" cy="319" r="4.17"/><circle cx="226" cy="208" r="4.17"/><circle cx="306" cy="248" r="4.17"/><circle cx="179" cy="262" r="4.17"/><circle cx="147" cy="301" r="4.17"/><circle cx="121" cy="334" r="4.17"/><circle cx="148" cy="330" r="4.17"/><circle cx="82" cy="359" r="4.17"/><circle cx="168" cy="266" r="4.17"/><circle cx="138" cy="316" r="4.17"/><circle cx="156" cy="263" r="4.17"/><circle cx="239" cy="131" r="4.17"/><circle cx="286" cy="233" r="4.17"/><circle cx="290" cy="76" r="4.17"/><circle cx="169" cy="322" r="4.17"/><circle cx="200" cy="259" r="4.17"/><circle cx="131" cy="358" r="4.17"/><circle cx="191" cy="358" r="4.17"/><circle cx="171" cy="278" r="4.17"/><circle cx="149" cy="340" r="4.17"/><circle cx="221" cy="306" r="4.17"/><circle cx="272" cy="244" r="4.17"/><circle cx="122" cy="308" r="4.17"/><circle cx="196" cy="316" r="4.17"/><circle cx="301" cy="165" r="4.17"/><circle cx="222" cy="210" r="4.17"/><circle cx="331" cy="148" r="4.17"/><circle cx="220" cy="324" r="4.17"/><circle cx="189" cy="282" r="4.17"/><circle cx="196" cy="362" r="4.17"/><circle cx="215" cy="241" r="4.17"/><circle cx="229" cy="313" r="4.17"/><circle cx="243" cy="89" r="4.17"/><circle cx="154" cy="302" r="4.17"/><circle cx="161" cy="329" r="4.17"/><circle cx="192" cy="243" r="4.17"/><circle cx="319" cy="202" r="4.17"/><circle cx="207" cy="315" r="4.17"/><circle cx="249" cy="232" r="4.17"/><circle cx="113" cy="326" r="4.17"/><circle cx="174" cy="301" r="4.17"/><circle cx="152" cy="330" r="4.17"/><circle cx="205" cy="308" r="4.17"/><circle cx="210" cy="249" r="4.17"/><circle cx="184" cy="280" r="4.17"/><circle cx="210" cy="166" r="4.17"/><circle cx="218" cy="135" r="4.17"/><circle cx="176" cy="234" r="4.17"/><circle cx="191" cy="328" r="4.17"/><circle cx="125" cy="348" r="4.17"/><circle cx="223" cy="245" r="4.17"/><circle cx="148" cy="236" r="4.17"/><circle cx="222" cy="266" r="4.17"/><circle cx="165" cy="307" r="4.17"/><circle cx="275" cy="170" r="4.17"/><circle cx="181" cy="292" r="4.17"/><circle cx="178" cy="292" r="4.17"/><circle cx="220" cy="194" r="4.17"/><circle cx="216" cy="230" r="4.17"/><circle cx="184" cy="337" r="4.17"/><circle cx="162" cy="304" r="4.17"/><circle cx="163" cy="328" r="4.17"/><circle cx="316" cy="132" r="4.17"/><circle cx="113" cy="139" r="4.17"/><circle cx="244" cy="275" r="4.17"/><circle cx="117" cy="362" r="4.17"/><circle cx="115" cy="319" r="4.17"/><circle cx="129" cy="321" r="4.17"/><circle cx="117" cy="322" r="4.17"/><circle cx="160" cy="311" r="4.17"/><circle cx="182" cy="233" r="4.17"/><circle cx="170" cy="327" r="4.17"/><circle cx="153" cy="321" r="4.17"/><circle cx="242" cy="228" r="4.17"/><circle cx="202" cy="173" r="4.17"/><circle cx="235" cy="146" r="4.17"/><circle cx="161" cy="353" r="4.17"/><circle cx="198" cy="242" r="4.17"/><circle cx="237" cy="206" r="4.17"/><circle cx="159" cy="283" r="4.17"/><circle cx="219" cy="202" r="4.17"/><circle cx="116" cy="356" r="4.17"/><circle cx="240" cy="304" r="4.17"/><circle cx="186" cy="264" r="4.17"/><circle cx="193" cy="246" r="4.17"/><circle cx="174" cy="259" r="4.17"/><circle cx="176" cy="323" r="4.17"/><circle cx="246" cy="282" r="4.17"/><circle cx="181" cy="297" r="4.17"/><circle cx="143" cy="282" r="4.17"/><circle cx="156" cy="349" r="4.17"/><circle cx="343" cy="91" r="4.17"/><circle cx="132" cy="307" r="4.17"/><circle cx="143" cy="291" r="4.17"/><circle cx="241" cy="190" r="4.17"/><circle cx="123" cy="347" r="4.17"/><circle cx="281" cy="228" r="4.17"/><circle cx="234" cy="248" r="4.17"/><circle cx="242" cy="257" r="4.17"/><circle cx="153" cy="276" r="4.17"/><circle cx="85" cy="373" r="4.17"/><circle cx="184" cy="290" r="4.17"/><circle cx="159" cy="310" r="4.17"/><circle cx="147" cy="326" r="4.17"/><circle cx="195" cy="230" r="4.17"/><circle cx="216" cy="289" r="4.17"/><circle cx="143" cy="311" r="4.17"/><circle cx="155" cy="364" r="4.17"/><circle cx="164" cy="286" r="4.17"/><circle cx="95" cy="358" r="4.17"/><circle cx="141" cy="331" r="4.17"/><circle cx="267" cy="286" r="4.17"/><circle cx="235" cy="168" r="4.17"/><circle cx="190" cy="285" r="4.17"/><circle cx="298" cy="285" r="4.17"/><circle cx="488" cy="49" r="4.17"/><circle cx="227" cy="302" r="4.17"/>
</g>
<g stroke="#000" stroke-width="1.11" fill="none">
<rect x="48.5" y="32.5" width="620" height="385"/>
<line x1="57.5" y1="417.5" x2="57.5" y2="422.36"/><line x1="135.5" y1="417.5" x2="135.5" y2="422.36"/><line x1="212.5" y1="417.5" x2="212.5" y2="422.36"/><line x1="290.5" y1="417.5" x2="290.5" y2="422.36"/><line x1="368.5" y1="417.5" x2="368.5" y2="422.36"/><line x1="446.5" y1="417.5" x2="446.5" y2="422.36"/><line x1="523.5" y1="417.5" x2="523.5" y2="422.36"/><line x1="601.5" y1="417.5" x2="601.5" y2="422.36"/>
<line x1="43.64" y1="49.5" x2="48.5" y2="49.5"/><line x1="43.64" y1="121.5" x2="48.5" y2="121.5"/><line x1="43.64" y1="194.5" x2="48.5" y2="194.5"/><line x1="43.64" y1="266.5" x2="48.5" y2="266.5"/><line x1="43.64" y1="338.5" x2="48.5" y2="338.5"/><line x1="43.64" y1="410.5" x2="48.5" y2="410.5"/>
</g>
<g class="tk">
<text x="57.5" y="437.6" text-anchor="middle">0</text><text x="135.5" y="437.6" text-anchor="middle">2</text><text x="212.5" y="437.6" text-anchor="middle">4</text><text x="290.5" y="437.6" text-anchor="middle">6</text><text x="368.5" y="437.6" text-anchor="middle">8</text><text x="446.5" y="437.6" text-anchor="middle">10</text><text x="523.5" y="437.6" text-anchor="middle">12</text><text x="601.5" y="437.6" text-anchor="middle">14</text>
<text x="39.4" y="54.70" text-anchor="end">5</text><text x="39.4" y="126.70" text-anchor="end">4</text><text x="39.4" y="199.70" text-anchor="end">3</text><text x="39.4" y="271.70" text-anchor="end">2</text><text x="39.4" y="343.70" text-anchor="end">1</text><text x="39.4" y="415.70" text-anchor="end">0</text>
</g>
<text x="358.3" y="23.0" text-anchor="middle" font-size="18.25px">Median Income Vs House Price</text>
<text x="358.4" y="458.2" text-anchor="middle" font-size="14.95px">MedInc</text>
<text transform="translate(20.6 227.6) rotate(-90)" text-anchor="middle" font-size="14.8px">MedHouseVal</text>
</svg>
</body></html>
